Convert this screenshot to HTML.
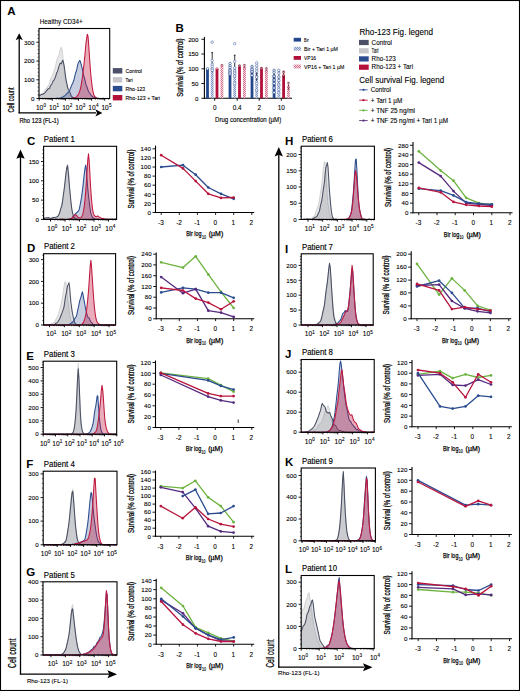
<!DOCTYPE html>
<html><head><meta charset="utf-8"><title>Figure</title>
<style>html,body{margin:0;padding:0;background:#fff;}body{width:520px;height:691px;overflow:hidden;font-family:"Liberation Sans",sans-serif;}svg{display:block;}</style>
</head><body>
<svg width="520" height="691" viewBox="0 0 520 691" font-family='"Liberation Sans", sans-serif'><text x="7.3" y="15.4" font-size="11.5" font-weight="bold">A</text>
<text x="39.8" y="24" font-size="7.2" stroke="#000" stroke-width="0.1" textLength="43" lengthAdjust="spacingAndGlyphs">Healthy CD34+</text>
<path d="M39,98.5 L39,94.6 L39.7,94.3 L40.4,94.4 L41.1,94.5 L41.8,94.1 L42.5,93.3 L43.2,93 L43.9,92.3 L44.6,90.9 L45.3,89.6 L46,88.8 L46.7,88.2 L47.4,87 L48.1,86 L48.8,85 L49.5,83 L50.2,80.4 L50.9,78.3 L51.6,77.5 L52.3,76.3 L53,73.8 L53.7,71.7 L54.4,69.9 L55.1,68.1 L55.8,65.3 L56.5,61.9 L57.2,59.5 L57.9,58.3 L58.6,56.6 L59.3,53.5 L60,50.6 L60.7,48.6 L61.4,47.3 L62.1,50.2 L62.8,56.4 L63.5,62.7 L64.2,69.2 L64.9,75.9 L65.6,81 L66.3,84.2 L67,87 L67.7,90.1 L68.4,92.4 L69.1,94.1 L69.8,95.8 L70.5,96.8 L71.2,97.1 L71.9,97.5 L72.6,97.9 L73.3,98.2 L74,98.3 L74.7,98.1 L75.4,98.2 L76.1,98.5 L76.8,98.5 L77.5,98.5 L78.2,98.4 L78.9,98.4 L79.6,98.5 L80.3,98.5 L81,98.4 L81.7,98.4 L82.4,98.5 L83.1,98.5 L83.8,98.5 L84.5,98.5 L85.2,98.5 L85.9,98.5 L86.6,98.5 L87.3,98.5 L88,98.5 L88.7,98.5 L89.4,98.4 L90.1,98.4 L90.8,98.4 L91.5,98.5 L92.2,98.5 L92.9,98.5 L93.6,98.5 L94.3,98.5 L95,98.5 L95.7,98.5 L96.4,98.5 L97.1,98.5 L97.8,98.5 L98.5,98.5 L99.2,98.5 L99.9,98.5 L100.6,98.5 L101.3,98.4 L102,98.4 L102.7,98.5 L103.4,98.5 L104.1,98.5 L104.8,98.5 L105.5,98.5 L106.2,98.5 L106.9,98.5 L107.6,98.5 L108.3,98.5 L109,98.4 L109.7,98.4 L109.7,98.5 Z" fill="rgba(150,150,156,0.22)" stroke="none"/>
<path d="M39,94.6 L39.7,94.3 L40.4,94.4 L41.1,94.5 L41.8,94.1 L42.5,93.3 L43.2,93 L43.9,92.3 L44.6,90.9 L45.3,89.6 L46,88.8 L46.7,88.2 L47.4,87 L48.1,86 L48.8,85 L49.5,83 L50.2,80.4 L50.9,78.3 L51.6,77.5 L52.3,76.3 L53,73.8 L53.7,71.7 L54.4,69.9 L55.1,68.1 L55.8,65.3 L56.5,61.9 L57.2,59.5 L57.9,58.3 L58.6,56.6 L59.3,53.5 L60,50.6 L60.7,48.6 L61.4,47.3 L62.1,50.2 L62.8,56.4 L63.5,62.7 L64.2,69.2 L64.9,75.9 L65.6,81 L66.3,84.2 L67,87 L67.7,90.1 L68.4,92.4 L69.1,94.1 L69.8,95.8 L70.5,96.8 L71.2,97.1 L71.9,97.5 L72.6,97.9 L73.3,98.2 L74,98.3 L74.7,98.1 L75.4,98.2 L76.1,98.5 L76.8,98.5 L77.5,98.5 L78.2,98.4 L78.9,98.4 L79.6,98.5 L80.3,98.5 L81,98.4 L81.7,98.4 L82.4,98.5 L83.1,98.5 L83.8,98.5 L84.5,98.5 L85.2,98.5 L85.9,98.5 L86.6,98.5 L87.3,98.5 L88,98.5 L88.7,98.5 L89.4,98.4 L90.1,98.4 L90.8,98.4 L91.5,98.5 L92.2,98.5 L92.9,98.5 L93.6,98.5 L94.3,98.5 L95,98.5 L95.7,98.5 L96.4,98.5 L97.1,98.5 L97.8,98.5 L98.5,98.5 L99.2,98.5 L99.9,98.5 L100.6,98.5 L101.3,98.4 L102,98.4 L102.7,98.5 L103.4,98.5 L104.1,98.5 L104.8,98.5 L105.5,98.5 L106.2,98.5 L106.9,98.5 L107.6,98.5 L108.3,98.5 L109,98.4 L109.7,98.4" fill="none" stroke="#d2d2d5" stroke-width="1.05" stroke-linejoin="round"/>
<path d="M39,98.5 L39,95 L39.7,95.3 L40.4,95.2 L41.1,94.6 L41.8,94.3 L42.5,94.4 L43.2,94 L43.9,93.5 L44.6,93.1 L45.3,92.4 L46,91.5 L46.7,90.7 L47.4,89.9 L48.1,88.8 L48.8,88.8 L49.5,88.6 L50.2,86.5 L50.9,85.2 L51.6,84.6 L52.3,82.9 L53,81.3 L53.7,80.4 L54.4,79.2 L55.1,77.8 L55.8,75.8 L56.5,73.3 L57.2,72 L57.9,70.2 L58.6,67.4 L59.3,65.4 L60,63.4 L60.7,63.2 L61.4,63.8 L62.1,61.4 L62.8,60.2 L63.5,62.6 L64.2,66.1 L64.9,71.4 L65.6,76.8 L66.3,80.9 L67,84.2 L67.7,87.6 L68.4,89.5 L69.1,90.2 L69.8,92.1 L70.5,94.1 L71.2,95.5 L71.9,96.7 L72.6,97.2 L73.3,97.5 L74,98 L74.7,98.2 L75.4,98.3 L76.1,98.4 L76.8,98.3 L77.5,98.2 L78.2,98.3 L78.9,98.5 L79.6,98.5 L80.3,98.5 L81,98.5 L81.7,98.5 L82.4,98.5 L83.1,98.4 L83.8,98.5 L84.5,98.5 L85.2,98.5 L85.9,98.5 L86.6,98.5 L87.3,98.5 L88,98.4 L88.7,98.5 L89.4,98.5 L90.1,98.5 L90.8,98.5 L91.5,98.5 L92.2,98.5 L92.9,98.5 L93.6,98.5 L94.3,98.5 L95,98.5 L95.7,98.5 L96.4,98.5 L97.1,98.5 L97.8,98.5 L98.5,98.5 L99.2,98.5 L99.9,98.5 L100.6,98.5 L101.3,98.5 L102,98.4 L102.7,98.3 L103.4,98.3 L104.1,98.4 L104.8,98.5 L105.5,98.5 L106.2,98.4 L106.9,98.4 L107.6,98.5 L108.3,98.5 L109,98.4 L109.7,98.4 L109.7,98.5 Z" fill="rgba(110,113,124,0.23)" stroke="none"/>
<path d="M39,95 L39.7,95.3 L40.4,95.2 L41.1,94.6 L41.8,94.3 L42.5,94.4 L43.2,94 L43.9,93.5 L44.6,93.1 L45.3,92.4 L46,91.5 L46.7,90.7 L47.4,89.9 L48.1,88.8 L48.8,88.8 L49.5,88.6 L50.2,86.5 L50.9,85.2 L51.6,84.6 L52.3,82.9 L53,81.3 L53.7,80.4 L54.4,79.2 L55.1,77.8 L55.8,75.8 L56.5,73.3 L57.2,72 L57.9,70.2 L58.6,67.4 L59.3,65.4 L60,63.4 L60.7,63.2 L61.4,63.8 L62.1,61.4 L62.8,60.2 L63.5,62.6 L64.2,66.1 L64.9,71.4 L65.6,76.8 L66.3,80.9 L67,84.2 L67.7,87.6 L68.4,89.5 L69.1,90.2 L69.8,92.1 L70.5,94.1 L71.2,95.5 L71.9,96.7 L72.6,97.2 L73.3,97.5 L74,98 L74.7,98.2 L75.4,98.3 L76.1,98.4 L76.8,98.3 L77.5,98.2 L78.2,98.3 L78.9,98.5 L79.6,98.5 L80.3,98.5 L81,98.5 L81.7,98.5 L82.4,98.5 L83.1,98.4 L83.8,98.5 L84.5,98.5 L85.2,98.5 L85.9,98.5 L86.6,98.5 L87.3,98.5 L88,98.4 L88.7,98.5 L89.4,98.5 L90.1,98.5 L90.8,98.5 L91.5,98.5 L92.2,98.5 L92.9,98.5 L93.6,98.5 L94.3,98.5 L95,98.5 L95.7,98.5 L96.4,98.5 L97.1,98.5 L97.8,98.5 L98.5,98.5 L99.2,98.5 L99.9,98.5 L100.6,98.5 L101.3,98.5 L102,98.4 L102.7,98.3 L103.4,98.3 L104.1,98.4 L104.8,98.5 L105.5,98.5 L106.2,98.4 L106.9,98.4 L107.6,98.5 L108.3,98.5 L109,98.4 L109.7,98.4" fill="none" stroke="#4a4f62" stroke-width="1.05" stroke-linejoin="round"/>
<path d="M39,98.5 L39,98.5 L39.7,98.5 L40.4,98.5 L41.1,98.5 L41.8,98.5 L42.5,98.5 L43.2,98.4 L43.9,98.4 L44.6,98.5 L45.3,98.4 L46,98.4 L46.7,98.4 L47.4,98.5 L48.1,98.5 L48.8,98.5 L49.5,98.5 L50.2,98.5 L50.9,98.5 L51.6,98.5 L52.3,98.5 L53,98.5 L53.7,98.4 L54.4,98.4 L55.1,98.5 L55.8,98.4 L56.5,98.2 L57.2,98.2 L57.9,98.2 L58.6,98.2 L59.3,98.2 L60,98.1 L60.7,98.1 L61.4,97.7 L62.1,97.3 L62.8,97.1 L63.5,96.6 L64.2,96 L64.9,95.7 L65.6,95 L66.3,94.1 L67,93.4 L67.7,92.8 L68.4,92.2 L69.1,91.2 L69.8,89.9 L70.5,88.3 L71.2,86.4 L71.9,84.6 L72.6,83.5 L73.3,81.8 L74,79.6 L74.7,76.7 L75.4,73.5 L76.1,71.8 L76.8,69.4 L77.5,65.6 L78.2,63.2 L78.9,62 L79.6,60.5 L80.3,61.1 L81,63.8 L81.7,66.4 L82.4,69.4 L83.1,73 L83.8,75.9 L84.5,78 L85.2,81.1 L85.9,84.4 L86.6,86 L87.3,87.8 L88,90.1 L88.7,91.7 L89.4,92.8 L90.1,93.6 L90.8,94.7 L91.5,95.7 L92.2,96.3 L92.9,96.8 L93.6,97.2 L94.3,97.4 L95,97.6 L95.7,98.2 L96.4,98.5 L97.1,98.3 L97.8,98.2 L98.5,98.3 L99.2,98.4 L99.9,98.4 L100.6,98.4 L101.3,98.4 L102,98.5 L102.7,98.4 L103.4,98.4 L104.1,98.4 L104.8,98.5 L105.5,98.4 L106.2,98.4 L106.9,98.5 L107.6,98.5 L108.3,98.5 L109,98.5 L109.7,98.5 L109.7,98.5 Z" fill="rgba(44,75,142,0.27)" stroke="none"/>
<path d="M39,98.5 L39.7,98.5 L40.4,98.5 L41.1,98.5 L41.8,98.5 L42.5,98.5 L43.2,98.4 L43.9,98.4 L44.6,98.5 L45.3,98.4 L46,98.4 L46.7,98.4 L47.4,98.5 L48.1,98.5 L48.8,98.5 L49.5,98.5 L50.2,98.5 L50.9,98.5 L51.6,98.5 L52.3,98.5 L53,98.5 L53.7,98.4 L54.4,98.4 L55.1,98.5 L55.8,98.4 L56.5,98.2 L57.2,98.2 L57.9,98.2 L58.6,98.2 L59.3,98.2 L60,98.1 L60.7,98.1 L61.4,97.7 L62.1,97.3 L62.8,97.1 L63.5,96.6 L64.2,96 L64.9,95.7 L65.6,95 L66.3,94.1 L67,93.4 L67.7,92.8 L68.4,92.2 L69.1,91.2 L69.8,89.9 L70.5,88.3 L71.2,86.4 L71.9,84.6 L72.6,83.5 L73.3,81.8 L74,79.6 L74.7,76.7 L75.4,73.5 L76.1,71.8 L76.8,69.4 L77.5,65.6 L78.2,63.2 L78.9,62 L79.6,60.5 L80.3,61.1 L81,63.8 L81.7,66.4 L82.4,69.4 L83.1,73 L83.8,75.9 L84.5,78 L85.2,81.1 L85.9,84.4 L86.6,86 L87.3,87.8 L88,90.1 L88.7,91.7 L89.4,92.8 L90.1,93.6 L90.8,94.7 L91.5,95.7 L92.2,96.3 L92.9,96.8 L93.6,97.2 L94.3,97.4 L95,97.6 L95.7,98.2 L96.4,98.5 L97.1,98.3 L97.8,98.2 L98.5,98.3 L99.2,98.4 L99.9,98.4 L100.6,98.4 L101.3,98.4 L102,98.5 L102.7,98.4 L103.4,98.4 L104.1,98.4 L104.8,98.5 L105.5,98.4 L106.2,98.4 L106.9,98.5 L107.6,98.5 L108.3,98.5 L109,98.5 L109.7,98.5" fill="none" stroke="#2c4b8e" stroke-width="1.05" stroke-linejoin="round"/>
<path d="M39,98.5 L39,98.5 L39.7,98.5 L40.4,98.5 L41.1,98.5 L41.8,98.5 L42.5,98.4 L43.2,98.5 L43.9,98.5 L44.6,98.5 L45.3,98.5 L46,98.5 L46.7,98.5 L47.4,98.5 L48.1,98.5 L48.8,98.4 L49.5,98.4 L50.2,98.5 L50.9,98.5 L51.6,98.5 L52.3,98.5 L53,98.5 L53.7,98.5 L54.4,98.5 L55.1,98.5 L55.8,98.5 L56.5,98.5 L57.2,98.5 L57.9,98.5 L58.6,98.5 L59.3,98.5 L60,98.5 L60.7,98.5 L61.4,98.4 L62.1,98.5 L62.8,98.5 L63.5,98.5 L64.2,98.5 L64.9,98.5 L65.6,98.5 L66.3,98.5 L67,98.5 L67.7,98.5 L68.4,98.5 L69.1,98.5 L69.8,98.4 L70.5,98.4 L71.2,98.4 L71.9,98.3 L72.6,98.2 L73.3,98.1 L74,98 L74.7,97.7 L75.4,97.5 L76.1,97.1 L76.8,96.4 L77.5,95.6 L78.2,94.6 L78.9,93.2 L79.6,91.4 L80.3,89.2 L81,86.1 L81.7,81.9 L82.4,77.4 L83.1,71.8 L83.8,65.8 L84.5,59.3 L85.2,51.8 L85.9,44.4 L86.6,38.5 L87.3,34.2 L88,36.2 L88.7,44.8 L89.4,55.5 L90.1,65.5 L90.8,74.2 L91.5,81.3 L92.2,86.9 L92.9,91.2 L93.6,94.2 L94.3,95.9 L95,96.7 L95.7,97.3 L96.4,97.7 L97.1,98.2 L97.8,98.4 L98.5,98.4 L99.2,98.5 L99.9,98.5 L100.6,98.5 L101.3,98.5 L102,98.5 L102.7,98.5 L103.4,98.5 L104.1,98.5 L104.8,98.5 L105.5,98.5 L106.2,98.5 L106.9,98.5 L107.6,98.5 L108.3,98.5 L109,98.5 L109.7,98.5 L109.7,98.5 Z" fill="rgba(192,24,63,0.36)" stroke="none"/>
<path d="M39,98.5 L39.7,98.5 L40.4,98.5 L41.1,98.5 L41.8,98.5 L42.5,98.4 L43.2,98.5 L43.9,98.5 L44.6,98.5 L45.3,98.5 L46,98.5 L46.7,98.5 L47.4,98.5 L48.1,98.5 L48.8,98.4 L49.5,98.4 L50.2,98.5 L50.9,98.5 L51.6,98.5 L52.3,98.5 L53,98.5 L53.7,98.5 L54.4,98.5 L55.1,98.5 L55.8,98.5 L56.5,98.5 L57.2,98.5 L57.9,98.5 L58.6,98.5 L59.3,98.5 L60,98.5 L60.7,98.5 L61.4,98.4 L62.1,98.5 L62.8,98.5 L63.5,98.5 L64.2,98.5 L64.9,98.5 L65.6,98.5 L66.3,98.5 L67,98.5 L67.7,98.5 L68.4,98.5 L69.1,98.5 L69.8,98.4 L70.5,98.4 L71.2,98.4 L71.9,98.3 L72.6,98.2 L73.3,98.1 L74,98 L74.7,97.7 L75.4,97.5 L76.1,97.1 L76.8,96.4 L77.5,95.6 L78.2,94.6 L78.9,93.2 L79.6,91.4 L80.3,89.2 L81,86.1 L81.7,81.9 L82.4,77.4 L83.1,71.8 L83.8,65.8 L84.5,59.3 L85.2,51.8 L85.9,44.4 L86.6,38.5 L87.3,34.2 L88,36.2 L88.7,44.8 L89.4,55.5 L90.1,65.5 L90.8,74.2 L91.5,81.3 L92.2,86.9 L92.9,91.2 L93.6,94.2 L94.3,95.9 L95,96.7 L95.7,97.3 L96.4,97.7 L97.1,98.2 L97.8,98.4 L98.5,98.4 L99.2,98.5 L99.9,98.5 L100.6,98.5 L101.3,98.5 L102,98.5 L102.7,98.5 L103.4,98.5 L104.1,98.5 L104.8,98.5 L105.5,98.5 L106.2,98.5 L106.9,98.5 L107.6,98.5 L108.3,98.5 L109,98.5 L109.7,98.5" fill="none" stroke="#c0183f" stroke-width="1.05" stroke-linejoin="round"/>
<rect x="39" y="28.5" width="70.7" height="70" fill="none" stroke="#000" stroke-width="1.1"/>
<line x1="36.4" y1="98.5" x2="39" y2="98.5" stroke="#000" stroke-width="0.9"/>
<text x="34.4" y="100.7" font-size="6.2" stroke="#000" stroke-width="0.1" text-anchor="end">0</text>
<line x1="37.6" y1="94.8" x2="39" y2="94.8" stroke="#000" stroke-width="0.6"/>
<line x1="37.6" y1="91" x2="39" y2="91" stroke="#000" stroke-width="0.6"/>
<line x1="37.6" y1="87.2" x2="39" y2="87.2" stroke="#000" stroke-width="0.6"/>
<line x1="37.6" y1="83.5" x2="39" y2="83.5" stroke="#000" stroke-width="0.6"/>
<line x1="36.4" y1="79.8" x2="39" y2="79.8" stroke="#000" stroke-width="0.9"/>
<text x="34.4" y="82" font-size="6.2" stroke="#000" stroke-width="0.1" text-anchor="end">100</text>
<line x1="37.6" y1="76" x2="39" y2="76" stroke="#000" stroke-width="0.6"/>
<line x1="37.6" y1="72.2" x2="39" y2="72.2" stroke="#000" stroke-width="0.6"/>
<line x1="37.6" y1="68.5" x2="39" y2="68.5" stroke="#000" stroke-width="0.6"/>
<line x1="37.6" y1="64.8" x2="39" y2="64.8" stroke="#000" stroke-width="0.6"/>
<line x1="36.4" y1="61" x2="39" y2="61" stroke="#000" stroke-width="0.9"/>
<text x="34.4" y="63.2" font-size="6.2" stroke="#000" stroke-width="0.1" text-anchor="end">200</text>
<line x1="37.6" y1="57.2" x2="39" y2="57.2" stroke="#000" stroke-width="0.6"/>
<line x1="37.6" y1="53.5" x2="39" y2="53.5" stroke="#000" stroke-width="0.6"/>
<line x1="37.6" y1="49.8" x2="39" y2="49.8" stroke="#000" stroke-width="0.6"/>
<line x1="37.6" y1="46" x2="39" y2="46" stroke="#000" stroke-width="0.6"/>
<line x1="36.4" y1="42.2" x2="39" y2="42.2" stroke="#000" stroke-width="0.9"/>
<text x="34.4" y="44.5" font-size="6.2" stroke="#000" stroke-width="0.1" text-anchor="end">300</text>
<line x1="37.6" y1="38.5" x2="39" y2="38.5" stroke="#000" stroke-width="0.6"/>
<line x1="37.6" y1="34.8" x2="39" y2="34.8" stroke="#000" stroke-width="0.6"/>
<line x1="37.6" y1="31" x2="39" y2="31" stroke="#000" stroke-width="0.6"/>
<line x1="39.2" y1="98.5" x2="39.2" y2="100.7" stroke="#000" stroke-width="0.9"/>
<line x1="43.1" y1="98.5" x2="43.1" y2="99.7" stroke="#000" stroke-width="0.6"/>
<line x1="45.5" y1="98.5" x2="45.5" y2="99.7" stroke="#000" stroke-width="0.6"/>
<line x1="47.1" y1="98.5" x2="47.1" y2="99.7" stroke="#000" stroke-width="0.6"/>
<line x1="48.4" y1="98.5" x2="48.4" y2="99.7" stroke="#000" stroke-width="0.6"/>
<line x1="49.4" y1="98.5" x2="49.4" y2="99.7" stroke="#000" stroke-width="0.6"/>
<line x1="50.3" y1="98.5" x2="50.3" y2="99.7" stroke="#000" stroke-width="0.6"/>
<line x1="51" y1="98.5" x2="51" y2="99.7" stroke="#000" stroke-width="0.6"/>
<line x1="51.7" y1="98.5" x2="51.7" y2="99.7" stroke="#000" stroke-width="0.6"/>
<text x="39.6" y="109.8" font-size="6.6" stroke="#000" stroke-width="0.1" text-anchor="middle">10</text>
<text x="43.5" y="107.2" font-size="4.6" stroke="#000" stroke-width="0.1">0</text>
<line x1="52.3" y1="98.5" x2="52.3" y2="100.7" stroke="#000" stroke-width="0.9"/>
<line x1="56.2" y1="98.5" x2="56.2" y2="99.7" stroke="#000" stroke-width="0.6"/>
<line x1="58.6" y1="98.5" x2="58.6" y2="99.7" stroke="#000" stroke-width="0.6"/>
<line x1="60.2" y1="98.5" x2="60.2" y2="99.7" stroke="#000" stroke-width="0.6"/>
<line x1="61.5" y1="98.5" x2="61.5" y2="99.7" stroke="#000" stroke-width="0.6"/>
<line x1="62.5" y1="98.5" x2="62.5" y2="99.7" stroke="#000" stroke-width="0.6"/>
<line x1="63.4" y1="98.5" x2="63.4" y2="99.7" stroke="#000" stroke-width="0.6"/>
<line x1="64.1" y1="98.5" x2="64.1" y2="99.7" stroke="#000" stroke-width="0.6"/>
<line x1="64.8" y1="98.5" x2="64.8" y2="99.7" stroke="#000" stroke-width="0.6"/>
<text x="52.7" y="109.8" font-size="6.6" stroke="#000" stroke-width="0.1" text-anchor="middle">10</text>
<text x="56.6" y="107.2" font-size="4.6" stroke="#000" stroke-width="0.1">1</text>
<line x1="65.4" y1="98.5" x2="65.4" y2="100.7" stroke="#000" stroke-width="0.9"/>
<line x1="69.3" y1="98.5" x2="69.3" y2="99.7" stroke="#000" stroke-width="0.6"/>
<line x1="71.7" y1="98.5" x2="71.7" y2="99.7" stroke="#000" stroke-width="0.6"/>
<line x1="73.3" y1="98.5" x2="73.3" y2="99.7" stroke="#000" stroke-width="0.6"/>
<line x1="74.6" y1="98.5" x2="74.6" y2="99.7" stroke="#000" stroke-width="0.6"/>
<line x1="75.6" y1="98.5" x2="75.6" y2="99.7" stroke="#000" stroke-width="0.6"/>
<line x1="76.5" y1="98.5" x2="76.5" y2="99.7" stroke="#000" stroke-width="0.6"/>
<line x1="77.2" y1="98.5" x2="77.2" y2="99.7" stroke="#000" stroke-width="0.6"/>
<line x1="77.9" y1="98.5" x2="77.9" y2="99.7" stroke="#000" stroke-width="0.6"/>
<text x="65.8" y="109.8" font-size="6.6" stroke="#000" stroke-width="0.1" text-anchor="middle">10</text>
<text x="69.7" y="107.2" font-size="4.6" stroke="#000" stroke-width="0.1">2</text>
<line x1="78.5" y1="98.5" x2="78.5" y2="100.7" stroke="#000" stroke-width="0.9"/>
<line x1="82.4" y1="98.5" x2="82.4" y2="99.7" stroke="#000" stroke-width="0.6"/>
<line x1="84.8" y1="98.5" x2="84.8" y2="99.7" stroke="#000" stroke-width="0.6"/>
<line x1="86.4" y1="98.5" x2="86.4" y2="99.7" stroke="#000" stroke-width="0.6"/>
<line x1="87.7" y1="98.5" x2="87.7" y2="99.7" stroke="#000" stroke-width="0.6"/>
<line x1="88.7" y1="98.5" x2="88.7" y2="99.7" stroke="#000" stroke-width="0.6"/>
<line x1="89.6" y1="98.5" x2="89.6" y2="99.7" stroke="#000" stroke-width="0.6"/>
<line x1="90.3" y1="98.5" x2="90.3" y2="99.7" stroke="#000" stroke-width="0.6"/>
<line x1="91" y1="98.5" x2="91" y2="99.7" stroke="#000" stroke-width="0.6"/>
<text x="78.9" y="109.8" font-size="6.6" stroke="#000" stroke-width="0.1" text-anchor="middle">10</text>
<text x="82.8" y="107.2" font-size="4.6" stroke="#000" stroke-width="0.1">3</text>
<line x1="91.6" y1="98.5" x2="91.6" y2="100.7" stroke="#000" stroke-width="0.9"/>
<line x1="95.5" y1="98.5" x2="95.5" y2="99.7" stroke="#000" stroke-width="0.6"/>
<line x1="97.9" y1="98.5" x2="97.9" y2="99.7" stroke="#000" stroke-width="0.6"/>
<line x1="99.5" y1="98.5" x2="99.5" y2="99.7" stroke="#000" stroke-width="0.6"/>
<line x1="100.8" y1="98.5" x2="100.8" y2="99.7" stroke="#000" stroke-width="0.6"/>
<line x1="101.8" y1="98.5" x2="101.8" y2="99.7" stroke="#000" stroke-width="0.6"/>
<line x1="102.7" y1="98.5" x2="102.7" y2="99.7" stroke="#000" stroke-width="0.6"/>
<line x1="103.4" y1="98.5" x2="103.4" y2="99.7" stroke="#000" stroke-width="0.6"/>
<line x1="104.1" y1="98.5" x2="104.1" y2="99.7" stroke="#000" stroke-width="0.6"/>
<text x="92" y="109.8" font-size="6.6" stroke="#000" stroke-width="0.1" text-anchor="middle">10</text>
<text x="95.9" y="107.2" font-size="4.6" stroke="#000" stroke-width="0.1">4</text>
<line x1="104.7" y1="98.5" x2="104.7" y2="100.7" stroke="#000" stroke-width="0.9"/>
<line x1="108.6" y1="98.5" x2="108.6" y2="99.7" stroke="#000" stroke-width="0.6"/>
<text x="105.1" y="109.8" font-size="6.6" stroke="#000" stroke-width="0.1" text-anchor="middle">10</text>
<text x="109" y="107.2" font-size="4.6" stroke="#000" stroke-width="0.1">5</text>
<line x1="19.2" y1="38" x2="19.2" y2="113.2" stroke="#000" stroke-width="1.3"/>
<polygon points="19.2,33.2 15.6,40.2 19.2,38.6 22.8,40.2" fill="#000"/>
<line x1="18.6" y1="112.9" x2="96" y2="112.9" stroke="#000" stroke-width="1.3"/>
<polygon points="102.4,112.9 95.4,109.3 97,112.9 95.4,116.5" fill="#000"/>
<text transform="translate(14.4,100) rotate(-90)" x="0" y="0" font-size="9.4" text-anchor="middle" textLength="25" lengthAdjust="spacingAndGlyphs" stroke="#000" stroke-width="0.25">Cell count</text>
<text x="19.4" y="123.4" font-size="7.8" stroke="#000" stroke-width="0.2" textLength="39.4" lengthAdjust="spacingAndGlyphs">Rho 123 (FL-1)</text>
<rect x="112.8" y="68.1" width="9.5" height="5.4" fill="#4b5068"/>
<text x="125.6" y="72.7" font-size="5.4" stroke="#000" stroke-width="0.1" textLength="16.4" lengthAdjust="spacingAndGlyphs">Control</text>
<rect x="112.8" y="77.1" width="9.5" height="5.4" fill="#c6c6ca"/>
<text x="125.6" y="81.7" font-size="5.4" stroke="#000" stroke-width="0.1" textLength="7.1" lengthAdjust="spacingAndGlyphs">Tari</text>
<rect x="112.8" y="85.9" width="9.5" height="5.4" fill="#2b4b8f"/>
<text x="125.6" y="90.5" font-size="5.4" stroke="#000" stroke-width="0.1" textLength="19.6" lengthAdjust="spacingAndGlyphs">Rho-123</text>
<rect x="112.8" y="95" width="9.5" height="5.4" fill="#b3103a"/>
<text x="125.6" y="99.6" font-size="5.4" stroke="#000" stroke-width="0.1" textLength="34.4" lengthAdjust="spacingAndGlyphs">Rho-123 + Tari</text>
<text x="175.6" y="32.1" font-size="11.5" font-weight="bold">B</text>
<line x1="204.4" y1="37" x2="204.4" y2="98.8" stroke="#000" stroke-width="1.1"/>
<line x1="203.9" y1="98.3" x2="292" y2="98.3" stroke="#000" stroke-width="1.1"/>
<line x1="201.4" y1="98.3" x2="204.4" y2="98.3" stroke="#000" stroke-width="0.9"/>
<text x="198.5" y="100.5" font-size="6.2" stroke="#000" stroke-width="0.1" text-anchor="end">0</text>
<line x1="201.4" y1="83.5" x2="204.4" y2="83.5" stroke="#000" stroke-width="0.9"/>
<text x="198.5" y="85.8" font-size="6.2" stroke="#000" stroke-width="0.1" text-anchor="end">50</text>
<line x1="201.4" y1="68.8" x2="204.4" y2="68.8" stroke="#000" stroke-width="0.9"/>
<text x="198.5" y="71" font-size="6.2" stroke="#000" stroke-width="0.1" text-anchor="end">100</text>
<line x1="201.4" y1="54" x2="204.4" y2="54" stroke="#000" stroke-width="0.9"/>
<text x="198.5" y="56.2" font-size="6.2" stroke="#000" stroke-width="0.1" text-anchor="end">150</text>
<line x1="201.4" y1="39.3" x2="204.4" y2="39.3" stroke="#000" stroke-width="0.9"/>
<text x="198.5" y="41.5" font-size="6.2" stroke="#000" stroke-width="0.1" text-anchor="end">200</text>
<text transform="translate(182.6,67.6) rotate(-90)" x="0" y="0" font-size="8.2" text-anchor="middle" textLength="58.3" lengthAdjust="spacingAndGlyphs" stroke="#000" stroke-width="0.26">Survival (% of control)</text>
<line x1="214.7" y1="98.3" x2="214.7" y2="100.8" stroke="#000" stroke-width="0.9"/>
<text x="214.7" y="110.3" font-size="6.4" stroke="#000" stroke-width="0.1" text-anchor="middle">0</text>
<line x1="237.2" y1="98.3" x2="237.2" y2="100.8" stroke="#000" stroke-width="0.9"/>
<text x="237.2" y="110.3" font-size="6.4" stroke="#000" stroke-width="0.1" text-anchor="middle">0.4</text>
<line x1="259.2" y1="98.3" x2="259.2" y2="100.8" stroke="#000" stroke-width="0.9"/>
<text x="259.2" y="110.3" font-size="6.4" stroke="#000" stroke-width="0.1" text-anchor="middle">2</text>
<line x1="281.3" y1="98.3" x2="281.3" y2="100.8" stroke="#000" stroke-width="0.9"/>
<text x="281.3" y="110.3" font-size="6.4" stroke="#000" stroke-width="0.1" text-anchor="middle">10</text>
<text x="215" y="121.5" font-size="7.6" stroke="#000" stroke-width="0.15" textLength="66.2" lengthAdjust="spacingAndGlyphs">Drug concentration (µM)</text>
<defs>
<pattern id="pb" width="2" height="2" patternUnits="userSpaceOnUse"><rect width="2" height="2" fill="#d5dcec"/><rect width="1" height="1" fill="#7d93c3"/><rect x="1" y="1" width="1" height="1" fill="#7d93c3"/></pattern>
<pattern id="pr" width="2" height="2" patternUnits="userSpaceOnUse"><rect width="2" height="2" fill="#f3d3dc"/><rect width="1" height="1" fill="#d66f8c"/><rect x="1" y="1" width="1" height="1" fill="#d66f8c"/></pattern>
</defs>
<rect x="206.1" y="68.8" width="2.8" height="29.5" fill="#23478c"/>
<rect x="210.8" y="67.6" width="2.8" height="30.7" fill="url(#pb)"/>
<rect x="215.6" y="68.8" width="2.8" height="29.5" fill="#b0103a"/>
<rect x="220.5" y="65.3" width="2.8" height="33" fill="url(#pr)"/>
<line x1="212.2" y1="52.6" x2="212.2" y2="72.3" stroke="#000" stroke-width="0.8"/>
<line x1="211.3" y1="52.6" x2="213.1" y2="52.6" stroke="#000" stroke-width="0.8"/>
<line x1="221.9" y1="64.7" x2="221.9" y2="66.4" stroke="#000" stroke-width="0.8"/>
<line x1="221" y1="64.7" x2="222.8" y2="64.7" stroke="#000" stroke-width="0.8"/>
<circle cx="207.5" cy="68.8" r="1.25" fill="#fff" stroke="#2d4f93" stroke-width="0.65"/>
<circle cx="212.2" cy="42.2" r="1.25" fill="#fff" stroke="#5b76b0" stroke-width="0.65"/>
<circle cx="212.2" cy="60.5" r="1.25" fill="#fff" stroke="#5b76b0" stroke-width="0.65"/>
<circle cx="212.2" cy="64.4" r="1.25" fill="#fff" stroke="#5b76b0" stroke-width="0.65"/>
<circle cx="212.2" cy="66.4" r="1.25" fill="#fff" stroke="#5b76b0" stroke-width="0.65"/>
<circle cx="212.2" cy="68.8" r="1.25" fill="#fff" stroke="#5b76b0" stroke-width="0.65"/>
<circle cx="212.2" cy="70.3" r="1.25" fill="#fff" stroke="#5b76b0" stroke-width="0.65"/>
<circle cx="217" cy="68.8" r="1.1" fill="#fff" fill-opacity="0.5" stroke="#b0103a" stroke-width="0.6"/>
<circle cx="221.9" cy="65.3" r="1.1" fill="#fff" fill-opacity="0.5" stroke="#d0577a" stroke-width="0.6"/>
<rect x="228.6" y="68.8" width="2.8" height="29.5" fill="#23478c"/>
<rect x="233.3" y="69.4" width="2.8" height="28.9" fill="url(#pb)"/>
<rect x="238.1" y="66.4" width="2.8" height="31.9" fill="#b0103a"/>
<rect x="243" y="65.8" width="2.8" height="32.4" fill="url(#pr)"/>
<line x1="230" y1="64.4" x2="230" y2="74.7" stroke="#000" stroke-width="0.8"/>
<line x1="229.1" y1="64.4" x2="230.9" y2="64.4" stroke="#000" stroke-width="0.8"/>
<line x1="234.7" y1="55.2" x2="234.7" y2="76.2" stroke="#000" stroke-width="0.8"/>
<line x1="233.8" y1="55.2" x2="235.6" y2="55.2" stroke="#000" stroke-width="0.8"/>
<line x1="239.5" y1="65.3" x2="239.5" y2="67.6" stroke="#000" stroke-width="0.8"/>
<line x1="238.6" y1="65.3" x2="240.4" y2="65.3" stroke="#000" stroke-width="0.8"/>
<line x1="244.4" y1="64.7" x2="244.4" y2="67.6" stroke="#000" stroke-width="0.8"/>
<line x1="243.5" y1="64.7" x2="245.3" y2="64.7" stroke="#000" stroke-width="0.8"/>
<circle cx="230" cy="63.5" r="1.25" fill="#fff" stroke="#2d4f93" stroke-width="0.65"/>
<circle cx="230" cy="65.8" r="1.25" fill="#fff" stroke="#2d4f93" stroke-width="0.65"/>
<circle cx="230" cy="67.6" r="1.25" fill="#fff" stroke="#2d4f93" stroke-width="0.65"/>
<circle cx="230" cy="70.3" r="1.25" fill="#fff" stroke="#2d4f93" stroke-width="0.65"/>
<circle cx="230" cy="72.3" r="1.25" fill="#fff" stroke="#2d4f93" stroke-width="0.65"/>
<circle cx="230" cy="74.1" r="1.25" fill="#fff" stroke="#2d4f93" stroke-width="0.65"/>
<circle cx="234.7" cy="43.7" r="1.25" fill="#fff" stroke="#5b76b0" stroke-width="0.65"/>
<circle cx="234.7" cy="61.4" r="1.25" fill="#fff" stroke="#5b76b0" stroke-width="0.65"/>
<circle cx="234.7" cy="67.9" r="1.25" fill="#fff" stroke="#5b76b0" stroke-width="0.65"/>
<circle cx="234.7" cy="70.9" r="1.25" fill="#fff" stroke="#5b76b0" stroke-width="0.65"/>
<circle cx="234.7" cy="73.2" r="1.25" fill="#fff" stroke="#5b76b0" stroke-width="0.65"/>
<circle cx="234.7" cy="75.9" r="1.25" fill="#fff" stroke="#5b76b0" stroke-width="0.65"/>
<circle cx="234.7" cy="83.5" r="1.25" fill="#fff" stroke="#5b76b0" stroke-width="0.65"/>
<circle cx="239.5" cy="65.8" r="1.1" fill="#fff" fill-opacity="0.5" stroke="#b0103a" stroke-width="0.6"/>
<circle cx="244.4" cy="65.3" r="1.1" fill="#fff" fill-opacity="0.5" stroke="#d0577a" stroke-width="0.6"/>
<circle cx="244.4" cy="68.8" r="1.1" fill="#fff" fill-opacity="0.5" stroke="#d0577a" stroke-width="0.6"/>
<rect x="250.6" y="69.4" width="2.8" height="28.9" fill="#23478c"/>
<rect x="255.3" y="71.8" width="2.8" height="26.5" fill="url(#pb)"/>
<rect x="260.1" y="68.5" width="2.8" height="29.8" fill="#b0103a"/>
<rect x="265" y="69.7" width="2.8" height="28.6" fill="url(#pr)"/>
<line x1="252" y1="66.4" x2="252" y2="73.2" stroke="#000" stroke-width="0.8"/>
<line x1="251.1" y1="66.4" x2="252.9" y2="66.4" stroke="#000" stroke-width="0.8"/>
<line x1="256.7" y1="65.3" x2="256.7" y2="80.6" stroke="#000" stroke-width="0.8"/>
<line x1="255.8" y1="65.3" x2="257.6" y2="65.3" stroke="#000" stroke-width="0.8"/>
<line x1="261.5" y1="67.6" x2="261.5" y2="69.4" stroke="#000" stroke-width="0.8"/>
<line x1="260.6" y1="67.6" x2="262.4" y2="67.6" stroke="#000" stroke-width="0.8"/>
<line x1="266.4" y1="67.9" x2="266.4" y2="71.2" stroke="#000" stroke-width="0.8"/>
<line x1="265.5" y1="67.9" x2="267.3" y2="67.9" stroke="#000" stroke-width="0.8"/>
<circle cx="252" cy="66.4" r="1.25" fill="#fff" stroke="#2d4f93" stroke-width="0.65"/>
<circle cx="252" cy="68.2" r="1.25" fill="#fff" stroke="#2d4f93" stroke-width="0.65"/>
<circle cx="252" cy="69.7" r="1.25" fill="#fff" stroke="#2d4f93" stroke-width="0.65"/>
<circle cx="252" cy="71.8" r="1.25" fill="#fff" stroke="#2d4f93" stroke-width="0.65"/>
<circle cx="252" cy="75.3" r="1.25" fill="#fff" stroke="#2d4f93" stroke-width="0.65"/>
<circle cx="256.7" cy="62.9" r="1.25" fill="#fff" stroke="#5b76b0" stroke-width="0.65"/>
<circle cx="256.7" cy="65.8" r="1.25" fill="#fff" stroke="#5b76b0" stroke-width="0.65"/>
<circle cx="256.7" cy="68.8" r="1.25" fill="#fff" stroke="#5b76b0" stroke-width="0.65"/>
<circle cx="256.7" cy="71.2" r="1.25" fill="#fff" stroke="#5b76b0" stroke-width="0.65"/>
<circle cx="256.7" cy="77.1" r="1.25" fill="#fff" stroke="#5b76b0" stroke-width="0.65"/>
<circle cx="256.7" cy="83.5" r="1.25" fill="#fff" stroke="#5b76b0" stroke-width="0.65"/>
<circle cx="256.7" cy="90" r="1.25" fill="#fff" stroke="#5b76b0" stroke-width="0.65"/>
<circle cx="261.5" cy="68.5" r="1.1" fill="#fff" fill-opacity="0.5" stroke="#b0103a" stroke-width="0.6"/>
<circle cx="266.4" cy="68.8" r="1.1" fill="#fff" fill-opacity="0.5" stroke="#d0577a" stroke-width="0.6"/>
<circle cx="266.4" cy="71.5" r="1.1" fill="#fff" fill-opacity="0.5" stroke="#d0577a" stroke-width="0.6"/>
<rect x="272.7" y="74.7" width="2.8" height="23.6" fill="#23478c"/>
<rect x="277.4" y="76.2" width="2.8" height="22.1" fill="url(#pb)"/>
<rect x="282.2" y="75.3" width="2.8" height="23" fill="#b0103a"/>
<rect x="287.1" y="85.9" width="2.8" height="12.4" fill="url(#pr)"/>
<line x1="274.1" y1="71.2" x2="274.1" y2="79.1" stroke="#000" stroke-width="0.8"/>
<line x1="273.2" y1="71.2" x2="275" y2="71.2" stroke="#000" stroke-width="0.8"/>
<line x1="278.8" y1="71.2" x2="278.8" y2="82.1" stroke="#000" stroke-width="0.8"/>
<line x1="277.9" y1="71.2" x2="279.7" y2="71.2" stroke="#000" stroke-width="0.8"/>
<line x1="283.6" y1="71.2" x2="283.6" y2="77.7" stroke="#000" stroke-width="0.8"/>
<line x1="282.7" y1="71.2" x2="284.5" y2="71.2" stroke="#000" stroke-width="0.8"/>
<line x1="288.5" y1="82.4" x2="288.5" y2="89.5" stroke="#000" stroke-width="0.8"/>
<line x1="287.6" y1="82.4" x2="289.4" y2="82.4" stroke="#000" stroke-width="0.8"/>
<circle cx="274.1" cy="70.3" r="1.25" fill="#fff" stroke="#2d4f93" stroke-width="0.65"/>
<circle cx="274.1" cy="72.3" r="1.25" fill="#fff" stroke="#2d4f93" stroke-width="0.65"/>
<circle cx="274.1" cy="76.2" r="1.25" fill="#fff" stroke="#2d4f93" stroke-width="0.65"/>
<circle cx="274.1" cy="80" r="1.25" fill="#fff" stroke="#2d4f93" stroke-width="0.65"/>
<circle cx="274.1" cy="83.5" r="1.25" fill="#fff" stroke="#2d4f93" stroke-width="0.65"/>
<circle cx="274.1" cy="88" r="1.25" fill="#fff" stroke="#2d4f93" stroke-width="0.65"/>
<circle cx="274.1" cy="92.4" r="1.25" fill="#fff" stroke="#2d4f93" stroke-width="0.65"/>
<circle cx="278.8" cy="70.3" r="1.25" fill="#fff" stroke="#5b76b0" stroke-width="0.65"/>
<circle cx="278.8" cy="73.2" r="1.25" fill="#fff" stroke="#5b76b0" stroke-width="0.65"/>
<circle cx="278.8" cy="77.1" r="1.25" fill="#fff" stroke="#5b76b0" stroke-width="0.65"/>
<circle cx="278.8" cy="80.6" r="1.25" fill="#fff" stroke="#5b76b0" stroke-width="0.65"/>
<circle cx="278.8" cy="85" r="1.25" fill="#fff" stroke="#5b76b0" stroke-width="0.65"/>
<circle cx="278.8" cy="89.5" r="1.25" fill="#fff" stroke="#5b76b0" stroke-width="0.65"/>
<circle cx="278.8" cy="93" r="1.25" fill="#fff" stroke="#5b76b0" stroke-width="0.65"/>
<circle cx="283.6" cy="72.3" r="1.1" fill="#fff" fill-opacity="0.5" stroke="#b0103a" stroke-width="0.6"/>
<circle cx="283.6" cy="75.3" r="1.1" fill="#fff" fill-opacity="0.5" stroke="#b0103a" stroke-width="0.6"/>
<circle cx="288.5" cy="83.5" r="1.1" fill="#fff" fill-opacity="0.5" stroke="#d0577a" stroke-width="0.6"/>
<circle cx="288.5" cy="87.1" r="1.1" fill="#fff" fill-opacity="0.5" stroke="#d0577a" stroke-width="0.6"/>
<rect x="293.7" y="37.8" width="7.3" height="3.8" fill="#23478c"/>
<text x="304.1" y="41.9" font-size="6" stroke="#000" stroke-width="0.1" textLength="4.7" lengthAdjust="spacingAndGlyphs">Bir</text>
<rect x="293.7" y="46.8" width="7.3" height="3.8" fill="url(#pb)"/>
<text x="304.1" y="50.9" font-size="6" stroke="#000" stroke-width="0.1" textLength="33.8" lengthAdjust="spacingAndGlyphs">Bir + Tari 1 µM</text>
<rect x="293.7" y="56" width="7.3" height="3.8" fill="#b0103a"/>
<text x="304.1" y="60.1" font-size="6" stroke="#000" stroke-width="0.1" textLength="12" lengthAdjust="spacingAndGlyphs">VP16</text>
<rect x="293.7" y="64.6" width="7.3" height="3.8" fill="url(#pr)"/>
<text x="304.1" y="68.7" font-size="6" stroke="#000" stroke-width="0.1" textLength="40.2" lengthAdjust="spacingAndGlyphs">VP16 + Tari 1 µM</text>
<text x="359.5" y="34.7" font-size="8.6" stroke="#000" stroke-width="0.1" textLength="73.5" lengthAdjust="spacingAndGlyphs">Rho-123 Fig. legend</text>
<rect x="359" y="39.9" width="9.7" height="5.2" fill="#4b5068"/>
<text x="371.6" y="44.7" font-size="6.5" stroke="#000" stroke-width="0.1" textLength="20.4" lengthAdjust="spacingAndGlyphs">Control</text>
<rect x="359" y="48.2" width="9.7" height="5.2" fill="#c6c6ca"/>
<text x="371.6" y="53" font-size="6.5" stroke="#000" stroke-width="0.1" textLength="7" lengthAdjust="spacingAndGlyphs">Tari</text>
<rect x="359" y="56.3" width="9.7" height="5.2" fill="#2b4b8f"/>
<text x="371.6" y="61.1" font-size="6.5" stroke="#000" stroke-width="0.1" textLength="24.2" lengthAdjust="spacingAndGlyphs">Rho-123</text>
<rect x="359" y="64.6" width="9.7" height="5.2" fill="#b3103a"/>
<text x="371.6" y="69.4" font-size="6.5" stroke="#000" stroke-width="0.1" textLength="41.5" lengthAdjust="spacingAndGlyphs">Rho-123 + Tari</text>
<text x="359.2" y="82.5" font-size="8.6" stroke="#000" stroke-width="0.1" textLength="85" lengthAdjust="spacingAndGlyphs">Cell survival Fig. legend</text>
<line x1="359.2" y1="89.8" x2="367.7" y2="89.8" stroke="#2b4c90" stroke-width="0.9"/>
<circle cx="363.5" cy="89.8" r="1.1" fill="#2b4c90"/>
<text x="370.8" y="92.1" font-size="6.3" stroke="#000" stroke-width="0.1" textLength="20.2" lengthAdjust="spacingAndGlyphs">Control</text>
<line x1="359.2" y1="100.2" x2="367.7" y2="100.2" stroke="#b8143d" stroke-width="0.9"/>
<circle cx="363.5" cy="100.2" r="1.1" fill="#b8143d"/>
<text x="370.8" y="102.5" font-size="6.3" stroke="#000" stroke-width="0.1" textLength="31.5" lengthAdjust="spacingAndGlyphs">+ Tari 1 µM</text>
<line x1="359.2" y1="110.4" x2="367.7" y2="110.4" stroke="#6db33f" stroke-width="0.9"/>
<circle cx="363.5" cy="110.4" r="1.1" fill="#6db33f"/>
<text x="370.8" y="112.7" font-size="6.3" stroke="#000" stroke-width="0.1" textLength="44.2" lengthAdjust="spacingAndGlyphs">+ TNF 25 ng/ml</text>
<line x1="359.2" y1="120.6" x2="367.7" y2="120.6" stroke="#562a7e" stroke-width="0.9"/>
<circle cx="363.5" cy="120.6" r="1.1" fill="#562a7e"/>
<text x="370.8" y="122.9" font-size="6.3" stroke="#000" stroke-width="0.1" textLength="77.2" lengthAdjust="spacingAndGlyphs">+ TNF 25 ng/ml + Tari 1 µM</text>
<line x1="20.5" y1="157" x2="20.5" y2="674.5" stroke="#000" stroke-width="1.3"/>
<polygon points="20.5,149.4 16.3,158.8 20.5,157.2 24.7,158.8" fill="#000"/>
<line x1="19.9" y1="674.2" x2="109" y2="674.2" stroke="#000" stroke-width="1.3"/>
<polygon points="117,674.2 107.5,670.2 109.2,674.2 107.5,678.2" fill="#000"/>
<text transform="translate(15.6,653.2) rotate(-90)" x="0" y="0" font-size="10.2" text-anchor="middle" textLength="29.4" lengthAdjust="spacingAndGlyphs" stroke="#000" stroke-width="0.25">Cell count</text>
<text x="26.9" y="682.9" font-size="6.2" stroke="#000" stroke-width="0.1" textLength="41" lengthAdjust="spacingAndGlyphs">Rho-123 (FL-1)</text>
<line x1="278.8" y1="155" x2="278.8" y2="667.5" stroke="#000" stroke-width="1.3"/>
<polygon points="278.8,147 274.6,156.4 278.8,154.8 282.9,156.4" fill="#000"/>
<line x1="278.1" y1="667.2" x2="364" y2="667.2" stroke="#000" stroke-width="1.3"/>
<polygon points="372.5,667.2 363,663.2 364.7,667.2 363,671.2" fill="#000"/>
<text transform="translate(273.8,653.5) rotate(-90)" x="0" y="0" font-size="10.2" text-anchor="middle" textLength="28" lengthAdjust="spacingAndGlyphs" stroke="#000" stroke-width="0.25">Cell count</text>
<text x="278" y="675.3" font-size="6.2" stroke="#000" stroke-width="0.1" textLength="41.5" lengthAdjust="spacingAndGlyphs">Rho-123 (FL-1)</text>
<text x="26.9" y="144.8" font-size="11.5" font-weight="bold">C</text>
<text x="43.8" y="141.6" font-size="8.9" stroke="#000" stroke-width="0.15" textLength="31" lengthAdjust="spacingAndGlyphs">Patient 1</text>
<path d="M43.6,219.4 L43.6,218.5 L44.3,218.1 L45,217.8 L45.7,218.1 L46.4,218.3 L47.1,218 L47.8,217.6 L48.5,217.7 L49.2,218.2 L49.9,218.3 L50.6,218 L51.3,217.8 L52,217.7 L52.7,217.8 L53.4,218.1 L54.1,217.9 L54.8,217.5 L55.5,217.7 L56.2,217.9 L56.9,217.5 L57.6,216.6 L58.3,215.6 L59,214.5 L59.7,212.8 L60.4,210.5 L61.1,207.4 L61.9,203.9 L62.6,200.9 L63.3,197.1 L64,191.5 L64.7,185.8 L65.4,180 L66.1,173.8 L66.8,167.9 L67.5,164.1 L68.2,168 L68.9,176 L69.6,187.4 L70.3,197.6 L71,205.2 L71.7,209.9 L72.4,213 L73.1,215.5 L73.8,217 L74.5,218.1 L75.2,218.8 L75.9,219 L76.6,219.1 L77.3,219.1 L78,219.3 L78.7,219.3 L79.4,219.3 L80.1,219.3 L80.8,219.4 L81.5,219.3 L82.2,219.3 L82.9,219.3 L83.6,219.3 L84.3,219.4 L85,219.4 L85.7,219.3 L86.4,219.2 L87.1,219.2 L87.8,219.3 L88.5,219.3 L89.2,219.3 L89.9,219.3 L90.6,219.4 L91.3,219.4 L92,219.4 L92.7,219.4 L93.4,219.4 L94.1,219.3 L94.8,219.2 L95.5,219.2 L96.2,219.2 L96.9,219.2 L97.6,219.3 L98.3,219.3 L99.1,219.2 L99.8,219.2 L100.5,219.4 L101.2,219.4 L101.9,219.2 L102.6,219.2 L103.3,219.3 L104,219.3 L104.7,219.4 L105.4,219.1 L106.1,219.1 L106.8,219.3 L107.5,219.3 L108.2,219.4 L108.9,219.4 L109.6,219.4 L110.3,219.3 L111,219.2 L111.7,219.3 L112.4,219.3 L113.1,219.3 L113.8,219.4 L114.5,219.3 L115.2,219.3 L115.9,219.4 L116.6,219.4 L116.6,219.4 Z" fill="rgba(150,150,156,0.22)" stroke="none"/>
<path d="M43.6,218.5 L44.3,218.1 L45,217.8 L45.7,218.1 L46.4,218.3 L47.1,218 L47.8,217.6 L48.5,217.7 L49.2,218.2 L49.9,218.3 L50.6,218 L51.3,217.8 L52,217.7 L52.7,217.8 L53.4,218.1 L54.1,217.9 L54.8,217.5 L55.5,217.7 L56.2,217.9 L56.9,217.5 L57.6,216.6 L58.3,215.6 L59,214.5 L59.7,212.8 L60.4,210.5 L61.1,207.4 L61.9,203.9 L62.6,200.9 L63.3,197.1 L64,191.5 L64.7,185.8 L65.4,180 L66.1,173.8 L66.8,167.9 L67.5,164.1 L68.2,168 L68.9,176 L69.6,187.4 L70.3,197.6 L71,205.2 L71.7,209.9 L72.4,213 L73.1,215.5 L73.8,217 L74.5,218.1 L75.2,218.8 L75.9,219 L76.6,219.1 L77.3,219.1 L78,219.3 L78.7,219.3 L79.4,219.3 L80.1,219.3 L80.8,219.4 L81.5,219.3 L82.2,219.3 L82.9,219.3 L83.6,219.3 L84.3,219.4 L85,219.4 L85.7,219.3 L86.4,219.2 L87.1,219.2 L87.8,219.3 L88.5,219.3 L89.2,219.3 L89.9,219.3 L90.6,219.4 L91.3,219.4 L92,219.4 L92.7,219.4 L93.4,219.4 L94.1,219.3 L94.8,219.2 L95.5,219.2 L96.2,219.2 L96.9,219.2 L97.6,219.3 L98.3,219.3 L99.1,219.2 L99.8,219.2 L100.5,219.4 L101.2,219.4 L101.9,219.2 L102.6,219.2 L103.3,219.3 L104,219.3 L104.7,219.4 L105.4,219.1 L106.1,219.1 L106.8,219.3 L107.5,219.3 L108.2,219.4 L108.9,219.4 L109.6,219.4 L110.3,219.3 L111,219.2 L111.7,219.3 L112.4,219.3 L113.1,219.3 L113.8,219.4 L114.5,219.3 L115.2,219.3 L115.9,219.4 L116.6,219.4" fill="none" stroke="#d2d2d5" stroke-width="1.05" stroke-linejoin="round"/>
<path d="M43.6,219.4 L43.6,218.6 L44.3,218.2 L45,218.1 L45.7,218 L46.4,217.8 L47.1,217.8 L47.8,217.7 L48.5,217.6 L49.2,218 L49.9,218.4 L50.6,218.5 L51.3,218.3 L52,218 L52.7,217.8 L53.4,217.6 L54.1,217.4 L54.8,217.4 L55.5,217.3 L56.2,217.1 L56.9,216.9 L57.6,216.5 L58.3,215.5 L59,214.4 L59.7,212.6 L60.4,209.9 L61.1,207.6 L61.9,205.3 L62.6,200.8 L63.3,195.2 L64,190.5 L64.7,184.9 L65.4,178.4 L66.1,172.4 L66.8,167.6 L67.5,165.6 L68.2,171.5 L68.9,179.9 L69.6,188.3 L70.3,195.3 L71,202 L71.7,208.1 L72.4,212.1 L73.1,214.9 L73.8,216.7 L74.5,217.7 L75.2,218.3 L75.9,219 L76.6,219.3 L77.3,219.2 L78,219.3 L78.7,219.4 L79.4,219.3 L80.1,219.4 L80.8,219.4 L81.5,219.4 L82.2,219.4 L82.9,219.4 L83.6,219.3 L84.3,219.4 L85,219.4 L85.7,219.3 L86.4,219.3 L87.1,219.4 L87.8,219.4 L88.5,219.3 L89.2,219.4 L89.9,219.4 L90.6,219.3 L91.3,219.2 L92,219.2 L92.7,219.2 L93.4,219.2 L94.1,219.2 L94.8,219.4 L95.5,219.4 L96.2,219.3 L96.9,219.2 L97.6,219.3 L98.3,219.3 L99.1,219.4 L99.8,219.4 L100.5,219.4 L101.2,219.4 L101.9,219.4 L102.6,219.2 L103.3,219.2 L104,219.3 L104.7,219.4 L105.4,219.4 L106.1,219.4 L106.8,219.4 L107.5,219.4 L108.2,219.4 L108.9,219.4 L109.6,219.4 L110.3,219.3 L111,219.2 L111.7,219.1 L112.4,219.1 L113.1,219.3 L113.8,219.4 L114.5,219.4 L115.2,219.4 L115.9,219.3 L116.6,219.2 L116.6,219.4 Z" fill="rgba(110,113,124,0.23)" stroke="none"/>
<path d="M43.6,218.6 L44.3,218.2 L45,218.1 L45.7,218 L46.4,217.8 L47.1,217.8 L47.8,217.7 L48.5,217.6 L49.2,218 L49.9,218.4 L50.6,218.5 L51.3,218.3 L52,218 L52.7,217.8 L53.4,217.6 L54.1,217.4 L54.8,217.4 L55.5,217.3 L56.2,217.1 L56.9,216.9 L57.6,216.5 L58.3,215.5 L59,214.4 L59.7,212.6 L60.4,209.9 L61.1,207.6 L61.9,205.3 L62.6,200.8 L63.3,195.2 L64,190.5 L64.7,184.9 L65.4,178.4 L66.1,172.4 L66.8,167.6 L67.5,165.6 L68.2,171.5 L68.9,179.9 L69.6,188.3 L70.3,195.3 L71,202 L71.7,208.1 L72.4,212.1 L73.1,214.9 L73.8,216.7 L74.5,217.7 L75.2,218.3 L75.9,219 L76.6,219.3 L77.3,219.2 L78,219.3 L78.7,219.4 L79.4,219.3 L80.1,219.4 L80.8,219.4 L81.5,219.4 L82.2,219.4 L82.9,219.4 L83.6,219.3 L84.3,219.4 L85,219.4 L85.7,219.3 L86.4,219.3 L87.1,219.4 L87.8,219.4 L88.5,219.3 L89.2,219.4 L89.9,219.4 L90.6,219.3 L91.3,219.2 L92,219.2 L92.7,219.2 L93.4,219.2 L94.1,219.2 L94.8,219.4 L95.5,219.4 L96.2,219.3 L96.9,219.2 L97.6,219.3 L98.3,219.3 L99.1,219.4 L99.8,219.4 L100.5,219.4 L101.2,219.4 L101.9,219.4 L102.6,219.2 L103.3,219.2 L104,219.3 L104.7,219.4 L105.4,219.4 L106.1,219.4 L106.8,219.4 L107.5,219.4 L108.2,219.4 L108.9,219.4 L109.6,219.4 L110.3,219.3 L111,219.2 L111.7,219.1 L112.4,219.1 L113.1,219.3 L113.8,219.4 L114.5,219.4 L115.2,219.4 L115.9,219.3 L116.6,219.2" fill="none" stroke="#4a4f62" stroke-width="1.05" stroke-linejoin="round"/>
<path d="M43.6,219.4 L43.6,219.3 L44.3,219.3 L45,219.4 L45.7,219.4 L46.4,219.4 L47.1,219.3 L47.8,219.3 L48.5,219.3 L49.2,219.4 L49.9,219.4 L50.6,219.4 L51.3,219.4 L52,219.4 L52.7,219.3 L53.4,219.3 L54.1,219.4 L54.8,219.4 L55.5,219.3 L56.2,219.2 L56.9,219.2 L57.6,219.3 L58.3,219.4 L59,219.4 L59.7,219.4 L60.4,219.3 L61.1,219.4 L61.9,219.3 L62.6,219.3 L63.3,219.4 L64,219.4 L64.7,219.4 L65.4,219.4 L66.1,219.4 L66.8,219.3 L67.5,219.3 L68.2,219.2 L68.9,219.1 L69.6,219.1 L70.3,218.7 L71,218.5 L71.7,218.4 L72.4,217.6 L73.1,216.3 L73.8,215.4 L74.5,214.9 L75.2,214 L75.9,213.3 L76.6,212.8 L77.3,212.3 L78,211.4 L78.7,210.6 L79.4,208.6 L80.1,205.1 L80.8,201.4 L81.5,197.4 L82.2,192.4 L82.9,186.6 L83.6,180.1 L84.3,173.6 L85,168.3 L85.7,165.1 L86.4,169.8 L87.1,179.7 L87.8,188.9 L88.5,195.5 L89.2,201.5 L89.9,207.4 L90.6,212.1 L91.3,214.7 L92,216.6 L92.7,217.7 L93.4,218 L94.1,218.5 L94.8,219 L95.5,219.1 L96.2,219.1 L96.9,219.3 L97.6,219.2 L98.3,219.1 L99.1,219.2 L99.8,219.4 L100.5,219.4 L101.2,219.3 L101.9,219.3 L102.6,219.4 L103.3,219.4 L104,219.4 L104.7,219.4 L105.4,219.3 L106.1,219.3 L106.8,219.2 L107.5,219.2 L108.2,219.3 L108.9,219.3 L109.6,219.2 L110.3,219.3 L111,219.4 L111.7,219.4 L112.4,219.3 L113.1,219.3 L113.8,219.4 L114.5,219.2 L115.2,219 L115.9,219.2 L116.6,219.3 L116.6,219.4 Z" fill="rgba(44,75,142,0.27)" stroke="none"/>
<path d="M43.6,219.3 L44.3,219.3 L45,219.4 L45.7,219.4 L46.4,219.4 L47.1,219.3 L47.8,219.3 L48.5,219.3 L49.2,219.4 L49.9,219.4 L50.6,219.4 L51.3,219.4 L52,219.4 L52.7,219.3 L53.4,219.3 L54.1,219.4 L54.8,219.4 L55.5,219.3 L56.2,219.2 L56.9,219.2 L57.6,219.3 L58.3,219.4 L59,219.4 L59.7,219.4 L60.4,219.3 L61.1,219.4 L61.9,219.3 L62.6,219.3 L63.3,219.4 L64,219.4 L64.7,219.4 L65.4,219.4 L66.1,219.4 L66.8,219.3 L67.5,219.3 L68.2,219.2 L68.9,219.1 L69.6,219.1 L70.3,218.7 L71,218.5 L71.7,218.4 L72.4,217.6 L73.1,216.3 L73.8,215.4 L74.5,214.9 L75.2,214 L75.9,213.3 L76.6,212.8 L77.3,212.3 L78,211.4 L78.7,210.6 L79.4,208.6 L80.1,205.1 L80.8,201.4 L81.5,197.4 L82.2,192.4 L82.9,186.6 L83.6,180.1 L84.3,173.6 L85,168.3 L85.7,165.1 L86.4,169.8 L87.1,179.7 L87.8,188.9 L88.5,195.5 L89.2,201.5 L89.9,207.4 L90.6,212.1 L91.3,214.7 L92,216.6 L92.7,217.7 L93.4,218 L94.1,218.5 L94.8,219 L95.5,219.1 L96.2,219.1 L96.9,219.3 L97.6,219.2 L98.3,219.1 L99.1,219.2 L99.8,219.4 L100.5,219.4 L101.2,219.3 L101.9,219.3 L102.6,219.4 L103.3,219.4 L104,219.4 L104.7,219.4 L105.4,219.3 L106.1,219.3 L106.8,219.2 L107.5,219.2 L108.2,219.3 L108.9,219.3 L109.6,219.2 L110.3,219.3 L111,219.4 L111.7,219.4 L112.4,219.3 L113.1,219.3 L113.8,219.4 L114.5,219.2 L115.2,219 L115.9,219.2 L116.6,219.3" fill="none" stroke="#2c4b8e" stroke-width="1.05" stroke-linejoin="round"/>
<path d="M43.6,219.4 L43.6,219.3 L44.3,219.3 L45,219.4 L45.7,219.4 L46.4,219.4 L47.1,219.4 L47.8,219.4 L48.5,219.4 L49.2,219.4 L49.9,219.4 L50.6,219.4 L51.3,219.4 L52,219.3 L52.7,219.3 L53.4,219.4 L54.1,219.4 L54.8,219.4 L55.5,219.3 L56.2,219.4 L56.9,219.4 L57.6,219.4 L58.3,219.4 L59,219.3 L59.7,219.3 L60.4,219.3 L61.1,219.3 L61.9,219.3 L62.6,219.3 L63.3,219.3 L64,219.3 L64.7,219.3 L65.4,219.4 L66.1,219.4 L66.8,219.4 L67.5,219.4 L68.2,219.3 L68.9,219.3 L69.6,219.2 L70.3,218.9 L71,218.5 L71.7,218.1 L72.4,217.7 L73.1,216.9 L73.8,216 L74.5,215.2 L75.2,214.5 L75.9,214.9 L76.6,215.7 L77.3,216.4 L78,217.1 L78.7,217.6 L79.4,217.8 L80.1,217.9 L80.8,217.7 L81.5,216.9 L82.2,215.7 L82.9,213.7 L83.6,210.4 L84.3,205.8 L85,199.6 L85.7,191.4 L86.4,181.2 L87.1,170.2 L87.8,159.9 L88.5,153.7 L89.2,161.4 L89.9,173.9 L90.6,187 L91.3,196.9 L92,204.3 L92.7,210.1 L93.4,213.4 L94.1,215.1 L94.8,216 L95.5,216.5 L96.2,216.6 L96.9,216.4 L97.6,216 L98.3,216.3 L99.1,216.9 L99.8,217.3 L100.5,217.6 L101.2,218.1 L101.9,218.4 L102.6,218.6 L103.3,218.6 L104,218.8 L104.7,219 L105.4,219.1 L106.1,219.2 L106.8,219.2 L107.5,219.2 L108.2,219.3 L108.9,219.3 L109.6,219.3 L110.3,219.4 L111,219.4 L111.7,219.3 L112.4,219.4 L113.1,219.4 L113.8,219.4 L114.5,219.3 L115.2,219.3 L115.9,219.4 L116.6,219.4 L116.6,219.4 Z" fill="rgba(192,24,63,0.36)" stroke="none"/>
<path d="M43.6,219.3 L44.3,219.3 L45,219.4 L45.7,219.4 L46.4,219.4 L47.1,219.4 L47.8,219.4 L48.5,219.4 L49.2,219.4 L49.9,219.4 L50.6,219.4 L51.3,219.4 L52,219.3 L52.7,219.3 L53.4,219.4 L54.1,219.4 L54.8,219.4 L55.5,219.3 L56.2,219.4 L56.9,219.4 L57.6,219.4 L58.3,219.4 L59,219.3 L59.7,219.3 L60.4,219.3 L61.1,219.3 L61.9,219.3 L62.6,219.3 L63.3,219.3 L64,219.3 L64.7,219.3 L65.4,219.4 L66.1,219.4 L66.8,219.4 L67.5,219.4 L68.2,219.3 L68.9,219.3 L69.6,219.2 L70.3,218.9 L71,218.5 L71.7,218.1 L72.4,217.7 L73.1,216.9 L73.8,216 L74.5,215.2 L75.2,214.5 L75.9,214.9 L76.6,215.7 L77.3,216.4 L78,217.1 L78.7,217.6 L79.4,217.8 L80.1,217.9 L80.8,217.7 L81.5,216.9 L82.2,215.7 L82.9,213.7 L83.6,210.4 L84.3,205.8 L85,199.6 L85.7,191.4 L86.4,181.2 L87.1,170.2 L87.8,159.9 L88.5,153.7 L89.2,161.4 L89.9,173.9 L90.6,187 L91.3,196.9 L92,204.3 L92.7,210.1 L93.4,213.4 L94.1,215.1 L94.8,216 L95.5,216.5 L96.2,216.6 L96.9,216.4 L97.6,216 L98.3,216.3 L99.1,216.9 L99.8,217.3 L100.5,217.6 L101.2,218.1 L101.9,218.4 L102.6,218.6 L103.3,218.6 L104,218.8 L104.7,219 L105.4,219.1 L106.1,219.2 L106.8,219.2 L107.5,219.2 L108.2,219.3 L108.9,219.3 L109.6,219.3 L110.3,219.4 L111,219.4 L111.7,219.3 L112.4,219.4 L113.1,219.4 L113.8,219.4 L114.5,219.3 L115.2,219.3 L115.9,219.4 L116.6,219.4" fill="none" stroke="#c0183f" stroke-width="1.05" stroke-linejoin="round"/>
<rect x="43.6" y="146.3" width="73" height="73.1" fill="none" stroke="#000" stroke-width="1.1"/>
<line x1="41" y1="219.4" x2="43.6" y2="219.4" stroke="#000" stroke-width="0.9"/>
<text x="39" y="221.6" font-size="6.2" stroke="#000" stroke-width="0.1" text-anchor="end">0</text>
<line x1="42.2" y1="215.5" x2="43.6" y2="215.5" stroke="#000" stroke-width="0.6"/>
<line x1="42.2" y1="211.7" x2="43.6" y2="211.7" stroke="#000" stroke-width="0.6"/>
<line x1="42.2" y1="207.8" x2="43.6" y2="207.8" stroke="#000" stroke-width="0.6"/>
<line x1="42.2" y1="204" x2="43.6" y2="204" stroke="#000" stroke-width="0.6"/>
<line x1="41" y1="200.1" x2="43.6" y2="200.1" stroke="#000" stroke-width="0.9"/>
<text x="39" y="202.3" font-size="6.2" stroke="#000" stroke-width="0.1" text-anchor="end">50</text>
<line x1="42.2" y1="196.2" x2="43.6" y2="196.2" stroke="#000" stroke-width="0.6"/>
<line x1="42.2" y1="192.4" x2="43.6" y2="192.4" stroke="#000" stroke-width="0.6"/>
<line x1="42.2" y1="188.5" x2="43.6" y2="188.5" stroke="#000" stroke-width="0.6"/>
<line x1="42.2" y1="184.7" x2="43.6" y2="184.7" stroke="#000" stroke-width="0.6"/>
<line x1="41" y1="180.8" x2="43.6" y2="180.8" stroke="#000" stroke-width="0.9"/>
<text x="39" y="183" font-size="6.2" stroke="#000" stroke-width="0.1" text-anchor="end">100</text>
<line x1="42.2" y1="176.9" x2="43.6" y2="176.9" stroke="#000" stroke-width="0.6"/>
<line x1="42.2" y1="173.1" x2="43.6" y2="173.1" stroke="#000" stroke-width="0.6"/>
<line x1="42.2" y1="169.2" x2="43.6" y2="169.2" stroke="#000" stroke-width="0.6"/>
<line x1="42.2" y1="165.4" x2="43.6" y2="165.4" stroke="#000" stroke-width="0.6"/>
<line x1="41" y1="161.5" x2="43.6" y2="161.5" stroke="#000" stroke-width="0.9"/>
<text x="39" y="163.7" font-size="6.2" stroke="#000" stroke-width="0.1" text-anchor="end">150</text>
<line x1="42.2" y1="157.6" x2="43.6" y2="157.6" stroke="#000" stroke-width="0.6"/>
<line x1="42.2" y1="153.8" x2="43.6" y2="153.8" stroke="#000" stroke-width="0.6"/>
<line x1="42.2" y1="149.9" x2="43.6" y2="149.9" stroke="#000" stroke-width="0.6"/>
<line x1="50.5" y1="219.4" x2="50.5" y2="221.6" stroke="#000" stroke-width="0.9"/>
<line x1="54.9" y1="219.4" x2="54.9" y2="220.6" stroke="#000" stroke-width="0.6"/>
<line x1="57.4" y1="219.4" x2="57.4" y2="220.6" stroke="#000" stroke-width="0.6"/>
<line x1="59.2" y1="219.4" x2="59.2" y2="220.6" stroke="#000" stroke-width="0.6"/>
<line x1="60.6" y1="219.4" x2="60.6" y2="220.6" stroke="#000" stroke-width="0.6"/>
<line x1="61.8" y1="219.4" x2="61.8" y2="220.6" stroke="#000" stroke-width="0.6"/>
<line x1="62.8" y1="219.4" x2="62.8" y2="220.6" stroke="#000" stroke-width="0.6"/>
<line x1="63.6" y1="219.4" x2="63.6" y2="220.6" stroke="#000" stroke-width="0.6"/>
<line x1="64.3" y1="219.4" x2="64.3" y2="220.6" stroke="#000" stroke-width="0.6"/>
<text x="50.9" y="230.7" font-size="6.6" stroke="#000" stroke-width="0.1" text-anchor="middle">10</text>
<text x="54.8" y="228.1" font-size="4.6" stroke="#000" stroke-width="0.1">0</text>
<line x1="65" y1="219.4" x2="65" y2="221.6" stroke="#000" stroke-width="0.9"/>
<line x1="69.4" y1="219.4" x2="69.4" y2="220.6" stroke="#000" stroke-width="0.6"/>
<line x1="71.9" y1="219.4" x2="71.9" y2="220.6" stroke="#000" stroke-width="0.6"/>
<line x1="73.7" y1="219.4" x2="73.7" y2="220.6" stroke="#000" stroke-width="0.6"/>
<line x1="75.1" y1="219.4" x2="75.1" y2="220.6" stroke="#000" stroke-width="0.6"/>
<line x1="76.3" y1="219.4" x2="76.3" y2="220.6" stroke="#000" stroke-width="0.6"/>
<line x1="77.3" y1="219.4" x2="77.3" y2="220.6" stroke="#000" stroke-width="0.6"/>
<line x1="78.1" y1="219.4" x2="78.1" y2="220.6" stroke="#000" stroke-width="0.6"/>
<line x1="78.8" y1="219.4" x2="78.8" y2="220.6" stroke="#000" stroke-width="0.6"/>
<text x="65.4" y="230.7" font-size="6.6" stroke="#000" stroke-width="0.1" text-anchor="middle">10</text>
<text x="69.3" y="228.1" font-size="4.6" stroke="#000" stroke-width="0.1">1</text>
<line x1="79.5" y1="219.4" x2="79.5" y2="221.6" stroke="#000" stroke-width="0.9"/>
<line x1="83.9" y1="219.4" x2="83.9" y2="220.6" stroke="#000" stroke-width="0.6"/>
<line x1="86.4" y1="219.4" x2="86.4" y2="220.6" stroke="#000" stroke-width="0.6"/>
<line x1="88.2" y1="219.4" x2="88.2" y2="220.6" stroke="#000" stroke-width="0.6"/>
<line x1="89.6" y1="219.4" x2="89.6" y2="220.6" stroke="#000" stroke-width="0.6"/>
<line x1="90.8" y1="219.4" x2="90.8" y2="220.6" stroke="#000" stroke-width="0.6"/>
<line x1="91.8" y1="219.4" x2="91.8" y2="220.6" stroke="#000" stroke-width="0.6"/>
<line x1="92.6" y1="219.4" x2="92.6" y2="220.6" stroke="#000" stroke-width="0.6"/>
<line x1="93.3" y1="219.4" x2="93.3" y2="220.6" stroke="#000" stroke-width="0.6"/>
<text x="79.9" y="230.7" font-size="6.6" stroke="#000" stroke-width="0.1" text-anchor="middle">10</text>
<text x="83.8" y="228.1" font-size="4.6" stroke="#000" stroke-width="0.1">2</text>
<line x1="94" y1="219.4" x2="94" y2="221.6" stroke="#000" stroke-width="0.9"/>
<line x1="98.4" y1="219.4" x2="98.4" y2="220.6" stroke="#000" stroke-width="0.6"/>
<line x1="100.9" y1="219.4" x2="100.9" y2="220.6" stroke="#000" stroke-width="0.6"/>
<line x1="102.7" y1="219.4" x2="102.7" y2="220.6" stroke="#000" stroke-width="0.6"/>
<line x1="104.1" y1="219.4" x2="104.1" y2="220.6" stroke="#000" stroke-width="0.6"/>
<line x1="105.3" y1="219.4" x2="105.3" y2="220.6" stroke="#000" stroke-width="0.6"/>
<line x1="106.3" y1="219.4" x2="106.3" y2="220.6" stroke="#000" stroke-width="0.6"/>
<line x1="107.1" y1="219.4" x2="107.1" y2="220.6" stroke="#000" stroke-width="0.6"/>
<line x1="107.8" y1="219.4" x2="107.8" y2="220.6" stroke="#000" stroke-width="0.6"/>
<text x="94.4" y="230.7" font-size="6.6" stroke="#000" stroke-width="0.1" text-anchor="middle">10</text>
<text x="98.3" y="228.1" font-size="4.6" stroke="#000" stroke-width="0.1">3</text>
<line x1="108.5" y1="219.4" x2="108.5" y2="221.6" stroke="#000" stroke-width="0.9"/>
<line x1="112.9" y1="219.4" x2="112.9" y2="220.6" stroke="#000" stroke-width="0.6"/>
<line x1="115.4" y1="219.4" x2="115.4" y2="220.6" stroke="#000" stroke-width="0.6"/>
<text x="108.9" y="230.7" font-size="6.6" stroke="#000" stroke-width="0.1" text-anchor="middle">10</text>
<text x="112.8" y="228.1" font-size="4.6" stroke="#000" stroke-width="0.1">4</text>
<line x1="155.5" y1="145.6" x2="155.5" y2="213" stroke="#000" stroke-width="1.1"/>
<line x1="155" y1="212.5" x2="254.2" y2="212.5" stroke="#000" stroke-width="1.1"/>
<line x1="152.5" y1="212.5" x2="155.5" y2="212.5" stroke="#000" stroke-width="0.9"/>
<text x="150.9" y="214.7" font-size="6.2" stroke="#000" stroke-width="0.1" text-anchor="end">0</text>
<line x1="152.5" y1="203.4" x2="155.5" y2="203.4" stroke="#000" stroke-width="0.9"/>
<text x="150.9" y="205.6" font-size="6.2" stroke="#000" stroke-width="0.1" text-anchor="end">20</text>
<line x1="152.5" y1="194.3" x2="155.5" y2="194.3" stroke="#000" stroke-width="0.9"/>
<text x="150.9" y="196.5" font-size="6.2" stroke="#000" stroke-width="0.1" text-anchor="end">40</text>
<line x1="152.5" y1="185.2" x2="155.5" y2="185.2" stroke="#000" stroke-width="0.9"/>
<text x="150.9" y="187.4" font-size="6.2" stroke="#000" stroke-width="0.1" text-anchor="end">60</text>
<line x1="152.5" y1="176.1" x2="155.5" y2="176.1" stroke="#000" stroke-width="0.9"/>
<text x="150.9" y="178.3" font-size="6.2" stroke="#000" stroke-width="0.1" text-anchor="end">80</text>
<line x1="152.5" y1="167" x2="155.5" y2="167" stroke="#000" stroke-width="0.9"/>
<text x="150.9" y="169.2" font-size="6.2" stroke="#000" stroke-width="0.1" text-anchor="end">100</text>
<line x1="152.5" y1="157.9" x2="155.5" y2="157.9" stroke="#000" stroke-width="0.9"/>
<text x="150.9" y="160.1" font-size="6.2" stroke="#000" stroke-width="0.1" text-anchor="end">120</text>
<line x1="152.5" y1="148.8" x2="155.5" y2="148.8" stroke="#000" stroke-width="0.9"/>
<text x="150.9" y="151" font-size="6.2" stroke="#000" stroke-width="0.1" text-anchor="end">140</text>
<line x1="161.2" y1="212.5" x2="161.2" y2="214.9" stroke="#000" stroke-width="0.9"/>
<text x="160.9" y="224.8" font-size="6.4" stroke="#000" stroke-width="0.1" text-anchor="middle">-3</text>
<line x1="179.3" y1="212.5" x2="179.3" y2="214.9" stroke="#000" stroke-width="0.9"/>
<text x="179" y="224.8" font-size="6.4" stroke="#000" stroke-width="0.1" text-anchor="middle">-2</text>
<line x1="197.4" y1="212.5" x2="197.4" y2="214.9" stroke="#000" stroke-width="0.9"/>
<text x="197.1" y="224.8" font-size="6.4" stroke="#000" stroke-width="0.1" text-anchor="middle">-1</text>
<line x1="215.6" y1="212.5" x2="215.6" y2="214.9" stroke="#000" stroke-width="0.9"/>
<text x="215.2" y="224.8" font-size="6.4" stroke="#000" stroke-width="0.1" text-anchor="middle">0</text>
<line x1="233.7" y1="212.5" x2="233.7" y2="214.9" stroke="#000" stroke-width="0.9"/>
<text x="233.3" y="224.8" font-size="6.4" stroke="#000" stroke-width="0.1" text-anchor="middle">1</text>
<line x1="251.8" y1="212.5" x2="251.8" y2="214.9" stroke="#000" stroke-width="0.9"/>
<text x="251.4" y="224.8" font-size="6.4" stroke="#000" stroke-width="0.1" text-anchor="middle">2</text>
<text x="186.2" y="236.3" font-size="7.2" stroke="#000" stroke-width="0.25" textLength="15.4" lengthAdjust="spacingAndGlyphs">Bir log</text>
<text x="202.1" y="239.1" font-size="4.6" stroke="#000" stroke-width="0.15" textLength="3.9" lengthAdjust="spacingAndGlyphs">10</text>
<text x="208.8" y="236.3" font-size="7.2" stroke="#000" stroke-width="0.25" textLength="14.4" lengthAdjust="spacingAndGlyphs">(µM)</text>
<text transform="translate(133.5,179.1) rotate(-90)" x="0" y="0" font-size="8.2" text-anchor="middle" textLength="59" lengthAdjust="spacingAndGlyphs" stroke="#000" stroke-width="0.26">Survival (% of control)</text>
<polyline points="161.2,167 183,165.2 195.7,174.7 208.3,187.5 221,193.8 233.7,198.8" fill="none" stroke="#2b4c90" stroke-width="1.3" stroke-linejoin="round"/>
<circle cx="161.2" cy="167" r="1.35" fill="#2b4c90"/>
<circle cx="183" cy="165.2" r="1.35" fill="#2b4c90"/>
<circle cx="195.7" cy="174.7" r="1.35" fill="#2b4c90"/>
<circle cx="208.3" cy="187.5" r="1.35" fill="#2b4c90"/>
<circle cx="221" cy="193.8" r="1.35" fill="#2b4c90"/>
<circle cx="233.7" cy="198.8" r="1.35" fill="#2b4c90"/>
<polyline points="161.2,155.2 183,168.4 195.7,181.1 208.3,193.8 221,197.9 233.7,197.5" fill="none" stroke="#b8143d" stroke-width="1.3" stroke-linejoin="round"/>
<circle cx="161.2" cy="155.2" r="1.35" fill="#b8143d"/>
<circle cx="183" cy="168.4" r="1.35" fill="#b8143d"/>
<circle cx="195.7" cy="181.1" r="1.35" fill="#b8143d"/>
<circle cx="208.3" cy="193.8" r="1.35" fill="#b8143d"/>
<circle cx="221" cy="197.9" r="1.35" fill="#b8143d"/>
<circle cx="233.7" cy="197.5" r="1.35" fill="#b8143d"/>
<text x="26.9" y="251.5" font-size="11.5" font-weight="bold">D</text>
<text x="44" y="248.8" font-size="8.9" stroke="#000" stroke-width="0.15" textLength="31" lengthAdjust="spacingAndGlyphs">Patient 2</text>
<path d="M43.6,325 L43.6,324.8 L44.3,324.8 L45,325 L45.7,325 L46.4,324.8 L47.1,324.6 L47.8,324.7 L48.5,324.9 L49.2,324.8 L50,324.5 L50.7,324.1 L51.4,324 L52.1,323.9 L52.8,323.5 L53.5,323 L54.2,322.5 L54.9,321.6 L55.6,320.2 L56.3,318.8 L57,317.6 L57.7,316.3 L58.4,314.7 L59.1,312.1 L59.8,309.6 L60.5,307.3 L61.2,303.7 L62,299.7 L62.7,296.1 L63.4,291.4 L64.1,286.5 L64.8,282.7 L65.5,281.6 L66.2,284.5 L66.9,291 L67.6,297.7 L68.3,304.2 L69,310.1 L69.7,314.9 L70.4,318.4 L71.1,321 L71.8,322.6 L72.5,323.4 L73.2,323.8 L74,324.4 L74.7,324.9 L75.4,325 L76.1,325 L76.8,325 L77.5,324.9 L78.2,324.9 L78.9,325 L79.6,325 L80.3,324.9 L81,325 L81.7,325 L82.4,325 L83.1,325 L83.8,325 L84.5,324.9 L85.2,324.9 L86,325 L86.7,325 L87.4,325 L88.1,325 L88.8,325 L89.5,325 L90.2,325 L90.9,325 L91.6,324.9 L92.3,324.9 L93,325 L93.7,325 L94.4,325 L95.1,325 L95.8,325 L96.5,324.9 L97.2,324.9 L98,324.9 L98.7,325 L99.4,324.9 L100.1,324.8 L100.8,324.9 L101.5,325 L102.2,325 L102.9,325 L103.6,325 L104.3,325 L105,325 L105.7,325 L106.4,324.9 L107.1,324.8 L107.8,324.9 L108.5,325 L109.2,325 L110,325 L110.7,325 L111.4,325 L112.1,324.9 L112.8,324.9 L113.5,324.9 L114.2,325 L114.9,325 L115.6,325 L115.6,325 Z" fill="rgba(150,150,156,0.22)" stroke="none"/>
<path d="M43.6,324.8 L44.3,324.8 L45,325 L45.7,325 L46.4,324.8 L47.1,324.6 L47.8,324.7 L48.5,324.9 L49.2,324.8 L50,324.5 L50.7,324.1 L51.4,324 L52.1,323.9 L52.8,323.5 L53.5,323 L54.2,322.5 L54.9,321.6 L55.6,320.2 L56.3,318.8 L57,317.6 L57.7,316.3 L58.4,314.7 L59.1,312.1 L59.8,309.6 L60.5,307.3 L61.2,303.7 L62,299.7 L62.7,296.1 L63.4,291.4 L64.1,286.5 L64.8,282.7 L65.5,281.6 L66.2,284.5 L66.9,291 L67.6,297.7 L68.3,304.2 L69,310.1 L69.7,314.9 L70.4,318.4 L71.1,321 L71.8,322.6 L72.5,323.4 L73.2,323.8 L74,324.4 L74.7,324.9 L75.4,325 L76.1,325 L76.8,325 L77.5,324.9 L78.2,324.9 L78.9,325 L79.6,325 L80.3,324.9 L81,325 L81.7,325 L82.4,325 L83.1,325 L83.8,325 L84.5,324.9 L85.2,324.9 L86,325 L86.7,325 L87.4,325 L88.1,325 L88.8,325 L89.5,325 L90.2,325 L90.9,325 L91.6,324.9 L92.3,324.9 L93,325 L93.7,325 L94.4,325 L95.1,325 L95.8,325 L96.5,324.9 L97.2,324.9 L98,324.9 L98.7,325 L99.4,324.9 L100.1,324.8 L100.8,324.9 L101.5,325 L102.2,325 L102.9,325 L103.6,325 L104.3,325 L105,325 L105.7,325 L106.4,324.9 L107.1,324.8 L107.8,324.9 L108.5,325 L109.2,325 L110,325 L110.7,325 L111.4,325 L112.1,324.9 L112.8,324.9 L113.5,324.9 L114.2,325 L114.9,325 L115.6,325" fill="none" stroke="#d2d2d5" stroke-width="1.05" stroke-linejoin="round"/>
<path d="M43.6,325 L43.6,324.9 L44.3,324.8 L45,324.7 L45.7,324.8 L46.4,324.9 L47.1,324.9 L47.8,325 L48.5,325 L49.2,324.9 L50,324.8 L50.7,324.7 L51.4,324.8 L52.1,325 L52.8,324.9 L53.5,324.8 L54.2,324.6 L54.9,324.1 L55.6,323.5 L56.3,323 L57,322.7 L57.7,322 L58.4,320.7 L59.1,319.7 L59.8,318.6 L60.5,316.8 L61.2,315 L62,312.9 L62.7,310.9 L63.4,309.1 L64.1,306.5 L64.8,301.5 L65.5,296.5 L66.2,293.5 L66.9,289.3 L67.6,285.9 L68.3,284.4 L69,282.8 L69.7,288 L70.4,296.9 L71.1,304 L71.8,309.1 L72.5,313.4 L73.2,316.9 L74,320.2 L74.7,322.6 L75.4,323.7 L76.1,324.2 L76.8,324.4 L77.5,324.6 L78.2,324.9 L78.9,325 L79.6,324.9 L80.3,324.9 L81,324.9 L81.7,325 L82.4,325 L83.1,325 L83.8,325 L84.5,324.7 L85.2,324.8 L86,324.9 L86.7,325 L87.4,325 L88.1,324.9 L88.8,324.9 L89.5,325 L90.2,325 L90.9,325 L91.6,325 L92.3,325 L93,325 L93.7,325 L94.4,325 L95.1,324.9 L95.8,324.9 L96.5,325 L97.2,325 L98,325 L98.7,325 L99.4,325 L100.1,325 L100.8,325 L101.5,325 L102.2,324.9 L102.9,324.9 L103.6,325 L104.3,325 L105,325 L105.7,325 L106.4,325 L107.1,324.9 L107.8,325 L108.5,325 L109.2,325 L110,325 L110.7,325 L111.4,325 L112.1,325 L112.8,325 L113.5,325 L114.2,325 L114.9,325 L115.6,325 L115.6,325 Z" fill="rgba(110,113,124,0.23)" stroke="none"/>
<path d="M43.6,324.9 L44.3,324.8 L45,324.7 L45.7,324.8 L46.4,324.9 L47.1,324.9 L47.8,325 L48.5,325 L49.2,324.9 L50,324.8 L50.7,324.7 L51.4,324.8 L52.1,325 L52.8,324.9 L53.5,324.8 L54.2,324.6 L54.9,324.1 L55.6,323.5 L56.3,323 L57,322.7 L57.7,322 L58.4,320.7 L59.1,319.7 L59.8,318.6 L60.5,316.8 L61.2,315 L62,312.9 L62.7,310.9 L63.4,309.1 L64.1,306.5 L64.8,301.5 L65.5,296.5 L66.2,293.5 L66.9,289.3 L67.6,285.9 L68.3,284.4 L69,282.8 L69.7,288 L70.4,296.9 L71.1,304 L71.8,309.1 L72.5,313.4 L73.2,316.9 L74,320.2 L74.7,322.6 L75.4,323.7 L76.1,324.2 L76.8,324.4 L77.5,324.6 L78.2,324.9 L78.9,325 L79.6,324.9 L80.3,324.9 L81,324.9 L81.7,325 L82.4,325 L83.1,325 L83.8,325 L84.5,324.7 L85.2,324.8 L86,324.9 L86.7,325 L87.4,325 L88.1,324.9 L88.8,324.9 L89.5,325 L90.2,325 L90.9,325 L91.6,325 L92.3,325 L93,325 L93.7,325 L94.4,325 L95.1,324.9 L95.8,324.9 L96.5,325 L97.2,325 L98,325 L98.7,325 L99.4,325 L100.1,325 L100.8,325 L101.5,325 L102.2,324.9 L102.9,324.9 L103.6,325 L104.3,325 L105,325 L105.7,325 L106.4,325 L107.1,324.9 L107.8,325 L108.5,325 L109.2,325 L110,325 L110.7,325 L111.4,325 L112.1,325 L112.8,325 L113.5,325 L114.2,325 L114.9,325 L115.6,325" fill="none" stroke="#4a4f62" stroke-width="1.05" stroke-linejoin="round"/>
<path d="M43.6,325 L43.6,324.8 L44.3,325 L45,325 L45.7,325 L46.4,325 L47.1,325 L47.8,325 L48.5,325 L49.2,324.9 L50,324.9 L50.7,324.9 L51.4,324.9 L52.1,324.9 L52.8,325 L53.5,325 L54.2,325 L54.9,325 L55.6,325 L56.3,325 L57,325 L57.7,325 L58.4,325 L59.1,325 L59.8,325 L60.5,325 L61.2,325 L62,325 L62.7,325 L63.4,325 L64.1,325 L64.8,324.9 L65.5,324.9 L66.2,325 L66.9,324.9 L67.6,324.8 L68.3,324.7 L69,324.5 L69.7,324.2 L70.4,323.7 L71.1,323.2 L71.8,322.8 L72.5,322.3 L73.2,321.4 L74,320 L74.7,318.7 L75.4,317.7 L76.1,316.8 L76.8,314.7 L77.5,311.4 L78.2,308 L78.9,304.8 L79.6,301.4 L80.3,298.9 L81,297 L81.7,293.8 L82.4,291.8 L83.1,294.9 L83.8,299.1 L84.5,302.3 L85.2,306.5 L86,310.7 L86.7,313.5 L87.4,316.2 L88.1,317.6 L88.8,317.8 L89.5,318.8 L90.2,320.6 L90.9,321.8 L91.6,322.5 L92.3,323.4 L93,324.4 L93.7,324.7 L94.4,324.7 L95.1,325 L95.8,325 L96.5,325 L97.2,325 L98,325 L98.7,324.9 L99.4,324.9 L100.1,325 L100.8,325 L101.5,325 L102.2,324.9 L102.9,324.8 L103.6,325 L104.3,325 L105,325 L105.7,325 L106.4,325 L107.1,325 L107.8,325 L108.5,325 L109.2,324.9 L110,324.9 L110.7,325 L111.4,325 L112.1,324.9 L112.8,324.9 L113.5,325 L114.2,325 L114.9,325 L115.6,325 L115.6,325 Z" fill="rgba(44,75,142,0.27)" stroke="none"/>
<path d="M43.6,324.8 L44.3,325 L45,325 L45.7,325 L46.4,325 L47.1,325 L47.8,325 L48.5,325 L49.2,324.9 L50,324.9 L50.7,324.9 L51.4,324.9 L52.1,324.9 L52.8,325 L53.5,325 L54.2,325 L54.9,325 L55.6,325 L56.3,325 L57,325 L57.7,325 L58.4,325 L59.1,325 L59.8,325 L60.5,325 L61.2,325 L62,325 L62.7,325 L63.4,325 L64.1,325 L64.8,324.9 L65.5,324.9 L66.2,325 L66.9,324.9 L67.6,324.8 L68.3,324.7 L69,324.5 L69.7,324.2 L70.4,323.7 L71.1,323.2 L71.8,322.8 L72.5,322.3 L73.2,321.4 L74,320 L74.7,318.7 L75.4,317.7 L76.1,316.8 L76.8,314.7 L77.5,311.4 L78.2,308 L78.9,304.8 L79.6,301.4 L80.3,298.9 L81,297 L81.7,293.8 L82.4,291.8 L83.1,294.9 L83.8,299.1 L84.5,302.3 L85.2,306.5 L86,310.7 L86.7,313.5 L87.4,316.2 L88.1,317.6 L88.8,317.8 L89.5,318.8 L90.2,320.6 L90.9,321.8 L91.6,322.5 L92.3,323.4 L93,324.4 L93.7,324.7 L94.4,324.7 L95.1,325 L95.8,325 L96.5,325 L97.2,325 L98,325 L98.7,324.9 L99.4,324.9 L100.1,325 L100.8,325 L101.5,325 L102.2,324.9 L102.9,324.8 L103.6,325 L104.3,325 L105,325 L105.7,325 L106.4,325 L107.1,325 L107.8,325 L108.5,325 L109.2,324.9 L110,324.9 L110.7,325 L111.4,325 L112.1,324.9 L112.8,324.9 L113.5,325 L114.2,325 L114.9,325 L115.6,325" fill="none" stroke="#2c4b8e" stroke-width="1.05" stroke-linejoin="round"/>
<path d="M43.6,325 L43.6,325 L44.3,325 L45,324.9 L45.7,324.8 L46.4,324.9 L47.1,324.9 L47.8,324.9 L48.5,324.9 L49.2,324.9 L50,324.9 L50.7,325 L51.4,325 L52.1,325 L52.8,325 L53.5,325 L54.2,325 L54.9,325 L55.6,325 L56.3,325 L57,325 L57.7,325 L58.4,324.9 L59.1,324.9 L59.8,324.9 L60.5,325 L61.2,325 L62,325 L62.7,325 L63.4,325 L64.1,325 L64.8,325 L65.5,325 L66.2,325 L66.9,324.9 L67.6,324.9 L68.3,325 L69,325 L69.7,325 L70.4,325 L71.1,325 L71.8,325 L72.5,325 L73.2,325 L74,325 L74.7,325 L75.4,324.9 L76.1,325 L76.8,325 L77.5,325 L78.2,325 L78.9,324.9 L79.6,324.9 L80.3,325 L81,324.7 L81.7,324.3 L82.4,323.9 L83.1,322.9 L83.8,321.5 L84.5,319.7 L85.2,317.2 L86,314 L86.7,309.4 L87.4,303 L88.1,295.8 L88.8,287 L89.5,276.2 L90.2,266.1 L90.9,260.2 L91.6,267.5 L92.3,278.3 L93,289 L93.7,299.1 L94.4,307 L95.1,313 L95.8,317.4 L96.5,320.3 L97.2,322.3 L98,323.1 L98.7,323.6 L99.4,324.3 L100.1,324.8 L100.8,325 L101.5,325 L102.2,325 L102.9,325 L103.6,325 L104.3,325 L105,325 L105.7,325 L106.4,324.9 L107.1,324.9 L107.8,325 L108.5,325 L109.2,325 L110,325 L110.7,325 L111.4,325 L112.1,325 L112.8,325 L113.5,325 L114.2,325 L114.9,325 L115.6,325 L115.6,325 Z" fill="rgba(192,24,63,0.36)" stroke="none"/>
<path d="M43.6,325 L44.3,325 L45,324.9 L45.7,324.8 L46.4,324.9 L47.1,324.9 L47.8,324.9 L48.5,324.9 L49.2,324.9 L50,324.9 L50.7,325 L51.4,325 L52.1,325 L52.8,325 L53.5,325 L54.2,325 L54.9,325 L55.6,325 L56.3,325 L57,325 L57.7,325 L58.4,324.9 L59.1,324.9 L59.8,324.9 L60.5,325 L61.2,325 L62,325 L62.7,325 L63.4,325 L64.1,325 L64.8,325 L65.5,325 L66.2,325 L66.9,324.9 L67.6,324.9 L68.3,325 L69,325 L69.7,325 L70.4,325 L71.1,325 L71.8,325 L72.5,325 L73.2,325 L74,325 L74.7,325 L75.4,324.9 L76.1,325 L76.8,325 L77.5,325 L78.2,325 L78.9,324.9 L79.6,324.9 L80.3,325 L81,324.7 L81.7,324.3 L82.4,323.9 L83.1,322.9 L83.8,321.5 L84.5,319.7 L85.2,317.2 L86,314 L86.7,309.4 L87.4,303 L88.1,295.8 L88.8,287 L89.5,276.2 L90.2,266.1 L90.9,260.2 L91.6,267.5 L92.3,278.3 L93,289 L93.7,299.1 L94.4,307 L95.1,313 L95.8,317.4 L96.5,320.3 L97.2,322.3 L98,323.1 L98.7,323.6 L99.4,324.3 L100.1,324.8 L100.8,325 L101.5,325 L102.2,325 L102.9,325 L103.6,325 L104.3,325 L105,325 L105.7,325 L106.4,324.9 L107.1,324.9 L107.8,325 L108.5,325 L109.2,325 L110,325 L110.7,325 L111.4,325 L112.1,325 L112.8,325 L113.5,325 L114.2,325 L114.9,325 L115.6,325" fill="none" stroke="#c0183f" stroke-width="1.05" stroke-linejoin="round"/>
<rect x="43.6" y="253.7" width="72" height="71.3" fill="none" stroke="#000" stroke-width="1.1"/>
<line x1="41" y1="325" x2="43.6" y2="325" stroke="#000" stroke-width="0.9"/>
<text x="39" y="327.2" font-size="6.2" stroke="#000" stroke-width="0.1" text-anchor="end">0</text>
<line x1="42.2" y1="320.6" x2="43.6" y2="320.6" stroke="#000" stroke-width="0.6"/>
<line x1="42.2" y1="316.3" x2="43.6" y2="316.3" stroke="#000" stroke-width="0.6"/>
<line x1="42.2" y1="311.9" x2="43.6" y2="311.9" stroke="#000" stroke-width="0.6"/>
<line x1="42.2" y1="307.6" x2="43.6" y2="307.6" stroke="#000" stroke-width="0.6"/>
<line x1="41" y1="303.2" x2="43.6" y2="303.2" stroke="#000" stroke-width="0.9"/>
<text x="39" y="305.4" font-size="6.2" stroke="#000" stroke-width="0.1" text-anchor="end">100</text>
<line x1="42.2" y1="298.8" x2="43.6" y2="298.8" stroke="#000" stroke-width="0.6"/>
<line x1="42.2" y1="294.5" x2="43.6" y2="294.5" stroke="#000" stroke-width="0.6"/>
<line x1="42.2" y1="290.1" x2="43.6" y2="290.1" stroke="#000" stroke-width="0.6"/>
<line x1="42.2" y1="285.8" x2="43.6" y2="285.8" stroke="#000" stroke-width="0.6"/>
<line x1="41" y1="281.4" x2="43.6" y2="281.4" stroke="#000" stroke-width="0.9"/>
<text x="39" y="283.6" font-size="6.2" stroke="#000" stroke-width="0.1" text-anchor="end">200</text>
<line x1="42.2" y1="277" x2="43.6" y2="277" stroke="#000" stroke-width="0.6"/>
<line x1="42.2" y1="272.7" x2="43.6" y2="272.7" stroke="#000" stroke-width="0.6"/>
<line x1="42.2" y1="268.3" x2="43.6" y2="268.3" stroke="#000" stroke-width="0.6"/>
<line x1="42.2" y1="264" x2="43.6" y2="264" stroke="#000" stroke-width="0.6"/>
<line x1="41" y1="259.6" x2="43.6" y2="259.6" stroke="#000" stroke-width="0.9"/>
<text x="39" y="261.8" font-size="6.2" stroke="#000" stroke-width="0.1" text-anchor="end">300</text>
<line x1="42.2" y1="255.2" x2="43.6" y2="255.2" stroke="#000" stroke-width="0.6"/>
<line x1="49.5" y1="325" x2="49.5" y2="327.2" stroke="#000" stroke-width="0.9"/>
<line x1="54" y1="325" x2="54" y2="326.2" stroke="#000" stroke-width="0.6"/>
<line x1="56.6" y1="325" x2="56.6" y2="326.2" stroke="#000" stroke-width="0.6"/>
<line x1="58.5" y1="325" x2="58.5" y2="326.2" stroke="#000" stroke-width="0.6"/>
<line x1="59.9" y1="325" x2="59.9" y2="326.2" stroke="#000" stroke-width="0.6"/>
<line x1="61.1" y1="325" x2="61.1" y2="326.2" stroke="#000" stroke-width="0.6"/>
<line x1="62.1" y1="325" x2="62.1" y2="326.2" stroke="#000" stroke-width="0.6"/>
<line x1="63" y1="325" x2="63" y2="326.2" stroke="#000" stroke-width="0.6"/>
<line x1="63.7" y1="325" x2="63.7" y2="326.2" stroke="#000" stroke-width="0.6"/>
<text x="49.9" y="336.3" font-size="6.6" stroke="#000" stroke-width="0.1" text-anchor="middle">10</text>
<text x="53.8" y="333.7" font-size="4.6" stroke="#000" stroke-width="0.1">1</text>
<line x1="64.4" y1="325" x2="64.4" y2="327.2" stroke="#000" stroke-width="0.9"/>
<line x1="68.9" y1="325" x2="68.9" y2="326.2" stroke="#000" stroke-width="0.6"/>
<line x1="71.5" y1="325" x2="71.5" y2="326.2" stroke="#000" stroke-width="0.6"/>
<line x1="73.4" y1="325" x2="73.4" y2="326.2" stroke="#000" stroke-width="0.6"/>
<line x1="74.8" y1="325" x2="74.8" y2="326.2" stroke="#000" stroke-width="0.6"/>
<line x1="76" y1="325" x2="76" y2="326.2" stroke="#000" stroke-width="0.6"/>
<line x1="77" y1="325" x2="77" y2="326.2" stroke="#000" stroke-width="0.6"/>
<line x1="77.9" y1="325" x2="77.9" y2="326.2" stroke="#000" stroke-width="0.6"/>
<line x1="78.6" y1="325" x2="78.6" y2="326.2" stroke="#000" stroke-width="0.6"/>
<text x="64.8" y="336.3" font-size="6.6" stroke="#000" stroke-width="0.1" text-anchor="middle">10</text>
<text x="68.7" y="333.7" font-size="4.6" stroke="#000" stroke-width="0.1">2</text>
<line x1="79.3" y1="325" x2="79.3" y2="327.2" stroke="#000" stroke-width="0.9"/>
<line x1="83.8" y1="325" x2="83.8" y2="326.2" stroke="#000" stroke-width="0.6"/>
<line x1="86.4" y1="325" x2="86.4" y2="326.2" stroke="#000" stroke-width="0.6"/>
<line x1="88.3" y1="325" x2="88.3" y2="326.2" stroke="#000" stroke-width="0.6"/>
<line x1="89.7" y1="325" x2="89.7" y2="326.2" stroke="#000" stroke-width="0.6"/>
<line x1="90.9" y1="325" x2="90.9" y2="326.2" stroke="#000" stroke-width="0.6"/>
<line x1="91.9" y1="325" x2="91.9" y2="326.2" stroke="#000" stroke-width="0.6"/>
<line x1="92.8" y1="325" x2="92.8" y2="326.2" stroke="#000" stroke-width="0.6"/>
<line x1="93.5" y1="325" x2="93.5" y2="326.2" stroke="#000" stroke-width="0.6"/>
<text x="79.7" y="336.3" font-size="6.6" stroke="#000" stroke-width="0.1" text-anchor="middle">10</text>
<text x="83.6" y="333.7" font-size="4.6" stroke="#000" stroke-width="0.1">3</text>
<line x1="94.2" y1="325" x2="94.2" y2="327.2" stroke="#000" stroke-width="0.9"/>
<line x1="98.7" y1="325" x2="98.7" y2="326.2" stroke="#000" stroke-width="0.6"/>
<line x1="101.3" y1="325" x2="101.3" y2="326.2" stroke="#000" stroke-width="0.6"/>
<line x1="103.2" y1="325" x2="103.2" y2="326.2" stroke="#000" stroke-width="0.6"/>
<line x1="104.6" y1="325" x2="104.6" y2="326.2" stroke="#000" stroke-width="0.6"/>
<line x1="105.8" y1="325" x2="105.8" y2="326.2" stroke="#000" stroke-width="0.6"/>
<line x1="106.8" y1="325" x2="106.8" y2="326.2" stroke="#000" stroke-width="0.6"/>
<line x1="107.7" y1="325" x2="107.7" y2="326.2" stroke="#000" stroke-width="0.6"/>
<line x1="108.4" y1="325" x2="108.4" y2="326.2" stroke="#000" stroke-width="0.6"/>
<text x="94.6" y="336.3" font-size="6.6" stroke="#000" stroke-width="0.1" text-anchor="middle">10</text>
<text x="98.5" y="333.7" font-size="4.6" stroke="#000" stroke-width="0.1">4</text>
<line x1="109.1" y1="325" x2="109.1" y2="327.2" stroke="#000" stroke-width="0.9"/>
<line x1="113.6" y1="325" x2="113.6" y2="326.2" stroke="#000" stroke-width="0.6"/>
<text x="109.5" y="336.3" font-size="6.6" stroke="#000" stroke-width="0.1" text-anchor="middle">10</text>
<text x="113.4" y="333.7" font-size="4.6" stroke="#000" stroke-width="0.1">5</text>
<line x1="156.2" y1="252.5" x2="156.2" y2="319.2" stroke="#000" stroke-width="1.1"/>
<line x1="155.8" y1="318.8" x2="254.2" y2="318.8" stroke="#000" stroke-width="1.1"/>
<line x1="153.2" y1="318.8" x2="156.2" y2="318.8" stroke="#000" stroke-width="0.9"/>
<text x="151.7" y="320.9" font-size="6.2" stroke="#000" stroke-width="0.1" text-anchor="end">0</text>
<line x1="153.2" y1="308" x2="156.2" y2="308" stroke="#000" stroke-width="0.9"/>
<text x="151.7" y="310.2" font-size="6.2" stroke="#000" stroke-width="0.1" text-anchor="end">40</text>
<line x1="153.2" y1="297.2" x2="156.2" y2="297.2" stroke="#000" stroke-width="0.9"/>
<text x="151.7" y="299.4" font-size="6.2" stroke="#000" stroke-width="0.1" text-anchor="end">80</text>
<line x1="153.2" y1="286.5" x2="156.2" y2="286.5" stroke="#000" stroke-width="0.9"/>
<text x="151.7" y="288.7" font-size="6.2" stroke="#000" stroke-width="0.1" text-anchor="end">120</text>
<line x1="153.2" y1="275.7" x2="156.2" y2="275.7" stroke="#000" stroke-width="0.9"/>
<text x="151.7" y="277.9" font-size="6.2" stroke="#000" stroke-width="0.1" text-anchor="end">160</text>
<line x1="153.2" y1="264.9" x2="156.2" y2="264.9" stroke="#000" stroke-width="0.9"/>
<text x="151.7" y="267.1" font-size="6.2" stroke="#000" stroke-width="0.1" text-anchor="end">200</text>
<line x1="153.2" y1="254.2" x2="156.2" y2="254.2" stroke="#000" stroke-width="0.9"/>
<text x="151.7" y="256.4" font-size="6.2" stroke="#000" stroke-width="0.1" text-anchor="end">240</text>
<line x1="161.2" y1="318.8" x2="161.2" y2="321.1" stroke="#000" stroke-width="0.9"/>
<text x="160.9" y="331.1" font-size="6.4" stroke="#000" stroke-width="0.1" text-anchor="middle">-3</text>
<line x1="179.3" y1="318.8" x2="179.3" y2="321.1" stroke="#000" stroke-width="0.9"/>
<text x="179" y="331.1" font-size="6.4" stroke="#000" stroke-width="0.1" text-anchor="middle">-2</text>
<line x1="197.4" y1="318.8" x2="197.4" y2="321.1" stroke="#000" stroke-width="0.9"/>
<text x="197.1" y="331.1" font-size="6.4" stroke="#000" stroke-width="0.1" text-anchor="middle">-1</text>
<line x1="215.6" y1="318.8" x2="215.6" y2="321.1" stroke="#000" stroke-width="0.9"/>
<text x="215.2" y="331.1" font-size="6.4" stroke="#000" stroke-width="0.1" text-anchor="middle">0</text>
<line x1="233.7" y1="318.8" x2="233.7" y2="321.1" stroke="#000" stroke-width="0.9"/>
<text x="233.3" y="331.1" font-size="6.4" stroke="#000" stroke-width="0.1" text-anchor="middle">1</text>
<line x1="251.8" y1="318.8" x2="251.8" y2="321.1" stroke="#000" stroke-width="0.9"/>
<text x="251.4" y="331.1" font-size="6.4" stroke="#000" stroke-width="0.1" text-anchor="middle">2</text>
<text x="186.2" y="342.6" font-size="7.2" stroke="#000" stroke-width="0.25" textLength="15.4" lengthAdjust="spacingAndGlyphs">Bir log</text>
<text x="202.1" y="345.4" font-size="4.6" stroke="#000" stroke-width="0.15" textLength="3.9" lengthAdjust="spacingAndGlyphs">10</text>
<text x="208.8" y="342.6" font-size="7.2" stroke="#000" stroke-width="0.25" textLength="14.4" lengthAdjust="spacingAndGlyphs">(µM)</text>
<text transform="translate(134.2,285.6) rotate(-90)" x="0" y="0" font-size="8.2" text-anchor="middle" textLength="59" lengthAdjust="spacingAndGlyphs" stroke="#000" stroke-width="0.26">Survival (% of control)</text>
<polyline points="161.2,262.3 183,267.6 195.7,256.3 208.3,274.4 221,291.9 233.7,308" fill="none" stroke="#6db33f" stroke-width="1.3" stroke-linejoin="round"/>
<circle cx="161.2" cy="262.3" r="1.35" fill="#6db33f"/>
<circle cx="183" cy="267.6" r="1.35" fill="#6db33f"/>
<circle cx="195.7" cy="256.3" r="1.35" fill="#6db33f"/>
<circle cx="208.3" cy="274.4" r="1.35" fill="#6db33f"/>
<circle cx="221" cy="291.9" r="1.35" fill="#6db33f"/>
<circle cx="233.7" cy="308" r="1.35" fill="#6db33f"/>
<polyline points="161.2,292.4 183,287.8 195.7,289.2 208.3,292.7 221,292.7 233.7,297.8" fill="none" stroke="#2b4c90" stroke-width="1.3" stroke-linejoin="round"/>
<circle cx="161.2" cy="292.4" r="1.35" fill="#2b4c90"/>
<circle cx="183" cy="287.8" r="1.35" fill="#2b4c90"/>
<circle cx="195.7" cy="289.2" r="1.35" fill="#2b4c90"/>
<circle cx="208.3" cy="292.7" r="1.35" fill="#2b4c90"/>
<circle cx="221" cy="292.7" r="1.35" fill="#2b4c90"/>
<circle cx="233.7" cy="297.8" r="1.35" fill="#2b4c90"/>
<polyline points="161.2,277.1 183,293.2 195.7,289.2 208.3,310.7 221,312.6 233.7,316.9" fill="none" stroke="#562a7e" stroke-width="1.3" stroke-linejoin="round"/>
<circle cx="161.2" cy="277.1" r="1.35" fill="#562a7e"/>
<circle cx="183" cy="293.2" r="1.35" fill="#562a7e"/>
<circle cx="195.7" cy="289.2" r="1.35" fill="#562a7e"/>
<circle cx="208.3" cy="310.7" r="1.35" fill="#562a7e"/>
<circle cx="221" cy="312.6" r="1.35" fill="#562a7e"/>
<circle cx="233.7" cy="316.9" r="1.35" fill="#562a7e"/>
<polyline points="161.2,287.8 183,290.5 195.7,298.6 208.3,302.6 221,309.3 233.7,301.3" fill="none" stroke="#b8143d" stroke-width="1.3" stroke-linejoin="round"/>
<circle cx="161.2" cy="287.8" r="1.35" fill="#b8143d"/>
<circle cx="183" cy="290.5" r="1.35" fill="#b8143d"/>
<circle cx="195.7" cy="298.6" r="1.35" fill="#b8143d"/>
<circle cx="208.3" cy="302.6" r="1.35" fill="#b8143d"/>
<circle cx="221" cy="309.3" r="1.35" fill="#b8143d"/>
<circle cx="233.7" cy="301.3" r="1.35" fill="#b8143d"/>
<text x="26.2" y="359.5" font-size="11.5" font-weight="bold">E</text>
<text x="43.8" y="357" font-size="8.9" stroke="#000" stroke-width="0.15" textLength="31" lengthAdjust="spacingAndGlyphs">Patient 3</text>
<path d="M43.2,434.2 L43.2,434.2 L44,434.2 L44.6,434.2 L45.4,434.2 L46,434.2 L46.8,434.2 L47.5,434.2 L48.1,434.1 L48.9,434.1 L49.5,434.2 L50.2,434.2 L51,434.2 L51.6,434.2 L52.4,434.2 L53,434.2 L53.8,434.2 L54.5,434.2 L55.1,434.2 L55.9,434.2 L56.5,434.2 L57.2,434.2 L58,434.2 L58.6,434.2 L59.4,434.2 L60,434.2 L60.8,434.2 L61.5,434.2 L62.1,434.2 L62.9,434.2 L63.5,434.2 L64.2,434.2 L65,434.2 L65.7,434.2 L66.3,434.2 L67,434.2 L67.8,434.2 L68.5,434.2 L69.2,434.2 L69.8,434.2 L70.5,434.1 L71.2,434.1 L72,434 L72.7,433.5 L73.3,432.4 L74,430.1 L74.8,426.3 L75.5,419.8 L76.2,409.3 L76.8,396.1 L77.5,378.6 L78.2,363.2 L79,377.7 L79.7,398.3 L80.3,414.6 L81,424.7 L81.8,430 L82.5,432.7 L83.2,433.8 L83.8,434.1 L84.5,434.2 L85.2,434.1 L86,434.1 L86.7,434.2 L87.3,434.2 L88,434.2 L88.8,434.2 L89.5,434.2 L90.2,434.2 L90.8,434.2 L91.5,434.2 L92.2,434.2 L93,434.2 L93.7,434.2 L94.3,434.2 L95,434.2 L95.8,434.2 L96.5,434.1 L97.2,434.1 L97.8,434.2 L98.5,434.2 L99.2,434.2 L100,434.2 L100.7,434.2 L101.3,434.2 L102,434.2 L102.8,434.2 L103.5,434.2 L104.2,434.2 L104.8,434.2 L105.5,434.2 L106.2,434.2 L107,434.2 L107.7,434.2 L108.3,434.2 L109,434.2 L109.8,434.2 L110.5,434.2 L111.2,434.2 L111.8,434.2 L112.5,434.2 L113.2,434.2 L114,434.2 L114.7,434.2 L115.3,434.2 L116,434.2 L116.8,434.2 L116.8,434.2 Z" fill="rgba(150,150,156,0.22)" stroke="none"/>
<path d="M43.2,434.2 L44,434.2 L44.6,434.2 L45.4,434.2 L46,434.2 L46.8,434.2 L47.5,434.2 L48.1,434.1 L48.9,434.1 L49.5,434.2 L50.2,434.2 L51,434.2 L51.6,434.2 L52.4,434.2 L53,434.2 L53.8,434.2 L54.5,434.2 L55.1,434.2 L55.9,434.2 L56.5,434.2 L57.2,434.2 L58,434.2 L58.6,434.2 L59.4,434.2 L60,434.2 L60.8,434.2 L61.5,434.2 L62.1,434.2 L62.9,434.2 L63.5,434.2 L64.2,434.2 L65,434.2 L65.7,434.2 L66.3,434.2 L67,434.2 L67.8,434.2 L68.5,434.2 L69.2,434.2 L69.8,434.2 L70.5,434.1 L71.2,434.1 L72,434 L72.7,433.5 L73.3,432.4 L74,430.1 L74.8,426.3 L75.5,419.8 L76.2,409.3 L76.8,396.1 L77.5,378.6 L78.2,363.2 L79,377.7 L79.7,398.3 L80.3,414.6 L81,424.7 L81.8,430 L82.5,432.7 L83.2,433.8 L83.8,434.1 L84.5,434.2 L85.2,434.1 L86,434.1 L86.7,434.2 L87.3,434.2 L88,434.2 L88.8,434.2 L89.5,434.2 L90.2,434.2 L90.8,434.2 L91.5,434.2 L92.2,434.2 L93,434.2 L93.7,434.2 L94.3,434.2 L95,434.2 L95.8,434.2 L96.5,434.1 L97.2,434.1 L97.8,434.2 L98.5,434.2 L99.2,434.2 L100,434.2 L100.7,434.2 L101.3,434.2 L102,434.2 L102.8,434.2 L103.5,434.2 L104.2,434.2 L104.8,434.2 L105.5,434.2 L106.2,434.2 L107,434.2 L107.7,434.2 L108.3,434.2 L109,434.2 L109.8,434.2 L110.5,434.2 L111.2,434.2 L111.8,434.2 L112.5,434.2 L113.2,434.2 L114,434.2 L114.7,434.2 L115.3,434.2 L116,434.2 L116.8,434.2" fill="none" stroke="#d2d2d5" stroke-width="1.05" stroke-linejoin="round"/>
<path d="M43.2,434.2 L43.2,434.2 L44,434.2 L44.6,434.2 L45.4,434.2 L46,434.2 L46.8,434.2 L47.5,434.2 L48.1,434.2 L48.9,434.2 L49.5,434.2 L50.2,434.2 L51,434.2 L51.6,434.2 L52.4,434.2 L53,434.2 L53.8,434.2 L54.5,434.2 L55.1,434.2 L55.9,434.2 L56.5,434.2 L57.2,434.2 L58,434.2 L58.6,434.2 L59.4,434.2 L60,434.2 L60.8,434.2 L61.5,434.2 L62.1,434.2 L62.9,434.2 L63.5,434.2 L64.2,434.2 L65,434.2 L65.7,434.2 L66.3,434.1 L67,434.1 L67.8,434.1 L68.5,434.2 L69.2,434.2 L69.8,434.2 L70.5,434.2 L71.2,434.1 L72,433.7 L72.7,432.9 L73.3,431.7 L74,429.4 L74.8,424.5 L75.5,417.3 L76.2,408 L76.8,395.2 L77.5,380.1 L78.2,368.8 L79,379.8 L79.7,397 L80.3,412.1 L81,422.4 L81.8,428.5 L82.5,431.5 L83.2,432.9 L83.8,433.7 L84.5,433.9 L85.2,434 L86,434.2 L86.7,434.2 L87.3,434.2 L88,434.2 L88.8,434.2 L89.5,434.2 L90.2,434.2 L90.8,434.2 L91.5,434.2 L92.2,434.2 L93,434.2 L93.7,434.2 L94.3,434.2 L95,434.2 L95.8,434.2 L96.5,434.2 L97.2,434.2 L97.8,434.2 L98.5,434.2 L99.2,434.2 L100,434.2 L100.7,434.1 L101.3,434.2 L102,434.2 L102.8,434.2 L103.5,434.2 L104.2,434.2 L104.8,434.2 L105.5,434.2 L106.2,434.2 L107,434.2 L107.7,434.2 L108.3,434.2 L109,434.2 L109.8,434.2 L110.5,434.2 L111.2,434.2 L111.8,434.2 L112.5,434.2 L113.2,434.2 L114,434.2 L114.7,434.2 L115.3,434.2 L116,434.2 L116.8,434.2 L116.8,434.2 Z" fill="rgba(110,113,124,0.23)" stroke="none"/>
<path d="M43.2,434.2 L44,434.2 L44.6,434.2 L45.4,434.2 L46,434.2 L46.8,434.2 L47.5,434.2 L48.1,434.2 L48.9,434.2 L49.5,434.2 L50.2,434.2 L51,434.2 L51.6,434.2 L52.4,434.2 L53,434.2 L53.8,434.2 L54.5,434.2 L55.1,434.2 L55.9,434.2 L56.5,434.2 L57.2,434.2 L58,434.2 L58.6,434.2 L59.4,434.2 L60,434.2 L60.8,434.2 L61.5,434.2 L62.1,434.2 L62.9,434.2 L63.5,434.2 L64.2,434.2 L65,434.2 L65.7,434.2 L66.3,434.1 L67,434.1 L67.8,434.1 L68.5,434.2 L69.2,434.2 L69.8,434.2 L70.5,434.2 L71.2,434.1 L72,433.7 L72.7,432.9 L73.3,431.7 L74,429.4 L74.8,424.5 L75.5,417.3 L76.2,408 L76.8,395.2 L77.5,380.1 L78.2,368.8 L79,379.8 L79.7,397 L80.3,412.1 L81,422.4 L81.8,428.5 L82.5,431.5 L83.2,432.9 L83.8,433.7 L84.5,433.9 L85.2,434 L86,434.2 L86.7,434.2 L87.3,434.2 L88,434.2 L88.8,434.2 L89.5,434.2 L90.2,434.2 L90.8,434.2 L91.5,434.2 L92.2,434.2 L93,434.2 L93.7,434.2 L94.3,434.2 L95,434.2 L95.8,434.2 L96.5,434.2 L97.2,434.2 L97.8,434.2 L98.5,434.2 L99.2,434.2 L100,434.2 L100.7,434.1 L101.3,434.2 L102,434.2 L102.8,434.2 L103.5,434.2 L104.2,434.2 L104.8,434.2 L105.5,434.2 L106.2,434.2 L107,434.2 L107.7,434.2 L108.3,434.2 L109,434.2 L109.8,434.2 L110.5,434.2 L111.2,434.2 L111.8,434.2 L112.5,434.2 L113.2,434.2 L114,434.2 L114.7,434.2 L115.3,434.2 L116,434.2 L116.8,434.2" fill="none" stroke="#4a4f62" stroke-width="1.05" stroke-linejoin="round"/>
<path d="M43.2,434.2 L43.2,434.2 L44,434.2 L44.6,434.2 L45.4,434.2 L46,434.2 L46.8,434.2 L47.5,434.2 L48.1,434.2 L48.9,434.2 L49.5,434.2 L50.2,434.2 L51,434.2 L51.6,434.2 L52.4,434.2 L53,434.2 L53.8,434.2 L54.5,434.2 L55.1,434.2 L55.9,434.2 L56.5,434.2 L57.2,434.2 L58,434.2 L58.6,434.2 L59.4,434.2 L60,434.2 L60.8,434.2 L61.5,434.2 L62.1,434.2 L62.9,434.1 L63.5,434.1 L64.2,434.2 L65,434.2 L65.7,434.2 L66.3,434.2 L67,434.2 L67.8,434.2 L68.5,434.2 L69.2,434.2 L69.8,434.2 L70.5,434.2 L71.2,434.2 L72,434.2 L72.7,434.2 L73.3,434.2 L74,434.1 L74.8,434.2 L75.5,434.2 L76.2,434.2 L76.8,434.2 L77.5,434.2 L78.2,434.2 L79,434.2 L79.7,434.2 L80.3,434.2 L81,434.2 L81.8,434.2 L82.5,434.2 L83.2,434.2 L83.8,434.2 L84.5,434.2 L85.2,434.2 L86,434.1 L86.7,433.9 L87.3,433.7 L88,433.5 L88.8,433 L89.5,432.3 L90.2,431.5 L90.8,430.2 L91.5,428.6 L92.2,426.7 L93,423.8 L93.7,419.6 L94.3,414.4 L95,409.9 L95.8,405.9 L96.5,401 L97.2,395.7 L97.8,396.2 L98.5,406.1 L99.2,416.4 L100,423.7 L100.7,428.3 L101.3,431 L102,432.7 L102.8,433.4 L103.5,433.8 L104.2,434.2 L104.8,434.2 L105.5,434.2 L106.2,434.2 L107,434.2 L107.7,434.2 L108.3,434.2 L109,434.2 L109.8,434.2 L110.5,434.2 L111.2,434.2 L111.8,434.2 L112.5,434.2 L113.2,434.2 L114,434.2 L114.7,434.2 L115.3,434.2 L116,434.2 L116.8,434.2 L116.8,434.2 Z" fill="rgba(44,75,142,0.27)" stroke="none"/>
<path d="M43.2,434.2 L44,434.2 L44.6,434.2 L45.4,434.2 L46,434.2 L46.8,434.2 L47.5,434.2 L48.1,434.2 L48.9,434.2 L49.5,434.2 L50.2,434.2 L51,434.2 L51.6,434.2 L52.4,434.2 L53,434.2 L53.8,434.2 L54.5,434.2 L55.1,434.2 L55.9,434.2 L56.5,434.2 L57.2,434.2 L58,434.2 L58.6,434.2 L59.4,434.2 L60,434.2 L60.8,434.2 L61.5,434.2 L62.1,434.2 L62.9,434.1 L63.5,434.1 L64.2,434.2 L65,434.2 L65.7,434.2 L66.3,434.2 L67,434.2 L67.8,434.2 L68.5,434.2 L69.2,434.2 L69.8,434.2 L70.5,434.2 L71.2,434.2 L72,434.2 L72.7,434.2 L73.3,434.2 L74,434.1 L74.8,434.2 L75.5,434.2 L76.2,434.2 L76.8,434.2 L77.5,434.2 L78.2,434.2 L79,434.2 L79.7,434.2 L80.3,434.2 L81,434.2 L81.8,434.2 L82.5,434.2 L83.2,434.2 L83.8,434.2 L84.5,434.2 L85.2,434.2 L86,434.1 L86.7,433.9 L87.3,433.7 L88,433.5 L88.8,433 L89.5,432.3 L90.2,431.5 L90.8,430.2 L91.5,428.6 L92.2,426.7 L93,423.8 L93.7,419.6 L94.3,414.4 L95,409.9 L95.8,405.9 L96.5,401 L97.2,395.7 L97.8,396.2 L98.5,406.1 L99.2,416.4 L100,423.7 L100.7,428.3 L101.3,431 L102,432.7 L102.8,433.4 L103.5,433.8 L104.2,434.2 L104.8,434.2 L105.5,434.2 L106.2,434.2 L107,434.2 L107.7,434.2 L108.3,434.2 L109,434.2 L109.8,434.2 L110.5,434.2 L111.2,434.2 L111.8,434.2 L112.5,434.2 L113.2,434.2 L114,434.2 L114.7,434.2 L115.3,434.2 L116,434.2 L116.8,434.2" fill="none" stroke="#2c4b8e" stroke-width="1.05" stroke-linejoin="round"/>
<path d="M43.2,434.2 L43.2,434.2 L44,434.2 L44.6,434.2 L45.4,434.2 L46,434.2 L46.8,434.2 L47.5,434.2 L48.1,434.2 L48.9,434.2 L49.5,434.2 L50.2,434.2 L51,434.2 L51.6,434.2 L52.4,434.2 L53,434.2 L53.8,434.2 L54.5,434.2 L55.1,434.2 L55.9,434.2 L56.5,434.2 L57.2,434.2 L58,434.2 L58.6,434.2 L59.4,434.2 L60,434.2 L60.8,434.2 L61.5,434.2 L62.1,434.2 L62.9,434.2 L63.5,434.2 L64.2,434.2 L65,434.2 L65.7,434.2 L66.3,434.2 L67,434.2 L67.8,434.2 L68.5,434.2 L69.2,434.2 L69.8,434.2 L70.5,434.2 L71.2,434.2 L72,434.2 L72.7,434.2 L73.3,434.2 L74,434.2 L74.8,434.2 L75.5,434.2 L76.2,434.2 L76.8,434.2 L77.5,434.2 L78.2,434.2 L79,434.2 L79.7,434.2 L80.3,434.2 L81,434.2 L81.8,434.2 L82.5,434.2 L83.2,434.2 L83.8,434.2 L84.5,434.2 L85.2,434.2 L86,434.2 L86.7,434.2 L87.3,434.2 L88,434.2 L88.8,434.2 L89.5,434.2 L90.2,434.2 L90.8,434.2 L91.5,434.2 L92.2,434 L93,433.8 L93.7,433.6 L94.3,433.1 L95,432.5 L95.8,431.7 L96.5,429.9 L97.2,427.2 L97.8,423.5 L98.5,418.5 L99.2,413 L100,406.4 L100.7,398.4 L101.3,390.6 L102,385.3 L102.8,390.6 L103.5,400 L104.2,410.5 L104.8,418.8 L105.5,424.2 L106.2,427.7 L107,430.1 L107.7,431.9 L108.3,432.9 L109,433.5 L109.8,434 L110.5,434.1 L111.2,434.1 L111.8,434.2 L112.5,434.2 L113.2,434.2 L114,434.2 L114.7,434.2 L115.3,434.2 L116,434.2 L116.8,434.2 L116.8,434.2 Z" fill="rgba(192,24,63,0.36)" stroke="none"/>
<path d="M43.2,434.2 L44,434.2 L44.6,434.2 L45.4,434.2 L46,434.2 L46.8,434.2 L47.5,434.2 L48.1,434.2 L48.9,434.2 L49.5,434.2 L50.2,434.2 L51,434.2 L51.6,434.2 L52.4,434.2 L53,434.2 L53.8,434.2 L54.5,434.2 L55.1,434.2 L55.9,434.2 L56.5,434.2 L57.2,434.2 L58,434.2 L58.6,434.2 L59.4,434.2 L60,434.2 L60.8,434.2 L61.5,434.2 L62.1,434.2 L62.9,434.2 L63.5,434.2 L64.2,434.2 L65,434.2 L65.7,434.2 L66.3,434.2 L67,434.2 L67.8,434.2 L68.5,434.2 L69.2,434.2 L69.8,434.2 L70.5,434.2 L71.2,434.2 L72,434.2 L72.7,434.2 L73.3,434.2 L74,434.2 L74.8,434.2 L75.5,434.2 L76.2,434.2 L76.8,434.2 L77.5,434.2 L78.2,434.2 L79,434.2 L79.7,434.2 L80.3,434.2 L81,434.2 L81.8,434.2 L82.5,434.2 L83.2,434.2 L83.8,434.2 L84.5,434.2 L85.2,434.2 L86,434.2 L86.7,434.2 L87.3,434.2 L88,434.2 L88.8,434.2 L89.5,434.2 L90.2,434.2 L90.8,434.2 L91.5,434.2 L92.2,434 L93,433.8 L93.7,433.6 L94.3,433.1 L95,432.5 L95.8,431.7 L96.5,429.9 L97.2,427.2 L97.8,423.5 L98.5,418.5 L99.2,413 L100,406.4 L100.7,398.4 L101.3,390.6 L102,385.3 L102.8,390.6 L103.5,400 L104.2,410.5 L104.8,418.8 L105.5,424.2 L106.2,427.7 L107,430.1 L107.7,431.9 L108.3,432.9 L109,433.5 L109.8,434 L110.5,434.1 L111.2,434.1 L111.8,434.2 L112.5,434.2 L113.2,434.2 L114,434.2 L114.7,434.2 L115.3,434.2 L116,434.2 L116.8,434.2" fill="none" stroke="#c0183f" stroke-width="1.05" stroke-linejoin="round"/>
<rect x="43.2" y="361.2" width="73.5" height="73" fill="none" stroke="#000" stroke-width="1.1"/>
<line x1="40.6" y1="434.2" x2="43.2" y2="434.2" stroke="#000" stroke-width="0.9"/>
<text x="38.6" y="436.4" font-size="6.2" stroke="#000" stroke-width="0.1" text-anchor="end">0</text>
<line x1="41.9" y1="431.6" x2="43.2" y2="431.6" stroke="#000" stroke-width="0.6"/>
<line x1="41.9" y1="428.9" x2="43.2" y2="428.9" stroke="#000" stroke-width="0.6"/>
<line x1="41.9" y1="426.2" x2="43.2" y2="426.2" stroke="#000" stroke-width="0.6"/>
<line x1="41.9" y1="423.6" x2="43.2" y2="423.6" stroke="#000" stroke-width="0.6"/>
<line x1="40.6" y1="420.9" x2="43.2" y2="420.9" stroke="#000" stroke-width="0.9"/>
<text x="38.6" y="423.1" font-size="6.2" stroke="#000" stroke-width="0.1" text-anchor="end">100</text>
<line x1="41.9" y1="418.2" x2="43.2" y2="418.2" stroke="#000" stroke-width="0.6"/>
<line x1="41.9" y1="415.6" x2="43.2" y2="415.6" stroke="#000" stroke-width="0.6"/>
<line x1="41.9" y1="412.9" x2="43.2" y2="412.9" stroke="#000" stroke-width="0.6"/>
<line x1="41.9" y1="410.2" x2="43.2" y2="410.2" stroke="#000" stroke-width="0.6"/>
<line x1="40.6" y1="407.6" x2="43.2" y2="407.6" stroke="#000" stroke-width="0.9"/>
<text x="38.6" y="409.8" font-size="6.2" stroke="#000" stroke-width="0.1" text-anchor="end">200</text>
<line x1="41.9" y1="404.9" x2="43.2" y2="404.9" stroke="#000" stroke-width="0.6"/>
<line x1="41.9" y1="402.2" x2="43.2" y2="402.2" stroke="#000" stroke-width="0.6"/>
<line x1="41.9" y1="399.5" x2="43.2" y2="399.5" stroke="#000" stroke-width="0.6"/>
<line x1="41.9" y1="396.9" x2="43.2" y2="396.9" stroke="#000" stroke-width="0.6"/>
<line x1="40.6" y1="394.2" x2="43.2" y2="394.2" stroke="#000" stroke-width="0.9"/>
<text x="38.6" y="396.4" font-size="6.2" stroke="#000" stroke-width="0.1" text-anchor="end">300</text>
<line x1="41.9" y1="391.5" x2="43.2" y2="391.5" stroke="#000" stroke-width="0.6"/>
<line x1="41.9" y1="388.9" x2="43.2" y2="388.9" stroke="#000" stroke-width="0.6"/>
<line x1="41.9" y1="386.2" x2="43.2" y2="386.2" stroke="#000" stroke-width="0.6"/>
<line x1="41.9" y1="383.5" x2="43.2" y2="383.5" stroke="#000" stroke-width="0.6"/>
<line x1="40.6" y1="380.9" x2="43.2" y2="380.9" stroke="#000" stroke-width="0.9"/>
<text x="38.6" y="383.1" font-size="6.2" stroke="#000" stroke-width="0.1" text-anchor="end">400</text>
<line x1="41.9" y1="378.2" x2="43.2" y2="378.2" stroke="#000" stroke-width="0.6"/>
<line x1="41.9" y1="375.5" x2="43.2" y2="375.5" stroke="#000" stroke-width="0.6"/>
<line x1="41.9" y1="372.8" x2="43.2" y2="372.8" stroke="#000" stroke-width="0.6"/>
<line x1="41.9" y1="370.2" x2="43.2" y2="370.2" stroke="#000" stroke-width="0.6"/>
<line x1="40.6" y1="367.5" x2="43.2" y2="367.5" stroke="#000" stroke-width="0.9"/>
<text x="38.6" y="369.7" font-size="6.2" stroke="#000" stroke-width="0.1" text-anchor="end">500</text>
<line x1="41.9" y1="364.8" x2="43.2" y2="364.8" stroke="#000" stroke-width="0.6"/>
<line x1="41.9" y1="362.2" x2="43.2" y2="362.2" stroke="#000" stroke-width="0.6"/>
<line x1="43.2" y1="434.2" x2="43.2" y2="436.4" stroke="#000" stroke-width="0.9"/>
<line x1="46.9" y1="434.2" x2="46.9" y2="435.4" stroke="#000" stroke-width="0.6"/>
<line x1="49.1" y1="434.2" x2="49.1" y2="435.4" stroke="#000" stroke-width="0.6"/>
<line x1="50.6" y1="434.2" x2="50.6" y2="435.4" stroke="#000" stroke-width="0.6"/>
<line x1="51.8" y1="434.2" x2="51.8" y2="435.4" stroke="#000" stroke-width="0.6"/>
<line x1="52.8" y1="434.2" x2="52.8" y2="435.4" stroke="#000" stroke-width="0.6"/>
<line x1="53.6" y1="434.2" x2="53.6" y2="435.4" stroke="#000" stroke-width="0.6"/>
<line x1="54.3" y1="434.2" x2="54.3" y2="435.4" stroke="#000" stroke-width="0.6"/>
<line x1="54.9" y1="434.2" x2="54.9" y2="435.4" stroke="#000" stroke-width="0.6"/>
<text x="43.6" y="445.6" font-size="6.6" stroke="#000" stroke-width="0.1" text-anchor="middle">10</text>
<text x="47.5" y="442.9" font-size="4.6" stroke="#000" stroke-width="0.1">0</text>
<line x1="55.5" y1="434.2" x2="55.5" y2="436.4" stroke="#000" stroke-width="0.9"/>
<line x1="59.2" y1="434.2" x2="59.2" y2="435.4" stroke="#000" stroke-width="0.6"/>
<line x1="61.3" y1="434.2" x2="61.3" y2="435.4" stroke="#000" stroke-width="0.6"/>
<line x1="62.9" y1="434.2" x2="62.9" y2="435.4" stroke="#000" stroke-width="0.6"/>
<line x1="64.1" y1="434.2" x2="64.1" y2="435.4" stroke="#000" stroke-width="0.6"/>
<line x1="65" y1="434.2" x2="65" y2="435.4" stroke="#000" stroke-width="0.6"/>
<line x1="65.9" y1="434.2" x2="65.9" y2="435.4" stroke="#000" stroke-width="0.6"/>
<line x1="66.6" y1="434.2" x2="66.6" y2="435.4" stroke="#000" stroke-width="0.6"/>
<line x1="67.2" y1="434.2" x2="67.2" y2="435.4" stroke="#000" stroke-width="0.6"/>
<text x="55.9" y="445.6" font-size="6.6" stroke="#000" stroke-width="0.1" text-anchor="middle">10</text>
<text x="59.8" y="442.9" font-size="4.6" stroke="#000" stroke-width="0.1">1</text>
<line x1="67.8" y1="434.2" x2="67.8" y2="436.4" stroke="#000" stroke-width="0.9"/>
<line x1="71.4" y1="434.2" x2="71.4" y2="435.4" stroke="#000" stroke-width="0.6"/>
<line x1="73.6" y1="434.2" x2="73.6" y2="435.4" stroke="#000" stroke-width="0.6"/>
<line x1="75.1" y1="434.2" x2="75.1" y2="435.4" stroke="#000" stroke-width="0.6"/>
<line x1="76.3" y1="434.2" x2="76.3" y2="435.4" stroke="#000" stroke-width="0.6"/>
<line x1="77.3" y1="434.2" x2="77.3" y2="435.4" stroke="#000" stroke-width="0.6"/>
<line x1="78.1" y1="434.2" x2="78.1" y2="435.4" stroke="#000" stroke-width="0.6"/>
<line x1="78.8" y1="434.2" x2="78.8" y2="435.4" stroke="#000" stroke-width="0.6"/>
<line x1="79.4" y1="434.2" x2="79.4" y2="435.4" stroke="#000" stroke-width="0.6"/>
<text x="68.2" y="445.6" font-size="6.6" stroke="#000" stroke-width="0.1" text-anchor="middle">10</text>
<text x="72" y="442.9" font-size="4.6" stroke="#000" stroke-width="0.1">2</text>
<line x1="80" y1="434.2" x2="80" y2="436.4" stroke="#000" stroke-width="0.9"/>
<line x1="83.7" y1="434.2" x2="83.7" y2="435.4" stroke="#000" stroke-width="0.6"/>
<line x1="85.8" y1="434.2" x2="85.8" y2="435.4" stroke="#000" stroke-width="0.6"/>
<line x1="87.4" y1="434.2" x2="87.4" y2="435.4" stroke="#000" stroke-width="0.6"/>
<line x1="88.6" y1="434.2" x2="88.6" y2="435.4" stroke="#000" stroke-width="0.6"/>
<line x1="89.5" y1="434.2" x2="89.5" y2="435.4" stroke="#000" stroke-width="0.6"/>
<line x1="90.4" y1="434.2" x2="90.4" y2="435.4" stroke="#000" stroke-width="0.6"/>
<line x1="91.1" y1="434.2" x2="91.1" y2="435.4" stroke="#000" stroke-width="0.6"/>
<line x1="91.7" y1="434.2" x2="91.7" y2="435.4" stroke="#000" stroke-width="0.6"/>
<text x="80.4" y="445.6" font-size="6.6" stroke="#000" stroke-width="0.1" text-anchor="middle">10</text>
<text x="84.3" y="442.9" font-size="4.6" stroke="#000" stroke-width="0.1">3</text>
<line x1="92.2" y1="434.2" x2="92.2" y2="436.4" stroke="#000" stroke-width="0.9"/>
<line x1="95.9" y1="434.2" x2="95.9" y2="435.4" stroke="#000" stroke-width="0.6"/>
<line x1="98.1" y1="434.2" x2="98.1" y2="435.4" stroke="#000" stroke-width="0.6"/>
<line x1="99.6" y1="434.2" x2="99.6" y2="435.4" stroke="#000" stroke-width="0.6"/>
<line x1="100.8" y1="434.2" x2="100.8" y2="435.4" stroke="#000" stroke-width="0.6"/>
<line x1="101.8" y1="434.2" x2="101.8" y2="435.4" stroke="#000" stroke-width="0.6"/>
<line x1="102.6" y1="434.2" x2="102.6" y2="435.4" stroke="#000" stroke-width="0.6"/>
<line x1="103.3" y1="434.2" x2="103.3" y2="435.4" stroke="#000" stroke-width="0.6"/>
<line x1="103.9" y1="434.2" x2="103.9" y2="435.4" stroke="#000" stroke-width="0.6"/>
<text x="92.7" y="445.6" font-size="6.6" stroke="#000" stroke-width="0.1" text-anchor="middle">10</text>
<text x="96.5" y="442.9" font-size="4.6" stroke="#000" stroke-width="0.1">4</text>
<line x1="104.5" y1="434.2" x2="104.5" y2="436.4" stroke="#000" stroke-width="0.9"/>
<line x1="108.2" y1="434.2" x2="108.2" y2="435.4" stroke="#000" stroke-width="0.6"/>
<line x1="110.3" y1="434.2" x2="110.3" y2="435.4" stroke="#000" stroke-width="0.6"/>
<line x1="111.9" y1="434.2" x2="111.9" y2="435.4" stroke="#000" stroke-width="0.6"/>
<line x1="113.1" y1="434.2" x2="113.1" y2="435.4" stroke="#000" stroke-width="0.6"/>
<line x1="114" y1="434.2" x2="114" y2="435.4" stroke="#000" stroke-width="0.6"/>
<line x1="114.9" y1="434.2" x2="114.9" y2="435.4" stroke="#000" stroke-width="0.6"/>
<line x1="115.6" y1="434.2" x2="115.6" y2="435.4" stroke="#000" stroke-width="0.6"/>
<line x1="116.2" y1="434.2" x2="116.2" y2="435.4" stroke="#000" stroke-width="0.6"/>
<text x="104.9" y="445.6" font-size="6.6" stroke="#000" stroke-width="0.1" text-anchor="middle">10</text>
<text x="108.8" y="442.9" font-size="4.6" stroke="#000" stroke-width="0.1">5</text>
<line x1="116.8" y1="434.2" x2="116.8" y2="436.4" stroke="#000" stroke-width="0.9"/>
<text x="117.2" y="445.6" font-size="6.6" stroke="#000" stroke-width="0.1" text-anchor="middle">10</text>
<text x="121" y="442.9" font-size="4.6" stroke="#000" stroke-width="0.1">6</text>
<line x1="155.5" y1="360.5" x2="155.5" y2="428" stroke="#000" stroke-width="1.1"/>
<line x1="155" y1="427.5" x2="254.2" y2="427.5" stroke="#000" stroke-width="1.1"/>
<line x1="152.5" y1="427.5" x2="155.5" y2="427.5" stroke="#000" stroke-width="0.9"/>
<text x="150.9" y="429.7" font-size="6.2" stroke="#000" stroke-width="0.1" text-anchor="end">0</text>
<line x1="152.5" y1="416.7" x2="155.5" y2="416.7" stroke="#000" stroke-width="0.9"/>
<text x="150.9" y="418.9" font-size="6.2" stroke="#000" stroke-width="0.1" text-anchor="end">20</text>
<line x1="152.5" y1="405.8" x2="155.5" y2="405.8" stroke="#000" stroke-width="0.9"/>
<text x="150.9" y="408" font-size="6.2" stroke="#000" stroke-width="0.1" text-anchor="end">40</text>
<line x1="152.5" y1="395" x2="155.5" y2="395" stroke="#000" stroke-width="0.9"/>
<text x="150.9" y="397.2" font-size="6.2" stroke="#000" stroke-width="0.1" text-anchor="end">60</text>
<line x1="152.5" y1="384.2" x2="155.5" y2="384.2" stroke="#000" stroke-width="0.9"/>
<text x="150.9" y="386.4" font-size="6.2" stroke="#000" stroke-width="0.1" text-anchor="end">80</text>
<line x1="152.5" y1="373.3" x2="155.5" y2="373.3" stroke="#000" stroke-width="0.9"/>
<text x="150.9" y="375.5" font-size="6.2" stroke="#000" stroke-width="0.1" text-anchor="end">100</text>
<line x1="152.5" y1="362.5" x2="155.5" y2="362.5" stroke="#000" stroke-width="0.9"/>
<text x="150.9" y="364.7" font-size="6.2" stroke="#000" stroke-width="0.1" text-anchor="end">120</text>
<line x1="160.8" y1="427.5" x2="160.8" y2="429.9" stroke="#000" stroke-width="0.9"/>
<text x="160.4" y="439.8" font-size="6.4" stroke="#000" stroke-width="0.1" text-anchor="middle">-3</text>
<line x1="178.9" y1="427.5" x2="178.9" y2="429.9" stroke="#000" stroke-width="0.9"/>
<text x="178.6" y="439.8" font-size="6.4" stroke="#000" stroke-width="0.1" text-anchor="middle">-2</text>
<line x1="197.2" y1="427.5" x2="197.2" y2="429.9" stroke="#000" stroke-width="0.9"/>
<text x="196.8" y="439.8" font-size="6.4" stroke="#000" stroke-width="0.1" text-anchor="middle">-1</text>
<line x1="215.3" y1="427.5" x2="215.3" y2="429.9" stroke="#000" stroke-width="0.9"/>
<text x="215" y="439.8" font-size="6.4" stroke="#000" stroke-width="0.1" text-anchor="middle">0</text>
<line x1="233.6" y1="427.5" x2="233.6" y2="429.9" stroke="#000" stroke-width="0.9"/>
<text x="233.2" y="439.8" font-size="6.4" stroke="#000" stroke-width="0.1" text-anchor="middle">1</text>
<line x1="251.8" y1="427.5" x2="251.8" y2="429.9" stroke="#000" stroke-width="0.9"/>
<text x="251.4" y="439.8" font-size="6.4" stroke="#000" stroke-width="0.1" text-anchor="middle">2</text>
<text x="185.8" y="451.3" font-size="7.2" stroke="#000" stroke-width="0.25" textLength="15.4" lengthAdjust="spacingAndGlyphs">Bir log</text>
<text x="201.6" y="454.1" font-size="4.6" stroke="#000" stroke-width="0.15" textLength="3.9" lengthAdjust="spacingAndGlyphs">10</text>
<text x="208.3" y="451.3" font-size="7.2" stroke="#000" stroke-width="0.25" textLength="14.4" lengthAdjust="spacingAndGlyphs">(µM)</text>
<text transform="translate(133.5,394) rotate(-90)" x="0" y="0" font-size="8.2" text-anchor="middle" textLength="59" lengthAdjust="spacingAndGlyphs" stroke="#000" stroke-width="0.26">Survival (% of control)</text>
<polyline points="160.8,372.8 208.1,378.7 220.8,385.2 233.6,391.7" fill="none" stroke="#6db33f" stroke-width="1.3" stroke-linejoin="round"/>
<circle cx="160.8" cy="372.8" r="1.35" fill="#6db33f"/>
<circle cx="208.1" cy="378.7" r="1.35" fill="#6db33f"/>
<circle cx="220.8" cy="385.2" r="1.35" fill="#6db33f"/>
<circle cx="233.6" cy="391.7" r="1.35" fill="#6db33f"/>
<polyline points="160.8,373.3 208.1,380.4 220.8,385.8 233.6,389.6" fill="none" stroke="#2b4c90" stroke-width="1.3" stroke-linejoin="round"/>
<circle cx="160.8" cy="373.3" r="1.35" fill="#2b4c90"/>
<circle cx="208.1" cy="380.4" r="1.35" fill="#2b4c90"/>
<circle cx="220.8" cy="385.8" r="1.35" fill="#2b4c90"/>
<circle cx="233.6" cy="389.6" r="1.35" fill="#2b4c90"/>
<polyline points="160.8,375 208.1,396.6 220.8,400.4 233.6,402.6" fill="none" stroke="#562a7e" stroke-width="1.3" stroke-linejoin="round"/>
<circle cx="160.8" cy="375" r="1.35" fill="#562a7e"/>
<circle cx="208.1" cy="396.6" r="1.35" fill="#562a7e"/>
<circle cx="220.8" cy="400.4" r="1.35" fill="#562a7e"/>
<circle cx="233.6" cy="402.6" r="1.35" fill="#562a7e"/>
<polyline points="160.8,372.8 208.1,393.4 220.8,396.1 233.6,396.1" fill="none" stroke="#b8143d" stroke-width="1.3" stroke-linejoin="round"/>
<circle cx="160.8" cy="372.8" r="1.35" fill="#b8143d"/>
<circle cx="208.1" cy="393.4" r="1.35" fill="#b8143d"/>
<circle cx="220.8" cy="396.1" r="1.35" fill="#b8143d"/>
<circle cx="233.6" cy="396.1" r="1.35" fill="#b8143d"/>
<line x1="238.2" y1="419.5" x2="238.2" y2="423" stroke="#000" stroke-width="0.8"/>
<text x="26.2" y="467.5" font-size="11.5" font-weight="bold">F</text>
<text x="43.8" y="467" font-size="8.9" stroke="#000" stroke-width="0.15" textLength="31" lengthAdjust="spacingAndGlyphs">Patient 4</text>
<path d="M43.2,544.8 L43.2,544.8 L44,544.7 L44.7,544.5 L45.4,544.6 L46.1,544.8 L46.8,544.8 L47.5,544.8 L48.2,544.8 L48.9,544.8 L49.6,544.8 L50.3,544.8 L51,544.8 L51.7,544.8 L52.4,544.8 L53.1,544.7 L53.8,544.7 L54.5,544.8 L55.2,544.8 L55.9,544.8 L56.6,544.8 L57.3,544.6 L58,544.5 L58.7,544.5 L59.4,544.5 L60.1,544.6 L60.8,544.6 L61.5,544.6 L62.2,544.3 L62.9,543.6 L63.6,542.7 L64.3,541.7 L65,540.7 L65.7,540.4 L66.4,538.9 L67.1,534.9 L67.8,530.7 L68.5,527 L69.2,521 L69.9,511.8 L70.6,502.7 L71.3,496.7 L72,491.6 L72.8,489.1 L73.5,497.7 L74.2,509.4 L74.9,519 L75.6,527.1 L76.3,532.8 L77,536.7 L77.7,540.2 L78.4,542.3 L79.1,543.4 L79.8,544 L80.5,544.4 L81.2,544.7 L81.9,544.8 L82.6,544.8 L83.3,544.8 L84,544.7 L84.7,544.6 L85.4,544.5 L86.1,544.6 L86.8,544.7 L87.5,544.8 L88.2,544.7 L88.9,544.6 L89.6,544.5 L90.3,544.6 L91,544.8 L91.7,544.8 L92.4,544.8 L93.1,544.8 L93.8,544.7 L94.5,544.8 L95.2,544.8 L95.9,544.7 L96.6,544.8 L97.3,544.8 L98,544.8 L98.7,544.7 L99.4,544.7 L100.1,544.7 L100.8,544.7 L101.5,544.6 L102.2,544.6 L103,544.6 L103.7,544.7 L104.4,544.7 L105.1,544.7 L105.8,544.7 L106.5,544.8 L107.2,544.8 L107.9,544.8 L108.6,544.7 L109.3,544.7 L110,544.7 L110.7,544.8 L111.4,544.8 L112.1,544.7 L112.8,544.6 L113.5,544.6 L114.2,544.7 L114.9,544.6 L115.6,544.5 L116.3,544.4 L117,544.3 L117,544.8 Z" fill="rgba(150,150,156,0.22)" stroke="none"/>
<path d="M43.2,544.8 L44,544.7 L44.7,544.5 L45.4,544.6 L46.1,544.8 L46.8,544.8 L47.5,544.8 L48.2,544.8 L48.9,544.8 L49.6,544.8 L50.3,544.8 L51,544.8 L51.7,544.8 L52.4,544.8 L53.1,544.7 L53.8,544.7 L54.5,544.8 L55.2,544.8 L55.9,544.8 L56.6,544.8 L57.3,544.6 L58,544.5 L58.7,544.5 L59.4,544.5 L60.1,544.6 L60.8,544.6 L61.5,544.6 L62.2,544.3 L62.9,543.6 L63.6,542.7 L64.3,541.7 L65,540.7 L65.7,540.4 L66.4,538.9 L67.1,534.9 L67.8,530.7 L68.5,527 L69.2,521 L69.9,511.8 L70.6,502.7 L71.3,496.7 L72,491.6 L72.8,489.1 L73.5,497.7 L74.2,509.4 L74.9,519 L75.6,527.1 L76.3,532.8 L77,536.7 L77.7,540.2 L78.4,542.3 L79.1,543.4 L79.8,544 L80.5,544.4 L81.2,544.7 L81.9,544.8 L82.6,544.8 L83.3,544.8 L84,544.7 L84.7,544.6 L85.4,544.5 L86.1,544.6 L86.8,544.7 L87.5,544.8 L88.2,544.7 L88.9,544.6 L89.6,544.5 L90.3,544.6 L91,544.8 L91.7,544.8 L92.4,544.8 L93.1,544.8 L93.8,544.7 L94.5,544.8 L95.2,544.8 L95.9,544.7 L96.6,544.8 L97.3,544.8 L98,544.8 L98.7,544.7 L99.4,544.7 L100.1,544.7 L100.8,544.7 L101.5,544.6 L102.2,544.6 L103,544.6 L103.7,544.7 L104.4,544.7 L105.1,544.7 L105.8,544.7 L106.5,544.8 L107.2,544.8 L107.9,544.8 L108.6,544.7 L109.3,544.7 L110,544.7 L110.7,544.8 L111.4,544.8 L112.1,544.7 L112.8,544.6 L113.5,544.6 L114.2,544.7 L114.9,544.6 L115.6,544.5 L116.3,544.4 L117,544.3" fill="none" stroke="#d2d2d5" stroke-width="1.05" stroke-linejoin="round"/>
<path d="M43.2,544.8 L43.2,544.8 L44,544.8 L44.7,544.7 L45.4,544.7 L46.1,544.8 L46.8,544.8 L47.5,544.8 L48.2,544.8 L48.9,544.8 L49.6,544.7 L50.3,544.7 L51,544.6 L51.7,544.6 L52.4,544.7 L53.1,544.8 L53.8,544.8 L54.5,544.7 L55.2,544.6 L55.9,544.7 L56.6,544.7 L57.3,544.8 L58,544.8 L58.7,544.8 L59.4,544.6 L60.1,544.5 L60.8,544.5 L61.5,544.3 L62.2,544 L62.9,543.7 L63.6,543.4 L64.3,542.8 L65,542.3 L65.7,541.4 L66.4,538.9 L67.1,535.3 L67.8,530.6 L68.5,526 L69.2,521 L69.9,514.1 L70.6,507.2 L71.3,500 L72,493.1 L72.8,491.3 L73.5,498.5 L74.2,508.6 L74.9,518.3 L75.6,526.2 L76.3,532.6 L77,537.6 L77.7,540.6 L78.4,542.2 L79.1,543.1 L79.8,543.6 L80.5,544 L81.2,544.5 L81.9,544.7 L82.6,544.6 L83.3,544.5 L84,544.6 L84.7,544.6 L85.4,544.6 L86.1,544.8 L86.8,544.8 L87.5,544.8 L88.2,544.8 L88.9,544.8 L89.6,544.8 L90.3,544.7 L91,544.7 L91.7,544.7 L92.4,544.6 L93.1,544.5 L93.8,544.6 L94.5,544.8 L95.2,544.8 L95.9,544.8 L96.6,544.7 L97.3,544.8 L98,544.7 L98.7,544.7 L99.4,544.8 L100.1,544.8 L100.8,544.8 L101.5,544.8 L102.2,544.8 L103,544.7 L103.7,544.6 L104.4,544.7 L105.1,544.7 L105.8,544.7 L106.5,544.6 L107.2,544.6 L107.9,544.7 L108.6,544.8 L109.3,544.7 L110,544.6 L110.7,544.6 L111.4,544.6 L112.1,544.6 L112.8,544.6 L113.5,544.6 L114.2,544.7 L114.9,544.8 L115.6,544.8 L116.3,544.8 L117,544.6 L117,544.8 Z" fill="rgba(110,113,124,0.23)" stroke="none"/>
<path d="M43.2,544.8 L44,544.8 L44.7,544.7 L45.4,544.7 L46.1,544.8 L46.8,544.8 L47.5,544.8 L48.2,544.8 L48.9,544.8 L49.6,544.7 L50.3,544.7 L51,544.6 L51.7,544.6 L52.4,544.7 L53.1,544.8 L53.8,544.8 L54.5,544.7 L55.2,544.6 L55.9,544.7 L56.6,544.7 L57.3,544.8 L58,544.8 L58.7,544.8 L59.4,544.6 L60.1,544.5 L60.8,544.5 L61.5,544.3 L62.2,544 L62.9,543.7 L63.6,543.4 L64.3,542.8 L65,542.3 L65.7,541.4 L66.4,538.9 L67.1,535.3 L67.8,530.6 L68.5,526 L69.2,521 L69.9,514.1 L70.6,507.2 L71.3,500 L72,493.1 L72.8,491.3 L73.5,498.5 L74.2,508.6 L74.9,518.3 L75.6,526.2 L76.3,532.6 L77,537.6 L77.7,540.6 L78.4,542.2 L79.1,543.1 L79.8,543.6 L80.5,544 L81.2,544.5 L81.9,544.7 L82.6,544.6 L83.3,544.5 L84,544.6 L84.7,544.6 L85.4,544.6 L86.1,544.8 L86.8,544.8 L87.5,544.8 L88.2,544.8 L88.9,544.8 L89.6,544.8 L90.3,544.7 L91,544.7 L91.7,544.7 L92.4,544.6 L93.1,544.5 L93.8,544.6 L94.5,544.8 L95.2,544.8 L95.9,544.8 L96.6,544.7 L97.3,544.8 L98,544.7 L98.7,544.7 L99.4,544.8 L100.1,544.8 L100.8,544.8 L101.5,544.8 L102.2,544.8 L103,544.7 L103.7,544.6 L104.4,544.7 L105.1,544.7 L105.8,544.7 L106.5,544.6 L107.2,544.6 L107.9,544.7 L108.6,544.8 L109.3,544.7 L110,544.6 L110.7,544.6 L111.4,544.6 L112.1,544.6 L112.8,544.6 L113.5,544.6 L114.2,544.7 L114.9,544.8 L115.6,544.8 L116.3,544.8 L117,544.6" fill="none" stroke="#4a4f62" stroke-width="1.05" stroke-linejoin="round"/>
<path d="M43.2,544.8 L43.2,544.6 L44,544.6 L44.7,544.7 L45.4,544.7 L46.1,544.8 L46.8,544.8 L47.5,544.8 L48.2,544.7 L48.9,544.7 L49.6,544.8 L50.3,544.8 L51,544.8 L51.7,544.8 L52.4,544.8 L53.1,544.8 L53.8,544.7 L54.5,544.7 L55.2,544.8 L55.9,544.8 L56.6,544.8 L57.3,544.8 L58,544.8 L58.7,544.8 L59.4,544.8 L60.1,544.8 L60.8,544.8 L61.5,544.8 L62.2,544.7 L62.9,544.5 L63.6,544.6 L64.3,544.7 L65,544.7 L65.7,544.7 L66.4,544.7 L67.1,544.5 L67.8,544.6 L68.5,544.8 L69.2,544.8 L69.9,544.6 L70.6,544.6 L71.3,544.7 L72,544.5 L72.8,544.3 L73.5,544.3 L74.2,544.3 L74.9,544 L75.6,543.4 L76.3,543.2 L77,543.2 L77.7,543.3 L78.4,543.2 L79.1,542.9 L79.8,542.4 L80.5,542.1 L81.2,542.1 L81.9,542.1 L82.6,541.6 L83.3,540.9 L84,540.4 L84.7,539.6 L85.4,537.4 L86.1,533.8 L86.8,529.7 L87.5,525.2 L88.2,519.6 L88.9,512.6 L89.6,505 L90.3,498 L91,492.5 L91.7,493.5 L92.4,499.9 L93.1,507.9 L93.8,515.6 L94.5,521.3 L95.2,526.1 L95.9,531.2 L96.6,535.3 L97.3,538.2 L98,540.8 L98.7,542.3 L99.4,542.8 L100.1,543.5 L100.8,544 L101.5,544.2 L102.2,544.6 L103,544.7 L103.7,544.7 L104.4,544.8 L105.1,544.8 L105.8,544.8 L106.5,544.8 L107.2,544.8 L107.9,544.6 L108.6,544.6 L109.3,544.7 L110,544.8 L110.7,544.8 L111.4,544.8 L112.1,544.8 L112.8,544.8 L113.5,544.8 L114.2,544.7 L114.9,544.7 L115.6,544.7 L116.3,544.7 L117,544.8 L117,544.8 Z" fill="rgba(44,75,142,0.27)" stroke="none"/>
<path d="M43.2,544.6 L44,544.6 L44.7,544.7 L45.4,544.7 L46.1,544.8 L46.8,544.8 L47.5,544.8 L48.2,544.7 L48.9,544.7 L49.6,544.8 L50.3,544.8 L51,544.8 L51.7,544.8 L52.4,544.8 L53.1,544.8 L53.8,544.7 L54.5,544.7 L55.2,544.8 L55.9,544.8 L56.6,544.8 L57.3,544.8 L58,544.8 L58.7,544.8 L59.4,544.8 L60.1,544.8 L60.8,544.8 L61.5,544.8 L62.2,544.7 L62.9,544.5 L63.6,544.6 L64.3,544.7 L65,544.7 L65.7,544.7 L66.4,544.7 L67.1,544.5 L67.8,544.6 L68.5,544.8 L69.2,544.8 L69.9,544.6 L70.6,544.6 L71.3,544.7 L72,544.5 L72.8,544.3 L73.5,544.3 L74.2,544.3 L74.9,544 L75.6,543.4 L76.3,543.2 L77,543.2 L77.7,543.3 L78.4,543.2 L79.1,542.9 L79.8,542.4 L80.5,542.1 L81.2,542.1 L81.9,542.1 L82.6,541.6 L83.3,540.9 L84,540.4 L84.7,539.6 L85.4,537.4 L86.1,533.8 L86.8,529.7 L87.5,525.2 L88.2,519.6 L88.9,512.6 L89.6,505 L90.3,498 L91,492.5 L91.7,493.5 L92.4,499.9 L93.1,507.9 L93.8,515.6 L94.5,521.3 L95.2,526.1 L95.9,531.2 L96.6,535.3 L97.3,538.2 L98,540.8 L98.7,542.3 L99.4,542.8 L100.1,543.5 L100.8,544 L101.5,544.2 L102.2,544.6 L103,544.7 L103.7,544.7 L104.4,544.8 L105.1,544.8 L105.8,544.8 L106.5,544.8 L107.2,544.8 L107.9,544.6 L108.6,544.6 L109.3,544.7 L110,544.8 L110.7,544.8 L111.4,544.8 L112.1,544.8 L112.8,544.8 L113.5,544.8 L114.2,544.7 L114.9,544.7 L115.6,544.7 L116.3,544.7 L117,544.8" fill="none" stroke="#2c4b8e" stroke-width="1.05" stroke-linejoin="round"/>
<path d="M43.2,544.8 L43.2,544.8 L44,544.7 L44.7,544.7 L45.4,544.8 L46.1,544.8 L46.8,544.7 L47.5,544.7 L48.2,544.7 L48.9,544.7 L49.6,544.6 L50.3,544.6 L51,544.7 L51.7,544.8 L52.4,544.7 L53.1,544.8 L53.8,544.8 L54.5,544.6 L55.2,544.7 L55.9,544.8 L56.6,544.8 L57.3,544.7 L58,544.7 L58.7,544.7 L59.4,544.8 L60.1,544.8 L60.8,544.8 L61.5,544.7 L62.2,544.8 L62.9,544.8 L63.6,544.8 L64.3,544.7 L65,544.6 L65.7,544.7 L66.4,544.7 L67.1,544.8 L67.8,544.8 L68.5,544.7 L69.2,544.6 L69.9,544.6 L70.6,544.7 L71.3,544.6 L72,544.4 L72.8,544.3 L73.5,544.4 L74.2,544.3 L74.9,544.1 L75.6,543.8 L76.3,543.5 L77,543.5 L77.7,543.6 L78.4,543.3 L79.1,542.8 L79.8,542.6 L80.5,542.5 L81.2,542.1 L81.9,541.6 L82.6,541.3 L83.3,541.3 L84,541.4 L84.7,541.1 L85.4,540.6 L86.1,540.4 L86.8,540.1 L87.5,539.5 L88.2,538.4 L88.9,536.2 L89.6,533.6 L90.3,530 L91,524.5 L91.7,517.4 L92.4,509.1 L93.1,499.1 L93.8,487.8 L94.5,478.1 L95.2,478.7 L95.9,491.7 L96.6,504.3 L97.3,515.3 L98,525.2 L98.7,532.6 L99.4,537.2 L100.1,540.1 L100.8,542.3 L101.5,543.5 L102.2,544.1 L103,544.5 L103.7,544.6 L104.4,544.5 L105.1,544.6 L105.8,544.8 L106.5,544.8 L107.2,544.8 L107.9,544.8 L108.6,544.8 L109.3,544.8 L110,544.8 L110.7,544.7 L111.4,544.8 L112.1,544.8 L112.8,544.8 L113.5,544.7 L114.2,544.7 L114.9,544.7 L115.6,544.7 L116.3,544.7 L117,544.7 L117,544.8 Z" fill="rgba(192,24,63,0.36)" stroke="none"/>
<path d="M43.2,544.8 L44,544.7 L44.7,544.7 L45.4,544.8 L46.1,544.8 L46.8,544.7 L47.5,544.7 L48.2,544.7 L48.9,544.7 L49.6,544.6 L50.3,544.6 L51,544.7 L51.7,544.8 L52.4,544.7 L53.1,544.8 L53.8,544.8 L54.5,544.6 L55.2,544.7 L55.9,544.8 L56.6,544.8 L57.3,544.7 L58,544.7 L58.7,544.7 L59.4,544.8 L60.1,544.8 L60.8,544.8 L61.5,544.7 L62.2,544.8 L62.9,544.8 L63.6,544.8 L64.3,544.7 L65,544.6 L65.7,544.7 L66.4,544.7 L67.1,544.8 L67.8,544.8 L68.5,544.7 L69.2,544.6 L69.9,544.6 L70.6,544.7 L71.3,544.6 L72,544.4 L72.8,544.3 L73.5,544.4 L74.2,544.3 L74.9,544.1 L75.6,543.8 L76.3,543.5 L77,543.5 L77.7,543.6 L78.4,543.3 L79.1,542.8 L79.8,542.6 L80.5,542.5 L81.2,542.1 L81.9,541.6 L82.6,541.3 L83.3,541.3 L84,541.4 L84.7,541.1 L85.4,540.6 L86.1,540.4 L86.8,540.1 L87.5,539.5 L88.2,538.4 L88.9,536.2 L89.6,533.6 L90.3,530 L91,524.5 L91.7,517.4 L92.4,509.1 L93.1,499.1 L93.8,487.8 L94.5,478.1 L95.2,478.7 L95.9,491.7 L96.6,504.3 L97.3,515.3 L98,525.2 L98.7,532.6 L99.4,537.2 L100.1,540.1 L100.8,542.3 L101.5,543.5 L102.2,544.1 L103,544.5 L103.7,544.6 L104.4,544.5 L105.1,544.6 L105.8,544.8 L106.5,544.8 L107.2,544.8 L107.9,544.8 L108.6,544.8 L109.3,544.8 L110,544.8 L110.7,544.7 L111.4,544.8 L112.1,544.8 L112.8,544.8 L113.5,544.7 L114.2,544.7 L114.9,544.7 L115.6,544.7 L116.3,544.7 L117,544.7" fill="none" stroke="#c0183f" stroke-width="1.05" stroke-linejoin="round"/>
<rect x="43.2" y="471.2" width="73.8" height="73.5" fill="none" stroke="#000" stroke-width="1.1"/>
<line x1="40.6" y1="544.8" x2="43.2" y2="544.8" stroke="#000" stroke-width="0.9"/>
<text x="38.6" y="547" font-size="6.2" stroke="#000" stroke-width="0.1" text-anchor="end">0</text>
<line x1="41.9" y1="540" x2="43.2" y2="540" stroke="#000" stroke-width="0.6"/>
<line x1="41.9" y1="535.3" x2="43.2" y2="535.3" stroke="#000" stroke-width="0.6"/>
<line x1="41.9" y1="530.6" x2="43.2" y2="530.6" stroke="#000" stroke-width="0.6"/>
<line x1="41.9" y1="525.9" x2="43.2" y2="525.9" stroke="#000" stroke-width="0.6"/>
<line x1="40.6" y1="521.1" x2="43.2" y2="521.1" stroke="#000" stroke-width="0.9"/>
<text x="38.6" y="523.4" font-size="6.2" stroke="#000" stroke-width="0.1" text-anchor="end">100</text>
<line x1="41.9" y1="516.4" x2="43.2" y2="516.4" stroke="#000" stroke-width="0.6"/>
<line x1="41.9" y1="511.7" x2="43.2" y2="511.7" stroke="#000" stroke-width="0.6"/>
<line x1="41.9" y1="507" x2="43.2" y2="507" stroke="#000" stroke-width="0.6"/>
<line x1="41.9" y1="502.3" x2="43.2" y2="502.3" stroke="#000" stroke-width="0.6"/>
<line x1="40.6" y1="497.6" x2="43.2" y2="497.6" stroke="#000" stroke-width="0.9"/>
<text x="38.6" y="499.8" font-size="6.2" stroke="#000" stroke-width="0.1" text-anchor="end">200</text>
<line x1="41.9" y1="492.8" x2="43.2" y2="492.8" stroke="#000" stroke-width="0.6"/>
<line x1="41.9" y1="488.1" x2="43.2" y2="488.1" stroke="#000" stroke-width="0.6"/>
<line x1="41.9" y1="483.4" x2="43.2" y2="483.4" stroke="#000" stroke-width="0.6"/>
<line x1="41.9" y1="478.7" x2="43.2" y2="478.7" stroke="#000" stroke-width="0.6"/>
<line x1="40.6" y1="473.9" x2="43.2" y2="473.9" stroke="#000" stroke-width="0.9"/>
<text x="38.6" y="476.1" font-size="6.2" stroke="#000" stroke-width="0.1" text-anchor="end">300</text>
<line x1="44" y1="544.8" x2="44" y2="547" stroke="#000" stroke-width="0.9"/>
<line x1="48" y1="544.8" x2="48" y2="546" stroke="#000" stroke-width="0.6"/>
<line x1="50.3" y1="544.8" x2="50.3" y2="546" stroke="#000" stroke-width="0.6"/>
<line x1="51.9" y1="544.8" x2="51.9" y2="546" stroke="#000" stroke-width="0.6"/>
<line x1="53.2" y1="544.8" x2="53.2" y2="546" stroke="#000" stroke-width="0.6"/>
<line x1="54.3" y1="544.8" x2="54.3" y2="546" stroke="#000" stroke-width="0.6"/>
<line x1="55.2" y1="544.8" x2="55.2" y2="546" stroke="#000" stroke-width="0.6"/>
<line x1="55.9" y1="544.8" x2="55.9" y2="546" stroke="#000" stroke-width="0.6"/>
<line x1="56.6" y1="544.8" x2="56.6" y2="546" stroke="#000" stroke-width="0.6"/>
<text x="44.4" y="556" font-size="6.6" stroke="#000" stroke-width="0.1" text-anchor="middle">10</text>
<text x="48.3" y="553.5" font-size="4.6" stroke="#000" stroke-width="0.1">0</text>
<line x1="57.2" y1="544.8" x2="57.2" y2="547" stroke="#000" stroke-width="0.9"/>
<line x1="61.2" y1="544.8" x2="61.2" y2="546" stroke="#000" stroke-width="0.6"/>
<line x1="63.5" y1="544.8" x2="63.5" y2="546" stroke="#000" stroke-width="0.6"/>
<line x1="65.1" y1="544.8" x2="65.1" y2="546" stroke="#000" stroke-width="0.6"/>
<line x1="66.4" y1="544.8" x2="66.4" y2="546" stroke="#000" stroke-width="0.6"/>
<line x1="67.5" y1="544.8" x2="67.5" y2="546" stroke="#000" stroke-width="0.6"/>
<line x1="68.4" y1="544.8" x2="68.4" y2="546" stroke="#000" stroke-width="0.6"/>
<line x1="69.1" y1="544.8" x2="69.1" y2="546" stroke="#000" stroke-width="0.6"/>
<line x1="69.8" y1="544.8" x2="69.8" y2="546" stroke="#000" stroke-width="0.6"/>
<text x="57.6" y="556" font-size="6.6" stroke="#000" stroke-width="0.1" text-anchor="middle">10</text>
<text x="61.5" y="553.5" font-size="4.6" stroke="#000" stroke-width="0.1">1</text>
<line x1="70.4" y1="544.8" x2="70.4" y2="547" stroke="#000" stroke-width="0.9"/>
<line x1="74.4" y1="544.8" x2="74.4" y2="546" stroke="#000" stroke-width="0.6"/>
<line x1="76.7" y1="544.8" x2="76.7" y2="546" stroke="#000" stroke-width="0.6"/>
<line x1="78.3" y1="544.8" x2="78.3" y2="546" stroke="#000" stroke-width="0.6"/>
<line x1="79.6" y1="544.8" x2="79.6" y2="546" stroke="#000" stroke-width="0.6"/>
<line x1="80.7" y1="544.8" x2="80.7" y2="546" stroke="#000" stroke-width="0.6"/>
<line x1="81.6" y1="544.8" x2="81.6" y2="546" stroke="#000" stroke-width="0.6"/>
<line x1="82.3" y1="544.8" x2="82.3" y2="546" stroke="#000" stroke-width="0.6"/>
<line x1="83" y1="544.8" x2="83" y2="546" stroke="#000" stroke-width="0.6"/>
<text x="70.8" y="556" font-size="6.6" stroke="#000" stroke-width="0.1" text-anchor="middle">10</text>
<text x="74.7" y="553.5" font-size="4.6" stroke="#000" stroke-width="0.1">2</text>
<line x1="83.6" y1="544.8" x2="83.6" y2="547" stroke="#000" stroke-width="0.9"/>
<line x1="87.6" y1="544.8" x2="87.6" y2="546" stroke="#000" stroke-width="0.6"/>
<line x1="89.9" y1="544.8" x2="89.9" y2="546" stroke="#000" stroke-width="0.6"/>
<line x1="91.5" y1="544.8" x2="91.5" y2="546" stroke="#000" stroke-width="0.6"/>
<line x1="92.8" y1="544.8" x2="92.8" y2="546" stroke="#000" stroke-width="0.6"/>
<line x1="93.9" y1="544.8" x2="93.9" y2="546" stroke="#000" stroke-width="0.6"/>
<line x1="94.8" y1="544.8" x2="94.8" y2="546" stroke="#000" stroke-width="0.6"/>
<line x1="95.5" y1="544.8" x2="95.5" y2="546" stroke="#000" stroke-width="0.6"/>
<line x1="96.2" y1="544.8" x2="96.2" y2="546" stroke="#000" stroke-width="0.6"/>
<text x="84" y="556" font-size="6.6" stroke="#000" stroke-width="0.1" text-anchor="middle">10</text>
<text x="87.9" y="553.5" font-size="4.6" stroke="#000" stroke-width="0.1">3</text>
<line x1="96.8" y1="544.8" x2="96.8" y2="547" stroke="#000" stroke-width="0.9"/>
<line x1="100.8" y1="544.8" x2="100.8" y2="546" stroke="#000" stroke-width="0.6"/>
<line x1="103.1" y1="544.8" x2="103.1" y2="546" stroke="#000" stroke-width="0.6"/>
<line x1="104.7" y1="544.8" x2="104.7" y2="546" stroke="#000" stroke-width="0.6"/>
<line x1="106" y1="544.8" x2="106" y2="546" stroke="#000" stroke-width="0.6"/>
<line x1="107.1" y1="544.8" x2="107.1" y2="546" stroke="#000" stroke-width="0.6"/>
<line x1="108" y1="544.8" x2="108" y2="546" stroke="#000" stroke-width="0.6"/>
<line x1="108.7" y1="544.8" x2="108.7" y2="546" stroke="#000" stroke-width="0.6"/>
<line x1="109.4" y1="544.8" x2="109.4" y2="546" stroke="#000" stroke-width="0.6"/>
<text x="97.2" y="556" font-size="6.6" stroke="#000" stroke-width="0.1" text-anchor="middle">10</text>
<text x="101.1" y="553.5" font-size="4.6" stroke="#000" stroke-width="0.1">4</text>
<line x1="110" y1="544.8" x2="110" y2="547" stroke="#000" stroke-width="0.9"/>
<line x1="114" y1="544.8" x2="114" y2="546" stroke="#000" stroke-width="0.6"/>
<line x1="116.3" y1="544.8" x2="116.3" y2="546" stroke="#000" stroke-width="0.6"/>
<text x="110.4" y="556" font-size="6.6" stroke="#000" stroke-width="0.1" text-anchor="middle">10</text>
<text x="114.3" y="553.5" font-size="4.6" stroke="#000" stroke-width="0.1">5</text>
<line x1="155.5" y1="470.5" x2="155.5" y2="536.8" stroke="#000" stroke-width="1.1"/>
<line x1="155" y1="536.2" x2="254.2" y2="536.2" stroke="#000" stroke-width="1.1"/>
<line x1="152.5" y1="536.2" x2="155.5" y2="536.2" stroke="#000" stroke-width="0.9"/>
<text x="150.9" y="538.5" font-size="6.2" stroke="#000" stroke-width="0.1" text-anchor="end">0</text>
<line x1="152.5" y1="528.2" x2="155.5" y2="528.2" stroke="#000" stroke-width="0.9"/>
<text x="150.9" y="530.4" font-size="6.2" stroke="#000" stroke-width="0.1" text-anchor="end">20</text>
<line x1="152.5" y1="520.2" x2="155.5" y2="520.2" stroke="#000" stroke-width="0.9"/>
<text x="150.9" y="522.4" font-size="6.2" stroke="#000" stroke-width="0.1" text-anchor="end">40</text>
<line x1="152.5" y1="512.2" x2="155.5" y2="512.2" stroke="#000" stroke-width="0.9"/>
<text x="150.9" y="514.4" font-size="6.2" stroke="#000" stroke-width="0.1" text-anchor="end">60</text>
<line x1="152.5" y1="504.1" x2="155.5" y2="504.1" stroke="#000" stroke-width="0.9"/>
<text x="150.9" y="506.3" font-size="6.2" stroke="#000" stroke-width="0.1" text-anchor="end">80</text>
<line x1="152.5" y1="496.1" x2="155.5" y2="496.1" stroke="#000" stroke-width="0.9"/>
<text x="150.9" y="498.3" font-size="6.2" stroke="#000" stroke-width="0.1" text-anchor="end">100</text>
<line x1="152.5" y1="488.1" x2="155.5" y2="488.1" stroke="#000" stroke-width="0.9"/>
<text x="150.9" y="490.3" font-size="6.2" stroke="#000" stroke-width="0.1" text-anchor="end">120</text>
<line x1="152.5" y1="480" x2="155.5" y2="480" stroke="#000" stroke-width="0.9"/>
<text x="150.9" y="482.2" font-size="6.2" stroke="#000" stroke-width="0.1" text-anchor="end">140</text>
<line x1="152.5" y1="472" x2="155.5" y2="472" stroke="#000" stroke-width="0.9"/>
<text x="150.9" y="474.2" font-size="6.2" stroke="#000" stroke-width="0.1" text-anchor="end">160</text>
<line x1="160.8" y1="536.2" x2="160.8" y2="538.6" stroke="#000" stroke-width="0.9"/>
<text x="160.4" y="548.5" font-size="6.4" stroke="#000" stroke-width="0.1" text-anchor="middle">-3</text>
<line x1="178.9" y1="536.2" x2="178.9" y2="538.6" stroke="#000" stroke-width="0.9"/>
<text x="178.6" y="548.5" font-size="6.4" stroke="#000" stroke-width="0.1" text-anchor="middle">-2</text>
<line x1="197.2" y1="536.2" x2="197.2" y2="538.6" stroke="#000" stroke-width="0.9"/>
<text x="196.8" y="548.5" font-size="6.4" stroke="#000" stroke-width="0.1" text-anchor="middle">-1</text>
<line x1="215.3" y1="536.2" x2="215.3" y2="538.6" stroke="#000" stroke-width="0.9"/>
<text x="215" y="548.5" font-size="6.4" stroke="#000" stroke-width="0.1" text-anchor="middle">0</text>
<line x1="233.6" y1="536.2" x2="233.6" y2="538.6" stroke="#000" stroke-width="0.9"/>
<text x="233.2" y="548.5" font-size="6.4" stroke="#000" stroke-width="0.1" text-anchor="middle">1</text>
<line x1="251.8" y1="536.2" x2="251.8" y2="538.6" stroke="#000" stroke-width="0.9"/>
<text x="251.4" y="548.5" font-size="6.4" stroke="#000" stroke-width="0.1" text-anchor="middle">2</text>
<text x="185.8" y="560" font-size="7.2" stroke="#000" stroke-width="0.25" textLength="15.4" lengthAdjust="spacingAndGlyphs">Bir log</text>
<text x="201.6" y="562.8" font-size="4.6" stroke="#000" stroke-width="0.15" textLength="3.9" lengthAdjust="spacingAndGlyphs">10</text>
<text x="208.3" y="560" font-size="7.2" stroke="#000" stroke-width="0.25" textLength="14.4" lengthAdjust="spacingAndGlyphs">(µM)</text>
<text transform="translate(133.5,503.4) rotate(-90)" x="0" y="0" font-size="8.2" text-anchor="middle" textLength="59" lengthAdjust="spacingAndGlyphs" stroke="#000" stroke-width="0.26">Survival (% of control)</text>
<polyline points="160.8,486.1 182.7,488.1 195.4,480.8 208.1,497.3 220.8,506.1 233.6,522.2" fill="none" stroke="#6db33f" stroke-width="1.3" stroke-linejoin="round"/>
<circle cx="160.8" cy="486.1" r="1.35" fill="#6db33f"/>
<circle cx="182.7" cy="488.1" r="1.35" fill="#6db33f"/>
<circle cx="195.4" cy="480.8" r="1.35" fill="#6db33f"/>
<circle cx="208.1" cy="497.3" r="1.35" fill="#6db33f"/>
<circle cx="220.8" cy="506.1" r="1.35" fill="#6db33f"/>
<circle cx="233.6" cy="522.2" r="1.35" fill="#6db33f"/>
<polyline points="160.8,487.3 182.7,492.1 195.4,508.1 208.1,526.2 220.8,531.4 233.6,532.6" fill="none" stroke="#562a7e" stroke-width="1.3" stroke-linejoin="round"/>
<circle cx="160.8" cy="487.3" r="1.35" fill="#562a7e"/>
<circle cx="182.7" cy="492.1" r="1.35" fill="#562a7e"/>
<circle cx="195.4" cy="508.1" r="1.35" fill="#562a7e"/>
<circle cx="208.1" cy="526.2" r="1.35" fill="#562a7e"/>
<circle cx="220.8" cy="531.4" r="1.35" fill="#562a7e"/>
<circle cx="233.6" cy="532.6" r="1.35" fill="#562a7e"/>
<polyline points="182.7,496.1 195.4,489.7 208.1,513.8 220.8,513 233.6,506.1" fill="none" stroke="#2b4c90" stroke-width="1.3" stroke-linejoin="round"/>
<circle cx="182.7" cy="496.1" r="1.35" fill="#2b4c90"/>
<circle cx="195.4" cy="489.7" r="1.35" fill="#2b4c90"/>
<circle cx="208.1" cy="513.8" r="1.35" fill="#2b4c90"/>
<circle cx="220.8" cy="513" r="1.35" fill="#2b4c90"/>
<circle cx="233.6" cy="506.1" r="1.35" fill="#2b4c90"/>
<polyline points="160.8,506.1 182.7,518.2 195.4,507.3 208.1,519 220.8,524.2 233.6,526.6" fill="none" stroke="#b8143d" stroke-width="1.3" stroke-linejoin="round"/>
<circle cx="160.8" cy="506.1" r="1.35" fill="#b8143d"/>
<circle cx="182.7" cy="518.2" r="1.35" fill="#b8143d"/>
<circle cx="195.4" cy="507.3" r="1.35" fill="#b8143d"/>
<circle cx="208.1" cy="519" r="1.35" fill="#b8143d"/>
<circle cx="220.8" cy="524.2" r="1.35" fill="#b8143d"/>
<circle cx="233.6" cy="526.6" r="1.35" fill="#b8143d"/>
<text x="26.2" y="576.2" font-size="11.5" font-weight="bold">G</text>
<text x="43.8" y="577.5" font-size="8.9" stroke="#000" stroke-width="0.15" textLength="31" lengthAdjust="spacingAndGlyphs">Patient 5</text>
<path d="M43,655 L43,655 L43.7,654.9 L44.4,654.8 L45.1,654.9 L45.8,654.9 L46.5,654.9 L47.2,654.9 L47.9,654.9 L48.6,654.9 L49.3,655 L50,655 L50.8,655 L51.5,655 L52.2,655 L52.9,654.9 L53.6,654.9 L54.3,654.9 L55,654.9 L55.7,654.9 L56.4,655 L57.1,655 L57.8,655 L58.5,654.8 L59.2,654.8 L59.9,654.7 L60.6,654.4 L61.3,654.2 L62,654.1 L62.7,653.5 L63.4,652.8 L64.1,652.4 L64.8,651.4 L65.6,650 L66.3,647.1 L67,643.4 L67.7,640.2 L68.4,636.7 L69.1,632.7 L69.8,627.1 L70.5,619.6 L71.2,612.4 L71.9,606.9 L72.6,604.8 L73.3,611.3 L74,619.6 L74.7,626.8 L75.4,633.5 L76.1,639.4 L76.8,644 L77.5,647.7 L78.2,650 L78.9,651.7 L79.6,653 L80.4,653.8 L81.1,654.4 L81.8,654.6 L82.5,654.6 L83.2,654.8 L83.9,655 L84.6,655 L85.3,655 L86,655 L86.7,655 L87.4,655 L88.1,655 L88.8,655 L89.5,655 L90.2,655 L90.9,655 L91.6,654.9 L92.3,654.9 L93,655 L93.7,655 L94.4,655 L95.2,655 L95.9,655 L96.6,655 L97.3,655 L98,654.9 L98.7,654.8 L99.4,654.8 L100.1,655 L100.8,655 L101.5,655 L102.2,654.9 L102.9,654.9 L103.6,655 L104.3,655 L105,655 L105.7,655 L106.4,655 L107.1,655 L107.8,655 L108.5,655 L109.2,655 L110,655 L110.7,654.9 L111.4,655 L112.1,655 L112.8,655 L113.5,655 L114.2,655 L114.9,655 L115.6,655 L116.3,655 L117,655 L117,655 Z" fill="rgba(150,150,156,0.22)" stroke="none"/>
<path d="M43,655 L43.7,654.9 L44.4,654.8 L45.1,654.9 L45.8,654.9 L46.5,654.9 L47.2,654.9 L47.9,654.9 L48.6,654.9 L49.3,655 L50,655 L50.8,655 L51.5,655 L52.2,655 L52.9,654.9 L53.6,654.9 L54.3,654.9 L55,654.9 L55.7,654.9 L56.4,655 L57.1,655 L57.8,655 L58.5,654.8 L59.2,654.8 L59.9,654.7 L60.6,654.4 L61.3,654.2 L62,654.1 L62.7,653.5 L63.4,652.8 L64.1,652.4 L64.8,651.4 L65.6,650 L66.3,647.1 L67,643.4 L67.7,640.2 L68.4,636.7 L69.1,632.7 L69.8,627.1 L70.5,619.6 L71.2,612.4 L71.9,606.9 L72.6,604.8 L73.3,611.3 L74,619.6 L74.7,626.8 L75.4,633.5 L76.1,639.4 L76.8,644 L77.5,647.7 L78.2,650 L78.9,651.7 L79.6,653 L80.4,653.8 L81.1,654.4 L81.8,654.6 L82.5,654.6 L83.2,654.8 L83.9,655 L84.6,655 L85.3,655 L86,655 L86.7,655 L87.4,655 L88.1,655 L88.8,655 L89.5,655 L90.2,655 L90.9,655 L91.6,654.9 L92.3,654.9 L93,655 L93.7,655 L94.4,655 L95.2,655 L95.9,655 L96.6,655 L97.3,655 L98,654.9 L98.7,654.8 L99.4,654.8 L100.1,655 L100.8,655 L101.5,655 L102.2,654.9 L102.9,654.9 L103.6,655 L104.3,655 L105,655 L105.7,655 L106.4,655 L107.1,655 L107.8,655 L108.5,655 L109.2,655 L110,655 L110.7,654.9 L111.4,655 L112.1,655 L112.8,655 L113.5,655 L114.2,655 L114.9,655 L115.6,655 L116.3,655 L117,655" fill="none" stroke="#d2d2d5" stroke-width="1.05" stroke-linejoin="round"/>
<path d="M43,655 L43,655 L43.7,655 L44.4,655 L45.1,655 L45.8,655 L46.5,655 L47.2,655 L47.9,655 L48.6,654.9 L49.3,655 L50,654.9 L50.8,654.9 L51.5,655 L52.2,655 L52.9,655 L53.6,655 L54.3,654.9 L55,655 L55.7,654.9 L56.4,654.9 L57.1,655 L57.8,655 L58.5,654.9 L59.2,654.9 L59.9,654.7 L60.6,654.8 L61.3,654.8 L62,654.3 L62.7,653.7 L63.4,653.1 L64.1,652.1 L64.8,650.8 L65.6,649.6 L66.3,647.5 L67,644.4 L67.7,641.2 L68.4,638 L69.1,634 L69.8,628.2 L70.5,621.6 L71.2,614.9 L71.9,609.7 L72.6,608.8 L73.3,614.2 L74,620.3 L74.7,626.4 L75.4,632.4 L76.1,637.9 L76.8,642.2 L77.5,646.1 L78.2,649 L78.9,651 L79.6,652.6 L80.4,653.4 L81.1,654.1 L81.8,654.5 L82.5,654.4 L83.2,654.4 L83.9,654.7 L84.6,655 L85.3,655 L86,655 L86.7,655 L87.4,655 L88.1,655 L88.8,655 L89.5,655 L90.2,655 L90.9,655 L91.6,655 L92.3,654.9 L93,654.9 L93.7,654.9 L94.4,654.9 L95.2,654.9 L95.9,655 L96.6,655 L97.3,655 L98,655 L98.7,655 L99.4,655 L100.1,655 L100.8,655 L101.5,655 L102.2,654.9 L102.9,654.9 L103.6,654.9 L104.3,654.9 L105,655 L105.7,655 L106.4,655 L107.1,655 L107.8,655 L108.5,655 L109.2,654.9 L110,654.8 L110.7,654.8 L111.4,654.9 L112.1,654.9 L112.8,654.8 L113.5,654.9 L114.2,655 L114.9,655 L115.6,654.9 L116.3,655 L117,654.8 L117,655 Z" fill="rgba(110,113,124,0.23)" stroke="none"/>
<path d="M43,655 L43.7,655 L44.4,655 L45.1,655 L45.8,655 L46.5,655 L47.2,655 L47.9,655 L48.6,654.9 L49.3,655 L50,654.9 L50.8,654.9 L51.5,655 L52.2,655 L52.9,655 L53.6,655 L54.3,654.9 L55,655 L55.7,654.9 L56.4,654.9 L57.1,655 L57.8,655 L58.5,654.9 L59.2,654.9 L59.9,654.7 L60.6,654.8 L61.3,654.8 L62,654.3 L62.7,653.7 L63.4,653.1 L64.1,652.1 L64.8,650.8 L65.6,649.6 L66.3,647.5 L67,644.4 L67.7,641.2 L68.4,638 L69.1,634 L69.8,628.2 L70.5,621.6 L71.2,614.9 L71.9,609.7 L72.6,608.8 L73.3,614.2 L74,620.3 L74.7,626.4 L75.4,632.4 L76.1,637.9 L76.8,642.2 L77.5,646.1 L78.2,649 L78.9,651 L79.6,652.6 L80.4,653.4 L81.1,654.1 L81.8,654.5 L82.5,654.4 L83.2,654.4 L83.9,654.7 L84.6,655 L85.3,655 L86,655 L86.7,655 L87.4,655 L88.1,655 L88.8,655 L89.5,655 L90.2,655 L90.9,655 L91.6,655 L92.3,654.9 L93,654.9 L93.7,654.9 L94.4,654.9 L95.2,654.9 L95.9,655 L96.6,655 L97.3,655 L98,655 L98.7,655 L99.4,655 L100.1,655 L100.8,655 L101.5,655 L102.2,654.9 L102.9,654.9 L103.6,654.9 L104.3,654.9 L105,655 L105.7,655 L106.4,655 L107.1,655 L107.8,655 L108.5,655 L109.2,654.9 L110,654.8 L110.7,654.8 L111.4,654.9 L112.1,654.9 L112.8,654.8 L113.5,654.9 L114.2,655 L114.9,655 L115.6,654.9 L116.3,655 L117,654.8" fill="none" stroke="#4a4f62" stroke-width="1.05" stroke-linejoin="round"/>
<path d="M43,655 L43,655 L43.7,655 L44.4,655 L45.1,655 L45.8,654.9 L46.5,655 L47.2,655 L47.9,655 L48.6,655 L49.3,655 L50,654.8 L50.8,654.8 L51.5,654.9 L52.2,655 L52.9,655 L53.6,655 L54.3,655 L55,655 L55.7,655 L56.4,655 L57.1,655 L57.8,655 L58.5,655 L59.2,654.9 L59.9,654.9 L60.6,655 L61.3,655 L62,655 L62.7,655 L63.4,655 L64.1,655 L64.8,655 L65.6,655 L66.3,655 L67,655 L67.7,655 L68.4,654.9 L69.1,654.9 L69.8,654.9 L70.5,655 L71.2,655 L71.9,655 L72.6,655 L73.3,655 L74,654.9 L74.7,654.9 L75.4,654.9 L76.1,654.9 L76.8,654.8 L77.5,654.7 L78.2,654.6 L78.9,654.6 L79.6,654.6 L80.4,654.6 L81.1,654.7 L81.8,654.8 L82.5,654.6 L83.2,654.3 L83.9,654.1 L84.6,654 L85.3,653.7 L86,653.4 L86.7,653.3 L87.4,653.2 L88.1,652.8 L88.8,652.1 L89.5,651.4 L90.2,650.9 L90.9,650.4 L91.6,649.7 L92.3,649.1 L93,648.2 L93.7,647 L94.4,646.2 L95.2,646.1 L95.9,645.5 L96.6,643.7 L97.3,642.2 L98,641.8 L98.7,640.8 L99.4,638.7 L100.1,637.2 L100.8,636.6 L101.5,635.7 L102.2,633.8 L102.9,631.5 L103.6,627.3 L104.3,620.1 L105,611.7 L105.7,602.3 L106.4,592.3 L107.1,595 L107.8,611.3 L108.5,627.5 L109.2,639.4 L110,646.2 L110.7,649.9 L111.4,652.5 L112.1,653.9 L112.8,654.4 L113.5,654.7 L114.2,655 L114.9,655 L115.6,655 L116.3,655 L117,655 L117,655 Z" fill="rgba(44,75,142,0.27)" stroke="none"/>
<path d="M43,655 L43.7,655 L44.4,655 L45.1,655 L45.8,654.9 L46.5,655 L47.2,655 L47.9,655 L48.6,655 L49.3,655 L50,654.8 L50.8,654.8 L51.5,654.9 L52.2,655 L52.9,655 L53.6,655 L54.3,655 L55,655 L55.7,655 L56.4,655 L57.1,655 L57.8,655 L58.5,655 L59.2,654.9 L59.9,654.9 L60.6,655 L61.3,655 L62,655 L62.7,655 L63.4,655 L64.1,655 L64.8,655 L65.6,655 L66.3,655 L67,655 L67.7,655 L68.4,654.9 L69.1,654.9 L69.8,654.9 L70.5,655 L71.2,655 L71.9,655 L72.6,655 L73.3,655 L74,654.9 L74.7,654.9 L75.4,654.9 L76.1,654.9 L76.8,654.8 L77.5,654.7 L78.2,654.6 L78.9,654.6 L79.6,654.6 L80.4,654.6 L81.1,654.7 L81.8,654.8 L82.5,654.6 L83.2,654.3 L83.9,654.1 L84.6,654 L85.3,653.7 L86,653.4 L86.7,653.3 L87.4,653.2 L88.1,652.8 L88.8,652.1 L89.5,651.4 L90.2,650.9 L90.9,650.4 L91.6,649.7 L92.3,649.1 L93,648.2 L93.7,647 L94.4,646.2 L95.2,646.1 L95.9,645.5 L96.6,643.7 L97.3,642.2 L98,641.8 L98.7,640.8 L99.4,638.7 L100.1,637.2 L100.8,636.6 L101.5,635.7 L102.2,633.8 L102.9,631.5 L103.6,627.3 L104.3,620.1 L105,611.7 L105.7,602.3 L106.4,592.3 L107.1,595 L107.8,611.3 L108.5,627.5 L109.2,639.4 L110,646.2 L110.7,649.9 L111.4,652.5 L112.1,653.9 L112.8,654.4 L113.5,654.7 L114.2,655 L114.9,655 L115.6,655 L116.3,655 L117,655" fill="none" stroke="#2c4b8e" stroke-width="1.05" stroke-linejoin="round"/>
<path d="M43,655 L43,655 L43.7,655 L44.4,655 L45.1,655 L45.8,655 L46.5,655 L47.2,655 L47.9,655 L48.6,655 L49.3,654.9 L50,654.9 L50.8,655 L51.5,654.9 L52.2,654.9 L52.9,655 L53.6,655 L54.3,655 L55,655 L55.7,655 L56.4,654.9 L57.1,654.8 L57.8,654.8 L58.5,654.9 L59.2,655 L59.9,655 L60.6,655 L61.3,655 L62,655 L62.7,655 L63.4,654.9 L64.1,654.9 L64.8,654.9 L65.6,655 L66.3,655 L67,654.9 L67.7,654.9 L68.4,655 L69.1,655 L69.8,655 L70.5,655 L71.2,655 L71.9,654.9 L72.6,654.9 L73.3,654.9 L74,654.9 L74.7,654.9 L75.4,654.9 L76.1,654.9 L76.8,654.8 L77.5,654.8 L78.2,654.7 L78.9,654.7 L79.6,654.7 L80.4,654.7 L81.1,654.7 L81.8,654.5 L82.5,654.4 L83.2,654.3 L83.9,654.1 L84.6,653.9 L85.3,653.8 L86,653.4 L86.7,653 L87.4,652.7 L88.1,652.8 L88.8,652.5 L89.5,652 L90.2,651.3 L90.9,651 L91.6,650.7 L92.3,650.1 L93,649.6 L93.7,648.9 L94.4,647.8 L95.2,646.8 L95.9,645.8 L96.6,644.8 L97.3,643.4 L98,642.5 L98.7,641.9 L99.4,640.5 L100.1,639.6 L100.8,638.8 L101.5,637.9 L102.2,637.3 L102.9,636 L103.6,631.9 L104.3,624.7 L105,613.7 L105.7,600.4 L106.4,590.6 L107.1,594.8 L107.8,610.1 L108.5,626 L109.2,638 L110,645.4 L110.7,649.9 L111.4,652.4 L112.1,653.7 L112.8,654.3 L113.5,654.6 L114.2,654.8 L114.9,654.9 L115.6,655 L116.3,654.9 L117,654.9 L117,655 Z" fill="rgba(192,24,63,0.36)" stroke="none"/>
<path d="M43,655 L43.7,655 L44.4,655 L45.1,655 L45.8,655 L46.5,655 L47.2,655 L47.9,655 L48.6,655 L49.3,654.9 L50,654.9 L50.8,655 L51.5,654.9 L52.2,654.9 L52.9,655 L53.6,655 L54.3,655 L55,655 L55.7,655 L56.4,654.9 L57.1,654.8 L57.8,654.8 L58.5,654.9 L59.2,655 L59.9,655 L60.6,655 L61.3,655 L62,655 L62.7,655 L63.4,654.9 L64.1,654.9 L64.8,654.9 L65.6,655 L66.3,655 L67,654.9 L67.7,654.9 L68.4,655 L69.1,655 L69.8,655 L70.5,655 L71.2,655 L71.9,654.9 L72.6,654.9 L73.3,654.9 L74,654.9 L74.7,654.9 L75.4,654.9 L76.1,654.9 L76.8,654.8 L77.5,654.8 L78.2,654.7 L78.9,654.7 L79.6,654.7 L80.4,654.7 L81.1,654.7 L81.8,654.5 L82.5,654.4 L83.2,654.3 L83.9,654.1 L84.6,653.9 L85.3,653.8 L86,653.4 L86.7,653 L87.4,652.7 L88.1,652.8 L88.8,652.5 L89.5,652 L90.2,651.3 L90.9,651 L91.6,650.7 L92.3,650.1 L93,649.6 L93.7,648.9 L94.4,647.8 L95.2,646.8 L95.9,645.8 L96.6,644.8 L97.3,643.4 L98,642.5 L98.7,641.9 L99.4,640.5 L100.1,639.6 L100.8,638.8 L101.5,637.9 L102.2,637.3 L102.9,636 L103.6,631.9 L104.3,624.7 L105,613.7 L105.7,600.4 L106.4,590.6 L107.1,594.8 L107.8,610.1 L108.5,626 L109.2,638 L110,645.4 L110.7,649.9 L111.4,652.4 L112.1,653.7 L112.8,654.3 L113.5,654.6 L114.2,654.8 L114.9,654.9 L115.6,655 L116.3,654.9 L117,654.9" fill="none" stroke="#c0183f" stroke-width="1.05" stroke-linejoin="round"/>
<rect x="43" y="581.8" width="74" height="73.2" fill="none" stroke="#000" stroke-width="1.1"/>
<line x1="40.4" y1="655" x2="43" y2="655" stroke="#000" stroke-width="0.9"/>
<text x="38.4" y="657.2" font-size="6.2" stroke="#000" stroke-width="0.1" text-anchor="end">0</text>
<line x1="41.6" y1="651.3" x2="43" y2="651.3" stroke="#000" stroke-width="0.6"/>
<line x1="41.6" y1="647.7" x2="43" y2="647.7" stroke="#000" stroke-width="0.6"/>
<line x1="41.6" y1="644" x2="43" y2="644" stroke="#000" stroke-width="0.6"/>
<line x1="41.6" y1="640.4" x2="43" y2="640.4" stroke="#000" stroke-width="0.6"/>
<line x1="40.4" y1="636.7" x2="43" y2="636.7" stroke="#000" stroke-width="0.9"/>
<text x="38.4" y="638.9" font-size="6.2" stroke="#000" stroke-width="0.1" text-anchor="end">100</text>
<line x1="41.6" y1="633" x2="43" y2="633" stroke="#000" stroke-width="0.6"/>
<line x1="41.6" y1="629.4" x2="43" y2="629.4" stroke="#000" stroke-width="0.6"/>
<line x1="41.6" y1="625.7" x2="43" y2="625.7" stroke="#000" stroke-width="0.6"/>
<line x1="41.6" y1="622.1" x2="43" y2="622.1" stroke="#000" stroke-width="0.6"/>
<line x1="40.4" y1="618.4" x2="43" y2="618.4" stroke="#000" stroke-width="0.9"/>
<text x="38.4" y="620.6" font-size="6.2" stroke="#000" stroke-width="0.1" text-anchor="end">200</text>
<line x1="41.6" y1="614.7" x2="43" y2="614.7" stroke="#000" stroke-width="0.6"/>
<line x1="41.6" y1="611.1" x2="43" y2="611.1" stroke="#000" stroke-width="0.6"/>
<line x1="41.6" y1="607.4" x2="43" y2="607.4" stroke="#000" stroke-width="0.6"/>
<line x1="41.6" y1="603.8" x2="43" y2="603.8" stroke="#000" stroke-width="0.6"/>
<line x1="40.4" y1="600.1" x2="43" y2="600.1" stroke="#000" stroke-width="0.9"/>
<text x="38.4" y="602.3" font-size="6.2" stroke="#000" stroke-width="0.1" text-anchor="end">300</text>
<line x1="41.6" y1="596.4" x2="43" y2="596.4" stroke="#000" stroke-width="0.6"/>
<line x1="41.6" y1="592.8" x2="43" y2="592.8" stroke="#000" stroke-width="0.6"/>
<line x1="41.6" y1="589.1" x2="43" y2="589.1" stroke="#000" stroke-width="0.6"/>
<line x1="41.6" y1="585.5" x2="43" y2="585.5" stroke="#000" stroke-width="0.6"/>
<line x1="40.4" y1="581.8" x2="43" y2="581.8" stroke="#000" stroke-width="0.9"/>
<text x="38.4" y="584" font-size="6.2" stroke="#000" stroke-width="0.1" text-anchor="end">400</text>
<line x1="51" y1="655" x2="51" y2="657.2" stroke="#000" stroke-width="0.9"/>
<line x1="55.3" y1="655" x2="55.3" y2="656.2" stroke="#000" stroke-width="0.6"/>
<line x1="57.9" y1="655" x2="57.9" y2="656.2" stroke="#000" stroke-width="0.6"/>
<line x1="59.7" y1="655" x2="59.7" y2="656.2" stroke="#000" stroke-width="0.6"/>
<line x1="61.1" y1="655" x2="61.1" y2="656.2" stroke="#000" stroke-width="0.6"/>
<line x1="62.2" y1="655" x2="62.2" y2="656.2" stroke="#000" stroke-width="0.6"/>
<line x1="63.2" y1="655" x2="63.2" y2="656.2" stroke="#000" stroke-width="0.6"/>
<line x1="64" y1="655" x2="64" y2="656.2" stroke="#000" stroke-width="0.6"/>
<line x1="64.7" y1="655" x2="64.7" y2="656.2" stroke="#000" stroke-width="0.6"/>
<text x="51.4" y="666.3" font-size="6.6" stroke="#000" stroke-width="0.1" text-anchor="middle">10</text>
<text x="55.3" y="663.7" font-size="4.6" stroke="#000" stroke-width="0.1">1</text>
<line x1="65.4" y1="655" x2="65.4" y2="657.2" stroke="#000" stroke-width="0.9"/>
<line x1="69.7" y1="655" x2="69.7" y2="656.2" stroke="#000" stroke-width="0.6"/>
<line x1="72.3" y1="655" x2="72.3" y2="656.2" stroke="#000" stroke-width="0.6"/>
<line x1="74.1" y1="655" x2="74.1" y2="656.2" stroke="#000" stroke-width="0.6"/>
<line x1="75.5" y1="655" x2="75.5" y2="656.2" stroke="#000" stroke-width="0.6"/>
<line x1="76.6" y1="655" x2="76.6" y2="656.2" stroke="#000" stroke-width="0.6"/>
<line x1="77.6" y1="655" x2="77.6" y2="656.2" stroke="#000" stroke-width="0.6"/>
<line x1="78.4" y1="655" x2="78.4" y2="656.2" stroke="#000" stroke-width="0.6"/>
<line x1="79.1" y1="655" x2="79.1" y2="656.2" stroke="#000" stroke-width="0.6"/>
<text x="65.8" y="666.3" font-size="6.6" stroke="#000" stroke-width="0.1" text-anchor="middle">10</text>
<text x="69.7" y="663.7" font-size="4.6" stroke="#000" stroke-width="0.1">2</text>
<line x1="79.8" y1="655" x2="79.8" y2="657.2" stroke="#000" stroke-width="0.9"/>
<line x1="84.1" y1="655" x2="84.1" y2="656.2" stroke="#000" stroke-width="0.6"/>
<line x1="86.7" y1="655" x2="86.7" y2="656.2" stroke="#000" stroke-width="0.6"/>
<line x1="88.5" y1="655" x2="88.5" y2="656.2" stroke="#000" stroke-width="0.6"/>
<line x1="89.9" y1="655" x2="89.9" y2="656.2" stroke="#000" stroke-width="0.6"/>
<line x1="91" y1="655" x2="91" y2="656.2" stroke="#000" stroke-width="0.6"/>
<line x1="92" y1="655" x2="92" y2="656.2" stroke="#000" stroke-width="0.6"/>
<line x1="92.8" y1="655" x2="92.8" y2="656.2" stroke="#000" stroke-width="0.6"/>
<line x1="93.5" y1="655" x2="93.5" y2="656.2" stroke="#000" stroke-width="0.6"/>
<text x="80.2" y="666.3" font-size="6.6" stroke="#000" stroke-width="0.1" text-anchor="middle">10</text>
<text x="84.1" y="663.7" font-size="4.6" stroke="#000" stroke-width="0.1">3</text>
<line x1="94.2" y1="655" x2="94.2" y2="657.2" stroke="#000" stroke-width="0.9"/>
<line x1="98.5" y1="655" x2="98.5" y2="656.2" stroke="#000" stroke-width="0.6"/>
<line x1="101.1" y1="655" x2="101.1" y2="656.2" stroke="#000" stroke-width="0.6"/>
<line x1="102.9" y1="655" x2="102.9" y2="656.2" stroke="#000" stroke-width="0.6"/>
<line x1="104.3" y1="655" x2="104.3" y2="656.2" stroke="#000" stroke-width="0.6"/>
<line x1="105.4" y1="655" x2="105.4" y2="656.2" stroke="#000" stroke-width="0.6"/>
<line x1="106.4" y1="655" x2="106.4" y2="656.2" stroke="#000" stroke-width="0.6"/>
<line x1="107.2" y1="655" x2="107.2" y2="656.2" stroke="#000" stroke-width="0.6"/>
<line x1="107.9" y1="655" x2="107.9" y2="656.2" stroke="#000" stroke-width="0.6"/>
<text x="94.6" y="666.3" font-size="6.6" stroke="#000" stroke-width="0.1" text-anchor="middle">10</text>
<text x="98.5" y="663.7" font-size="4.6" stroke="#000" stroke-width="0.1">4</text>
<line x1="108.6" y1="655" x2="108.6" y2="657.2" stroke="#000" stroke-width="0.9"/>
<line x1="112.9" y1="655" x2="112.9" y2="656.2" stroke="#000" stroke-width="0.6"/>
<line x1="115.5" y1="655" x2="115.5" y2="656.2" stroke="#000" stroke-width="0.6"/>
<text x="109" y="666.3" font-size="6.6" stroke="#000" stroke-width="0.1" text-anchor="middle">10</text>
<text x="112.9" y="663.7" font-size="4.6" stroke="#000" stroke-width="0.1">5</text>
<line x1="156.2" y1="578.8" x2="156.2" y2="644.8" stroke="#000" stroke-width="1.1"/>
<line x1="155.8" y1="644.2" x2="254.2" y2="644.2" stroke="#000" stroke-width="1.1"/>
<line x1="153.2" y1="644.2" x2="156.2" y2="644.2" stroke="#000" stroke-width="0.9"/>
<text x="151.7" y="646.5" font-size="6.2" stroke="#000" stroke-width="0.1" text-anchor="end">0</text>
<line x1="153.2" y1="635.1" x2="156.2" y2="635.1" stroke="#000" stroke-width="0.9"/>
<text x="151.7" y="637.4" font-size="6.2" stroke="#000" stroke-width="0.1" text-anchor="end">20</text>
<line x1="153.2" y1="626" x2="156.2" y2="626" stroke="#000" stroke-width="0.9"/>
<text x="151.7" y="628.2" font-size="6.2" stroke="#000" stroke-width="0.1" text-anchor="end">40</text>
<line x1="153.2" y1="617" x2="156.2" y2="617" stroke="#000" stroke-width="0.9"/>
<text x="151.7" y="619.2" font-size="6.2" stroke="#000" stroke-width="0.1" text-anchor="end">60</text>
<line x1="153.2" y1="607.9" x2="156.2" y2="607.9" stroke="#000" stroke-width="0.9"/>
<text x="151.7" y="610.1" font-size="6.2" stroke="#000" stroke-width="0.1" text-anchor="end">80</text>
<line x1="153.2" y1="598.8" x2="156.2" y2="598.8" stroke="#000" stroke-width="0.9"/>
<text x="151.7" y="601" font-size="6.2" stroke="#000" stroke-width="0.1" text-anchor="end">100</text>
<line x1="153.2" y1="589.6" x2="156.2" y2="589.6" stroke="#000" stroke-width="0.9"/>
<text x="151.7" y="591.9" font-size="6.2" stroke="#000" stroke-width="0.1" text-anchor="end">120</text>
<line x1="153.2" y1="580.5" x2="156.2" y2="580.5" stroke="#000" stroke-width="0.9"/>
<text x="151.7" y="582.8" font-size="6.2" stroke="#000" stroke-width="0.1" text-anchor="end">140</text>
<line x1="161.2" y1="644.2" x2="161.2" y2="646.6" stroke="#000" stroke-width="0.9"/>
<text x="160.9" y="656.5" font-size="6.4" stroke="#000" stroke-width="0.1" text-anchor="middle">-3</text>
<line x1="179.3" y1="644.2" x2="179.3" y2="646.6" stroke="#000" stroke-width="0.9"/>
<text x="179" y="656.5" font-size="6.4" stroke="#000" stroke-width="0.1" text-anchor="middle">-2</text>
<line x1="197.4" y1="644.2" x2="197.4" y2="646.6" stroke="#000" stroke-width="0.9"/>
<text x="197.1" y="656.5" font-size="6.4" stroke="#000" stroke-width="0.1" text-anchor="middle">-1</text>
<line x1="215.6" y1="644.2" x2="215.6" y2="646.6" stroke="#000" stroke-width="0.9"/>
<text x="215.2" y="656.5" font-size="6.4" stroke="#000" stroke-width="0.1" text-anchor="middle">0</text>
<line x1="233.7" y1="644.2" x2="233.7" y2="646.6" stroke="#000" stroke-width="0.9"/>
<text x="233.3" y="656.5" font-size="6.4" stroke="#000" stroke-width="0.1" text-anchor="middle">1</text>
<line x1="251.8" y1="644.2" x2="251.8" y2="646.6" stroke="#000" stroke-width="0.9"/>
<text x="251.4" y="656.5" font-size="6.4" stroke="#000" stroke-width="0.1" text-anchor="middle">2</text>
<text x="186.2" y="668" font-size="7.2" stroke="#000" stroke-width="0.25" textLength="15.4" lengthAdjust="spacingAndGlyphs">Bir log</text>
<text x="202.1" y="670.8" font-size="4.6" stroke="#000" stroke-width="0.15" textLength="3.9" lengthAdjust="spacingAndGlyphs">10</text>
<text x="208.8" y="668" font-size="7.2" stroke="#000" stroke-width="0.25" textLength="14.4" lengthAdjust="spacingAndGlyphs">(µM)</text>
<text transform="translate(134.2,611.5) rotate(-90)" x="0" y="0" font-size="8.2" text-anchor="middle" textLength="59" lengthAdjust="spacingAndGlyphs" stroke="#000" stroke-width="0.26">Survival (% of control)</text>
<polyline points="161.2,587.8 183,606 195.7,627.4 208.3,632.9 221,638.3 233.7,641.1" fill="none" stroke="#6db33f" stroke-width="1.3" stroke-linejoin="round"/>
<circle cx="161.2" cy="587.8" r="1.35" fill="#6db33f"/>
<circle cx="183" cy="606" r="1.35" fill="#6db33f"/>
<circle cx="195.7" cy="627.4" r="1.35" fill="#6db33f"/>
<circle cx="208.3" cy="632.9" r="1.35" fill="#6db33f"/>
<circle cx="221" cy="638.3" r="1.35" fill="#6db33f"/>
<circle cx="233.7" cy="641.1" r="1.35" fill="#6db33f"/>
<polyline points="161.2,600.1 183,613.3 195.7,628.3 208.3,635.1 221,640.6 233.7,641.5" fill="none" stroke="#562a7e" stroke-width="1.3" stroke-linejoin="round"/>
<circle cx="161.2" cy="600.1" r="1.35" fill="#562a7e"/>
<circle cx="183" cy="613.3" r="1.35" fill="#562a7e"/>
<circle cx="195.7" cy="628.3" r="1.35" fill="#562a7e"/>
<circle cx="208.3" cy="635.1" r="1.35" fill="#562a7e"/>
<circle cx="221" cy="640.6" r="1.35" fill="#562a7e"/>
<circle cx="233.7" cy="641.5" r="1.35" fill="#562a7e"/>
<polyline points="161.2,598.8 183,616.5 195.7,628.3 208.3,635.1 221,639.7 233.7,637.4" fill="none" stroke="#2b4c90" stroke-width="1.3" stroke-linejoin="round"/>
<circle cx="161.2" cy="598.8" r="1.35" fill="#2b4c90"/>
<circle cx="183" cy="616.5" r="1.35" fill="#2b4c90"/>
<circle cx="195.7" cy="628.3" r="1.35" fill="#2b4c90"/>
<circle cx="208.3" cy="635.1" r="1.35" fill="#2b4c90"/>
<circle cx="221" cy="639.7" r="1.35" fill="#2b4c90"/>
<circle cx="233.7" cy="637.4" r="1.35" fill="#2b4c90"/>
<polyline points="161.2,601.5 183,624.7 195.7,633.3 208.3,638.8 221,641.5 233.7,641.5" fill="none" stroke="#b8143d" stroke-width="1.3" stroke-linejoin="round"/>
<circle cx="161.2" cy="601.5" r="1.35" fill="#b8143d"/>
<circle cx="183" cy="624.7" r="1.35" fill="#b8143d"/>
<circle cx="195.7" cy="633.3" r="1.35" fill="#b8143d"/>
<circle cx="208.3" cy="638.8" r="1.35" fill="#b8143d"/>
<circle cx="221" cy="641.5" r="1.35" fill="#b8143d"/>
<circle cx="233.7" cy="641.5" r="1.35" fill="#b8143d"/>
<text x="285" y="144.5" font-size="11.5" font-weight="bold">H</text>
<text x="302" y="142" font-size="8.9" stroke="#000" stroke-width="0.15" textLength="31" lengthAdjust="spacingAndGlyphs">Patient 6</text>
<path d="M301.2,219.5 L301.2,219.5 L302,219.5 L302.7,219.5 L303.4,219.5 L304.1,219.5 L304.8,219.4 L305.5,219.5 L306.2,219.5 L306.9,219.4 L307.6,219.2 L308.3,219 L309,218.7 L309.7,218.7 L310.4,218.9 L311.1,218.8 L311.8,218.5 L312.5,217.9 L313.2,217 L313.9,216.4 L314.6,215.8 L315.3,213.8 L316,211.4 L316.7,209.7 L317.4,207.3 L318.2,205.6 L318.9,203.6 L319.6,199.1 L320.3,194.3 L321,189.6 L321.7,184.8 L322.4,178.9 L323.1,171.8 L323.8,165.8 L324.5,161.7 L325.2,162.7 L325.9,171.5 L326.6,183.8 L327.3,196.8 L328,204.2 L328.7,208.7 L329.4,212.7 L330.1,215.3 L330.8,216.8 L331.5,217.8 L332.2,218.7 L332.9,219.3 L333.6,219.5 L334.4,219.5 L335.1,219.5 L335.8,219.5 L336.5,219.5 L337.2,219.5 L337.9,219.5 L338.6,219.5 L339.3,219.5 L340,219.5 L340.7,219.4 L341.4,219.5 L342.1,219.4 L342.8,219.3 L343.5,219.4 L344.2,219.5 L344.9,219.5 L345.6,219.5 L346.3,219.5 L347,219.5 L347.7,219.5 L348.4,219.5 L349.1,219.5 L349.8,219.5 L350.6,219.5 L351.3,219.3 L352,219.5 L352.7,219.5 L353.4,219.4 L354.1,219.3 L354.8,219.5 L355.5,219.5 L356.2,219.5 L356.9,219.5 L357.6,219.5 L358.3,219.5 L359,219.5 L359.7,219.4 L360.4,219.3 L361.1,219.5 L361.8,219.5 L362.5,219.5 L363.2,219.5 L363.9,219.5 L364.6,219.5 L365.3,219.5 L366,219.5 L366.8,219.5 L367.5,219.5 L368.2,219.5 L368.9,219.5 L369.6,219.5 L370.3,219.5 L371,219.5 L371.7,219.5 L372.4,219.5 L373.1,219.5 L373.8,219.4 L374.5,219.3 L374.5,219.5 Z" fill="rgba(150,150,156,0.22)" stroke="none"/>
<path d="M301.2,219.5 L302,219.5 L302.7,219.5 L303.4,219.5 L304.1,219.5 L304.8,219.4 L305.5,219.5 L306.2,219.5 L306.9,219.4 L307.6,219.2 L308.3,219 L309,218.7 L309.7,218.7 L310.4,218.9 L311.1,218.8 L311.8,218.5 L312.5,217.9 L313.2,217 L313.9,216.4 L314.6,215.8 L315.3,213.8 L316,211.4 L316.7,209.7 L317.4,207.3 L318.2,205.6 L318.9,203.6 L319.6,199.1 L320.3,194.3 L321,189.6 L321.7,184.8 L322.4,178.9 L323.1,171.8 L323.8,165.8 L324.5,161.7 L325.2,162.7 L325.9,171.5 L326.6,183.8 L327.3,196.8 L328,204.2 L328.7,208.7 L329.4,212.7 L330.1,215.3 L330.8,216.8 L331.5,217.8 L332.2,218.7 L332.9,219.3 L333.6,219.5 L334.4,219.5 L335.1,219.5 L335.8,219.5 L336.5,219.5 L337.2,219.5 L337.9,219.5 L338.6,219.5 L339.3,219.5 L340,219.5 L340.7,219.4 L341.4,219.5 L342.1,219.4 L342.8,219.3 L343.5,219.4 L344.2,219.5 L344.9,219.5 L345.6,219.5 L346.3,219.5 L347,219.5 L347.7,219.5 L348.4,219.5 L349.1,219.5 L349.8,219.5 L350.6,219.5 L351.3,219.3 L352,219.5 L352.7,219.5 L353.4,219.4 L354.1,219.3 L354.8,219.5 L355.5,219.5 L356.2,219.5 L356.9,219.5 L357.6,219.5 L358.3,219.5 L359,219.5 L359.7,219.4 L360.4,219.3 L361.1,219.5 L361.8,219.5 L362.5,219.5 L363.2,219.5 L363.9,219.5 L364.6,219.5 L365.3,219.5 L366,219.5 L366.8,219.5 L367.5,219.5 L368.2,219.5 L368.9,219.5 L369.6,219.5 L370.3,219.5 L371,219.5 L371.7,219.5 L372.4,219.5 L373.1,219.5 L373.8,219.4 L374.5,219.3" fill="none" stroke="#d2d2d5" stroke-width="1.05" stroke-linejoin="round"/>
<path d="M301.2,219.5 L301.2,219.4 L302,219.5 L302.7,219.4 L303.4,219.5 L304.1,219.5 L304.8,219.5 L305.5,219.5 L306.2,219.3 L306.9,219.1 L307.6,219.1 L308.3,219.2 L309,219.3 L309.7,219.2 L310.4,219.3 L311.1,219.5 L311.8,219.4 L312.5,219.1 L313.2,218.6 L313.9,218.2 L314.6,217.8 L315.3,217.2 L316,216.9 L316.7,216.8 L317.4,215.6 L318.2,213.7 L318.9,212.3 L319.6,210.3 L320.3,206.7 L321,203.5 L321.7,200.8 L322.4,196.5 L323.1,190.9 L323.8,186.7 L324.5,181.5 L325.2,173.4 L325.9,167.4 L326.6,165.6 L327.3,162.5 L328,166.8 L328.7,178.2 L329.4,189.7 L330.1,198.4 L330.8,206.1 L331.5,212.4 L332.2,215.7 L332.9,217.8 L333.6,219 L334.4,219.3 L335.1,219.3 L335.8,219.3 L336.5,219.5 L337.2,219.5 L337.9,219.5 L338.6,219.5 L339.3,219.5 L340,219.5 L340.7,219.5 L341.4,219.5 L342.1,219.5 L342.8,219.5 L343.5,219.5 L344.2,219.5 L344.9,219.5 L345.6,219.5 L346.3,219.5 L347,219.5 L347.7,219.5 L348.4,219.5 L349.1,219.3 L349.8,219 L350.6,219 L351.3,219.2 L352,219.3 L352.7,219.5 L353.4,219.5 L354.1,219.5 L354.8,219.5 L355.5,219.4 L356.2,219.3 L356.9,219.5 L357.6,219.5 L358.3,219.4 L359,219.3 L359.7,219.2 L360.4,219.2 L361.1,219.2 L361.8,219.3 L362.5,219.4 L363.2,219.5 L363.9,219.5 L364.6,219.5 L365.3,219.5 L366,219.5 L366.8,219.5 L367.5,219.5 L368.2,219.4 L368.9,219.4 L369.6,219.4 L370.3,219.5 L371,219.5 L371.7,219.5 L372.4,219.5 L373.1,219.5 L373.8,219.5 L374.5,219.5 L374.5,219.5 Z" fill="rgba(110,113,124,0.23)" stroke="none"/>
<path d="M301.2,219.4 L302,219.5 L302.7,219.4 L303.4,219.5 L304.1,219.5 L304.8,219.5 L305.5,219.5 L306.2,219.3 L306.9,219.1 L307.6,219.1 L308.3,219.2 L309,219.3 L309.7,219.2 L310.4,219.3 L311.1,219.5 L311.8,219.4 L312.5,219.1 L313.2,218.6 L313.9,218.2 L314.6,217.8 L315.3,217.2 L316,216.9 L316.7,216.8 L317.4,215.6 L318.2,213.7 L318.9,212.3 L319.6,210.3 L320.3,206.7 L321,203.5 L321.7,200.8 L322.4,196.5 L323.1,190.9 L323.8,186.7 L324.5,181.5 L325.2,173.4 L325.9,167.4 L326.6,165.6 L327.3,162.5 L328,166.8 L328.7,178.2 L329.4,189.7 L330.1,198.4 L330.8,206.1 L331.5,212.4 L332.2,215.7 L332.9,217.8 L333.6,219 L334.4,219.3 L335.1,219.3 L335.8,219.3 L336.5,219.5 L337.2,219.5 L337.9,219.5 L338.6,219.5 L339.3,219.5 L340,219.5 L340.7,219.5 L341.4,219.5 L342.1,219.5 L342.8,219.5 L343.5,219.5 L344.2,219.5 L344.9,219.5 L345.6,219.5 L346.3,219.5 L347,219.5 L347.7,219.5 L348.4,219.5 L349.1,219.3 L349.8,219 L350.6,219 L351.3,219.2 L352,219.3 L352.7,219.5 L353.4,219.5 L354.1,219.5 L354.8,219.5 L355.5,219.4 L356.2,219.3 L356.9,219.5 L357.6,219.5 L358.3,219.4 L359,219.3 L359.7,219.2 L360.4,219.2 L361.1,219.2 L361.8,219.3 L362.5,219.4 L363.2,219.5 L363.9,219.5 L364.6,219.5 L365.3,219.5 L366,219.5 L366.8,219.5 L367.5,219.5 L368.2,219.4 L368.9,219.4 L369.6,219.4 L370.3,219.5 L371,219.5 L371.7,219.5 L372.4,219.5 L373.1,219.5 L373.8,219.5 L374.5,219.5" fill="none" stroke="#4a4f62" stroke-width="1.05" stroke-linejoin="round"/>
<path d="M301.2,219.5 L301.2,219.5 L302,219.5 L302.7,219.4 L303.4,219.4 L304.1,219.3 L304.8,219.3 L305.5,219.4 L306.2,219.4 L306.9,219.3 L307.6,219.3 L308.3,219.5 L309,219.5 L309.7,219.4 L310.4,219.3 L311.1,219.4 L311.8,219.5 L312.5,219.5 L313.2,219.3 L313.9,219.2 L314.6,219.4 L315.3,219.5 L316,219.5 L316.7,219.5 L317.4,219.4 L318.2,219.5 L318.9,219.5 L319.6,219.5 L320.3,219.5 L321,219.5 L321.7,219.5 L322.4,219.5 L323.1,219.4 L323.8,219.4 L324.5,219.5 L325.2,219.5 L325.9,219.5 L326.6,219.5 L327.3,219.5 L328,219.5 L328.7,219.5 L329.4,219.5 L330.1,219.5 L330.8,219.5 L331.5,219.4 L332.2,219.3 L332.9,219.5 L333.6,219.5 L334.4,219.5 L335.1,219.5 L335.8,219.3 L336.5,219.3 L337.2,219.5 L337.9,219.5 L338.6,219.5 L339.3,219.5 L340,219.5 L340.7,219.5 L341.4,219.5 L342.1,219.5 L342.8,219.4 L343.5,219.4 L344.2,219.4 L344.9,219.4 L345.6,219.5 L346.3,219.5 L347,219.4 L347.7,219.1 L348.4,218.5 L349.1,217.7 L349.8,216.6 L350.6,214.6 L351.3,211.5 L352,206.8 L352.7,199.9 L353.4,191.7 L354.1,181.7 L354.8,170.2 L355.5,159.6 L356.2,159.1 L356.9,170.2 L357.6,184.5 L358.3,196.8 L359,205.4 L359.7,210.3 L360.4,213.1 L361.1,216.2 L361.8,218.6 L362.5,219.4 L363.2,219.4 L363.9,219.3 L364.6,219.2 L365.3,219.3 L366,219.5 L366.8,219.5 L367.5,219.5 L368.2,219.5 L368.9,219.3 L369.6,219.3 L370.3,219.5 L371,219.5 L371.7,219.5 L372.4,219.5 L373.1,219.5 L373.8,219.5 L374.5,219.5 L374.5,219.5 Z" fill="rgba(44,75,142,0.27)" stroke="none"/>
<path d="M301.2,219.5 L302,219.5 L302.7,219.4 L303.4,219.4 L304.1,219.3 L304.8,219.3 L305.5,219.4 L306.2,219.4 L306.9,219.3 L307.6,219.3 L308.3,219.5 L309,219.5 L309.7,219.4 L310.4,219.3 L311.1,219.4 L311.8,219.5 L312.5,219.5 L313.2,219.3 L313.9,219.2 L314.6,219.4 L315.3,219.5 L316,219.5 L316.7,219.5 L317.4,219.4 L318.2,219.5 L318.9,219.5 L319.6,219.5 L320.3,219.5 L321,219.5 L321.7,219.5 L322.4,219.5 L323.1,219.4 L323.8,219.4 L324.5,219.5 L325.2,219.5 L325.9,219.5 L326.6,219.5 L327.3,219.5 L328,219.5 L328.7,219.5 L329.4,219.5 L330.1,219.5 L330.8,219.5 L331.5,219.4 L332.2,219.3 L332.9,219.5 L333.6,219.5 L334.4,219.5 L335.1,219.5 L335.8,219.3 L336.5,219.3 L337.2,219.5 L337.9,219.5 L338.6,219.5 L339.3,219.5 L340,219.5 L340.7,219.5 L341.4,219.5 L342.1,219.5 L342.8,219.4 L343.5,219.4 L344.2,219.4 L344.9,219.4 L345.6,219.5 L346.3,219.5 L347,219.4 L347.7,219.1 L348.4,218.5 L349.1,217.7 L349.8,216.6 L350.6,214.6 L351.3,211.5 L352,206.8 L352.7,199.9 L353.4,191.7 L354.1,181.7 L354.8,170.2 L355.5,159.6 L356.2,159.1 L356.9,170.2 L357.6,184.5 L358.3,196.8 L359,205.4 L359.7,210.3 L360.4,213.1 L361.1,216.2 L361.8,218.6 L362.5,219.4 L363.2,219.4 L363.9,219.3 L364.6,219.2 L365.3,219.3 L366,219.5 L366.8,219.5 L367.5,219.5 L368.2,219.5 L368.9,219.3 L369.6,219.3 L370.3,219.5 L371,219.5 L371.7,219.5 L372.4,219.5 L373.1,219.5 L373.8,219.5 L374.5,219.5" fill="none" stroke="#2c4b8e" stroke-width="1.05" stroke-linejoin="round"/>
<path d="M301.2,219.5 L301.2,219.5 L302,219.5 L302.7,219.5 L303.4,219.4 L304.1,219.2 L304.8,219.4 L305.5,219.5 L306.2,219.5 L306.9,219.5 L307.6,219.5 L308.3,219.5 L309,219.5 L309.7,219.4 L310.4,219.4 L311.1,219.5 L311.8,219.5 L312.5,219.3 L313.2,219.4 L313.9,219.4 L314.6,219.5 L315.3,219.5 L316,219.5 L316.7,219.5 L317.4,219.5 L318.2,219.4 L318.9,219.3 L319.6,219.5 L320.3,219.5 L321,219.4 L321.7,219.4 L322.4,219.5 L323.1,219.5 L323.8,219.5 L324.5,219.5 L325.2,219.5 L325.9,219.5 L326.6,219.4 L327.3,219.5 L328,219.5 L328.7,219.5 L329.4,219.5 L330.1,219.4 L330.8,219.4 L331.5,219.5 L332.2,219.5 L332.9,219.5 L333.6,219.5 L334.4,219.5 L335.1,219.5 L335.8,219.4 L336.5,219.5 L337.2,219.5 L337.9,219.4 L338.6,219.4 L339.3,219.5 L340,219.5 L340.7,219.4 L341.4,219.3 L342.1,219.4 L342.8,219.4 L343.5,219.4 L344.2,219.3 L344.9,219.4 L345.6,219.3 L346.3,219.1 L347,218.9 L347.7,218.8 L348.4,218.5 L349.1,217.8 L349.8,216.3 L350.6,214.6 L351.3,213 L352,209.3 L352.7,203.1 L353.4,195.5 L354.1,185.9 L354.8,176.3 L355.5,170.5 L356.2,173.7 L356.9,181.5 L357.6,190.4 L358.3,199.1 L359,205.3 L359.7,210.2 L360.4,213.7 L361.1,216.1 L361.8,217.7 L362.5,218.6 L363.2,219 L363.9,219.1 L364.6,219.2 L365.3,219.4 L366,219.5 L366.8,219.5 L367.5,219.5 L368.2,219.5 L368.9,219.3 L369.6,219.2 L370.3,219.4 L371,219.5 L371.7,219.5 L372.4,219.5 L373.1,219.4 L373.8,219.3 L374.5,219.1 L374.5,219.5 Z" fill="rgba(192,24,63,0.36)" stroke="none"/>
<path d="M301.2,219.5 L302,219.5 L302.7,219.5 L303.4,219.4 L304.1,219.2 L304.8,219.4 L305.5,219.5 L306.2,219.5 L306.9,219.5 L307.6,219.5 L308.3,219.5 L309,219.5 L309.7,219.4 L310.4,219.4 L311.1,219.5 L311.8,219.5 L312.5,219.3 L313.2,219.4 L313.9,219.4 L314.6,219.5 L315.3,219.5 L316,219.5 L316.7,219.5 L317.4,219.5 L318.2,219.4 L318.9,219.3 L319.6,219.5 L320.3,219.5 L321,219.4 L321.7,219.4 L322.4,219.5 L323.1,219.5 L323.8,219.5 L324.5,219.5 L325.2,219.5 L325.9,219.5 L326.6,219.4 L327.3,219.5 L328,219.5 L328.7,219.5 L329.4,219.5 L330.1,219.4 L330.8,219.4 L331.5,219.5 L332.2,219.5 L332.9,219.5 L333.6,219.5 L334.4,219.5 L335.1,219.5 L335.8,219.4 L336.5,219.5 L337.2,219.5 L337.9,219.4 L338.6,219.4 L339.3,219.5 L340,219.5 L340.7,219.4 L341.4,219.3 L342.1,219.4 L342.8,219.4 L343.5,219.4 L344.2,219.3 L344.9,219.4 L345.6,219.3 L346.3,219.1 L347,218.9 L347.7,218.8 L348.4,218.5 L349.1,217.8 L349.8,216.3 L350.6,214.6 L351.3,213 L352,209.3 L352.7,203.1 L353.4,195.5 L354.1,185.9 L354.8,176.3 L355.5,170.5 L356.2,173.7 L356.9,181.5 L357.6,190.4 L358.3,199.1 L359,205.3 L359.7,210.2 L360.4,213.7 L361.1,216.1 L361.8,217.7 L362.5,218.6 L363.2,219 L363.9,219.1 L364.6,219.2 L365.3,219.4 L366,219.5 L366.8,219.5 L367.5,219.5 L368.2,219.5 L368.9,219.3 L369.6,219.2 L370.3,219.4 L371,219.5 L371.7,219.5 L372.4,219.5 L373.1,219.4 L373.8,219.3 L374.5,219.1" fill="none" stroke="#c0183f" stroke-width="1.05" stroke-linejoin="round"/>
<rect x="301.2" y="146.2" width="73.2" height="73.2" fill="none" stroke="#000" stroke-width="1.1"/>
<line x1="298.6" y1="219.5" x2="301.2" y2="219.5" stroke="#000" stroke-width="0.9"/>
<text x="296.6" y="221.7" font-size="6.2" stroke="#000" stroke-width="0.1" text-anchor="end">0</text>
<line x1="299.9" y1="216.2" x2="301.2" y2="216.2" stroke="#000" stroke-width="0.6"/>
<line x1="299.9" y1="213" x2="301.2" y2="213" stroke="#000" stroke-width="0.6"/>
<line x1="299.9" y1="209.8" x2="301.2" y2="209.8" stroke="#000" stroke-width="0.6"/>
<line x1="299.9" y1="206.5" x2="301.2" y2="206.5" stroke="#000" stroke-width="0.6"/>
<line x1="298.6" y1="203.2" x2="301.2" y2="203.2" stroke="#000" stroke-width="0.9"/>
<text x="296.6" y="205.4" font-size="6.2" stroke="#000" stroke-width="0.1" text-anchor="end">50</text>
<line x1="299.9" y1="200" x2="301.2" y2="200" stroke="#000" stroke-width="0.6"/>
<line x1="299.9" y1="196.8" x2="301.2" y2="196.8" stroke="#000" stroke-width="0.6"/>
<line x1="299.9" y1="193.5" x2="301.2" y2="193.5" stroke="#000" stroke-width="0.6"/>
<line x1="299.9" y1="190.2" x2="301.2" y2="190.2" stroke="#000" stroke-width="0.6"/>
<line x1="298.6" y1="187" x2="301.2" y2="187" stroke="#000" stroke-width="0.9"/>
<text x="296.6" y="189.2" font-size="6.2" stroke="#000" stroke-width="0.1" text-anchor="end">100</text>
<line x1="299.9" y1="183.8" x2="301.2" y2="183.8" stroke="#000" stroke-width="0.6"/>
<line x1="299.9" y1="180.5" x2="301.2" y2="180.5" stroke="#000" stroke-width="0.6"/>
<line x1="299.9" y1="177.2" x2="301.2" y2="177.2" stroke="#000" stroke-width="0.6"/>
<line x1="299.9" y1="174" x2="301.2" y2="174" stroke="#000" stroke-width="0.6"/>
<line x1="298.6" y1="170.8" x2="301.2" y2="170.8" stroke="#000" stroke-width="0.9"/>
<text x="296.6" y="172.9" font-size="6.2" stroke="#000" stroke-width="0.1" text-anchor="end">150</text>
<line x1="299.9" y1="167.5" x2="301.2" y2="167.5" stroke="#000" stroke-width="0.6"/>
<line x1="299.9" y1="164.2" x2="301.2" y2="164.2" stroke="#000" stroke-width="0.6"/>
<line x1="299.9" y1="161" x2="301.2" y2="161" stroke="#000" stroke-width="0.6"/>
<line x1="299.9" y1="157.8" x2="301.2" y2="157.8" stroke="#000" stroke-width="0.6"/>
<line x1="298.6" y1="154.5" x2="301.2" y2="154.5" stroke="#000" stroke-width="0.9"/>
<text x="296.6" y="156.7" font-size="6.2" stroke="#000" stroke-width="0.1" text-anchor="end">200</text>
<line x1="299.9" y1="151.2" x2="301.2" y2="151.2" stroke="#000" stroke-width="0.6"/>
<line x1="299.9" y1="148" x2="301.2" y2="148" stroke="#000" stroke-width="0.6"/>
<line x1="308" y1="219.5" x2="308" y2="221.7" stroke="#000" stroke-width="0.9"/>
<line x1="312.4" y1="219.5" x2="312.4" y2="220.7" stroke="#000" stroke-width="0.6"/>
<line x1="315" y1="219.5" x2="315" y2="220.7" stroke="#000" stroke-width="0.6"/>
<line x1="316.9" y1="219.5" x2="316.9" y2="220.7" stroke="#000" stroke-width="0.6"/>
<line x1="318.3" y1="219.5" x2="318.3" y2="220.7" stroke="#000" stroke-width="0.6"/>
<line x1="319.4" y1="219.5" x2="319.4" y2="220.7" stroke="#000" stroke-width="0.6"/>
<line x1="320.4" y1="219.5" x2="320.4" y2="220.7" stroke="#000" stroke-width="0.6"/>
<line x1="321.3" y1="219.5" x2="321.3" y2="220.7" stroke="#000" stroke-width="0.6"/>
<line x1="322" y1="219.5" x2="322" y2="220.7" stroke="#000" stroke-width="0.6"/>
<text x="308.4" y="230.8" font-size="6.6" stroke="#000" stroke-width="0.1" text-anchor="middle">10</text>
<text x="312.3" y="228.2" font-size="4.6" stroke="#000" stroke-width="0.1">1</text>
<line x1="322.7" y1="219.5" x2="322.7" y2="221.7" stroke="#000" stroke-width="0.9"/>
<line x1="327.1" y1="219.5" x2="327.1" y2="220.7" stroke="#000" stroke-width="0.6"/>
<line x1="329.7" y1="219.5" x2="329.7" y2="220.7" stroke="#000" stroke-width="0.6"/>
<line x1="331.6" y1="219.5" x2="331.6" y2="220.7" stroke="#000" stroke-width="0.6"/>
<line x1="333" y1="219.5" x2="333" y2="220.7" stroke="#000" stroke-width="0.6"/>
<line x1="334.1" y1="219.5" x2="334.1" y2="220.7" stroke="#000" stroke-width="0.6"/>
<line x1="335.1" y1="219.5" x2="335.1" y2="220.7" stroke="#000" stroke-width="0.6"/>
<line x1="336" y1="219.5" x2="336" y2="220.7" stroke="#000" stroke-width="0.6"/>
<line x1="336.7" y1="219.5" x2="336.7" y2="220.7" stroke="#000" stroke-width="0.6"/>
<text x="323.1" y="230.8" font-size="6.6" stroke="#000" stroke-width="0.1" text-anchor="middle">10</text>
<text x="327" y="228.2" font-size="4.6" stroke="#000" stroke-width="0.1">2</text>
<line x1="337.4" y1="219.5" x2="337.4" y2="221.7" stroke="#000" stroke-width="0.9"/>
<line x1="341.8" y1="219.5" x2="341.8" y2="220.7" stroke="#000" stroke-width="0.6"/>
<line x1="344.4" y1="219.5" x2="344.4" y2="220.7" stroke="#000" stroke-width="0.6"/>
<line x1="346.3" y1="219.5" x2="346.3" y2="220.7" stroke="#000" stroke-width="0.6"/>
<line x1="347.7" y1="219.5" x2="347.7" y2="220.7" stroke="#000" stroke-width="0.6"/>
<line x1="348.8" y1="219.5" x2="348.8" y2="220.7" stroke="#000" stroke-width="0.6"/>
<line x1="349.8" y1="219.5" x2="349.8" y2="220.7" stroke="#000" stroke-width="0.6"/>
<line x1="350.7" y1="219.5" x2="350.7" y2="220.7" stroke="#000" stroke-width="0.6"/>
<line x1="351.4" y1="219.5" x2="351.4" y2="220.7" stroke="#000" stroke-width="0.6"/>
<text x="337.8" y="230.8" font-size="6.6" stroke="#000" stroke-width="0.1" text-anchor="middle">10</text>
<text x="341.7" y="228.2" font-size="4.6" stroke="#000" stroke-width="0.1">3</text>
<line x1="352.1" y1="219.5" x2="352.1" y2="221.7" stroke="#000" stroke-width="0.9"/>
<line x1="356.5" y1="219.5" x2="356.5" y2="220.7" stroke="#000" stroke-width="0.6"/>
<line x1="359.1" y1="219.5" x2="359.1" y2="220.7" stroke="#000" stroke-width="0.6"/>
<line x1="361" y1="219.5" x2="361" y2="220.7" stroke="#000" stroke-width="0.6"/>
<line x1="362.4" y1="219.5" x2="362.4" y2="220.7" stroke="#000" stroke-width="0.6"/>
<line x1="363.5" y1="219.5" x2="363.5" y2="220.7" stroke="#000" stroke-width="0.6"/>
<line x1="364.5" y1="219.5" x2="364.5" y2="220.7" stroke="#000" stroke-width="0.6"/>
<line x1="365.4" y1="219.5" x2="365.4" y2="220.7" stroke="#000" stroke-width="0.6"/>
<line x1="366.1" y1="219.5" x2="366.1" y2="220.7" stroke="#000" stroke-width="0.6"/>
<text x="352.5" y="230.8" font-size="6.6" stroke="#000" stroke-width="0.1" text-anchor="middle">10</text>
<text x="356.4" y="228.2" font-size="4.6" stroke="#000" stroke-width="0.1">4</text>
<line x1="366.8" y1="219.5" x2="366.8" y2="221.7" stroke="#000" stroke-width="0.9"/>
<line x1="371.2" y1="219.5" x2="371.2" y2="220.7" stroke="#000" stroke-width="0.6"/>
<line x1="373.8" y1="219.5" x2="373.8" y2="220.7" stroke="#000" stroke-width="0.6"/>
<text x="367.2" y="230.8" font-size="6.6" stroke="#000" stroke-width="0.1" text-anchor="middle">10</text>
<text x="371.1" y="228.2" font-size="4.6" stroke="#000" stroke-width="0.1">5</text>
<line x1="413" y1="142" x2="413" y2="213.2" stroke="#000" stroke-width="1.1"/>
<line x1="412.5" y1="212.8" x2="512.5" y2="212.8" stroke="#000" stroke-width="1.1"/>
<line x1="410" y1="212.8" x2="413" y2="212.8" stroke="#000" stroke-width="0.9"/>
<text x="408.4" y="214.9" font-size="6.2" stroke="#000" stroke-width="0.1" text-anchor="end">0</text>
<line x1="410" y1="203.1" x2="413" y2="203.1" stroke="#000" stroke-width="0.9"/>
<text x="408.4" y="205.3" font-size="6.2" stroke="#000" stroke-width="0.1" text-anchor="end">40</text>
<line x1="410" y1="193.5" x2="413" y2="193.5" stroke="#000" stroke-width="0.9"/>
<text x="408.4" y="195.7" font-size="6.2" stroke="#000" stroke-width="0.1" text-anchor="end">80</text>
<line x1="410" y1="183.8" x2="413" y2="183.8" stroke="#000" stroke-width="0.9"/>
<text x="408.4" y="186" font-size="6.2" stroke="#000" stroke-width="0.1" text-anchor="end">120</text>
<line x1="410" y1="174.2" x2="413" y2="174.2" stroke="#000" stroke-width="0.9"/>
<text x="408.4" y="176.4" font-size="6.2" stroke="#000" stroke-width="0.1" text-anchor="end">160</text>
<line x1="410" y1="164.6" x2="413" y2="164.6" stroke="#000" stroke-width="0.9"/>
<text x="408.4" y="166.8" font-size="6.2" stroke="#000" stroke-width="0.1" text-anchor="end">200</text>
<line x1="410" y1="154.9" x2="413" y2="154.9" stroke="#000" stroke-width="0.9"/>
<text x="408.4" y="157.1" font-size="6.2" stroke="#000" stroke-width="0.1" text-anchor="end">240</text>
<line x1="410" y1="145.3" x2="413" y2="145.3" stroke="#000" stroke-width="0.9"/>
<text x="408.4" y="147.5" font-size="6.2" stroke="#000" stroke-width="0.1" text-anchor="end">280</text>
<line x1="418.8" y1="212.8" x2="418.8" y2="215.2" stroke="#000" stroke-width="0.9"/>
<text x="418.4" y="225.1" font-size="6.4" stroke="#000" stroke-width="0.1" text-anchor="middle">-3</text>
<line x1="437" y1="212.8" x2="437" y2="215.2" stroke="#000" stroke-width="0.9"/>
<text x="436.7" y="225.1" font-size="6.4" stroke="#000" stroke-width="0.1" text-anchor="middle">-2</text>
<line x1="455.2" y1="212.8" x2="455.2" y2="215.2" stroke="#000" stroke-width="0.9"/>
<text x="454.9" y="225.1" font-size="6.4" stroke="#000" stroke-width="0.1" text-anchor="middle">-1</text>
<line x1="473.5" y1="212.8" x2="473.5" y2="215.2" stroke="#000" stroke-width="0.9"/>
<text x="473.2" y="225.1" font-size="6.4" stroke="#000" stroke-width="0.1" text-anchor="middle">0</text>
<line x1="491.8" y1="212.8" x2="491.8" y2="215.2" stroke="#000" stroke-width="0.9"/>
<text x="491.4" y="225.1" font-size="6.4" stroke="#000" stroke-width="0.1" text-anchor="middle">1</text>
<line x1="510" y1="212.8" x2="510" y2="215.2" stroke="#000" stroke-width="0.9"/>
<text x="509.7" y="225.1" font-size="6.4" stroke="#000" stroke-width="0.1" text-anchor="middle">2</text>
<text x="443.8" y="236.6" font-size="7.2" stroke="#000" stroke-width="0.25" textLength="15.4" lengthAdjust="spacingAndGlyphs">Bir log</text>
<text x="459.6" y="239.4" font-size="4.6" stroke="#000" stroke-width="0.15" textLength="3.9" lengthAdjust="spacingAndGlyphs">10</text>
<text x="466.4" y="236.6" font-size="7.2" stroke="#000" stroke-width="0.25" textLength="14.4" lengthAdjust="spacingAndGlyphs">(µM)</text>
<text transform="translate(391,177.4) rotate(-90)" x="0" y="0" font-size="8.2" text-anchor="middle" textLength="59" lengthAdjust="spacingAndGlyphs" stroke="#000" stroke-width="0.26">Survival (% of control)</text>
<polyline points="418.8,151.3 440.7,170.6 453.5,180.7 466.2,197.8 479,203.1 491.8,204.3" fill="none" stroke="#6db33f" stroke-width="1.3" stroke-linejoin="round"/>
<circle cx="418.8" cy="151.3" r="1.35" fill="#6db33f"/>
<circle cx="440.7" cy="170.6" r="1.35" fill="#6db33f"/>
<circle cx="453.5" cy="180.7" r="1.35" fill="#6db33f"/>
<circle cx="466.2" cy="197.8" r="1.35" fill="#6db33f"/>
<circle cx="479" cy="203.1" r="1.35" fill="#6db33f"/>
<circle cx="491.8" cy="204.3" r="1.35" fill="#6db33f"/>
<polyline points="418.8,162.6 440.7,176.1 453.5,191.1 466.2,203.1 479,204.3 491.8,205.5" fill="none" stroke="#562a7e" stroke-width="1.3" stroke-linejoin="round"/>
<circle cx="418.8" cy="162.6" r="1.35" fill="#562a7e"/>
<circle cx="440.7" cy="176.1" r="1.35" fill="#562a7e"/>
<circle cx="453.5" cy="191.1" r="1.35" fill="#562a7e"/>
<circle cx="466.2" cy="203.1" r="1.35" fill="#562a7e"/>
<circle cx="479" cy="204.3" r="1.35" fill="#562a7e"/>
<circle cx="491.8" cy="205.5" r="1.35" fill="#562a7e"/>
<polyline points="418.8,188.7 440.7,190.6 453.5,195.4 466.2,202.1 479,203.6 491.8,204.3" fill="none" stroke="#2b4c90" stroke-width="1.3" stroke-linejoin="round"/>
<circle cx="418.8" cy="188.7" r="1.35" fill="#2b4c90"/>
<circle cx="440.7" cy="190.6" r="1.35" fill="#2b4c90"/>
<circle cx="453.5" cy="195.4" r="1.35" fill="#2b4c90"/>
<circle cx="466.2" cy="202.1" r="1.35" fill="#2b4c90"/>
<circle cx="479" cy="203.6" r="1.35" fill="#2b4c90"/>
<circle cx="491.8" cy="204.3" r="1.35" fill="#2b4c90"/>
<polyline points="418.8,187.9 440.7,192.3 453.5,201.9 466.2,204.8 479,206 491.8,206.7" fill="none" stroke="#b8143d" stroke-width="1.3" stroke-linejoin="round"/>
<circle cx="418.8" cy="187.9" r="1.35" fill="#b8143d"/>
<circle cx="440.7" cy="192.3" r="1.35" fill="#b8143d"/>
<circle cx="453.5" cy="201.9" r="1.35" fill="#b8143d"/>
<circle cx="466.2" cy="204.8" r="1.35" fill="#b8143d"/>
<circle cx="479" cy="206" r="1.35" fill="#b8143d"/>
<circle cx="491.8" cy="206.7" r="1.35" fill="#b8143d"/>
<text x="285" y="252.5" font-size="11.5" font-weight="bold">I</text>
<text x="302" y="249.5" font-size="8.9" stroke="#000" stroke-width="0.15" textLength="31" lengthAdjust="spacingAndGlyphs">Patient 7</text>
<path d="M301.2,325 L301.2,325 L302,324.7 L302.7,324.6 L303.4,324.7 L304.1,325 L304.8,325 L305.5,325 L306.2,324.9 L306.9,324.9 L307.6,324.8 L308.3,324.8 L309,324.9 L309.7,325 L310.4,324.9 L311.1,324.9 L311.8,325 L312.5,324.9 L313.2,324.6 L314,324.5 L314.7,324.5 L315.4,324.5 L316.1,324.2 L316.8,324 L317.5,323.5 L318.2,322.7 L318.9,322.6 L319.6,322.2 L320.3,320.9 L321,319 L321.7,316.9 L322.4,315.3 L323.1,313.1 L323.8,309.2 L324.5,304.7 L325.2,299.9 L326,293.4 L326.7,286.9 L327.4,281.5 L328.1,275.5 L328.8,270 L329.5,267.3 L330.2,269.4 L330.9,278.3 L331.6,289.3 L332.3,298.3 L333,306.1 L333.7,312.2 L334.4,316.7 L335.1,320.3 L335.8,322 L336.5,322.8 L337.2,323.8 L338,324.7 L338.7,325 L339.4,325 L340.1,325 L340.8,325 L341.5,325 L342.2,325 L342.9,325 L343.6,325 L344.3,325 L345,325 L345.7,324.8 L346.4,324.9 L347.1,325 L347.8,325 L348.5,325 L349.2,324.8 L350,324.8 L350.7,324.8 L351.4,324.8 L352.1,324.9 L352.8,324.9 L353.5,324.9 L354.2,325 L354.9,325 L355.6,325 L356.3,325 L357,325 L357.7,325 L358.4,325 L359.1,325 L359.8,325 L360.5,325 L361.2,325 L362,325 L362.7,325 L363.4,324.9 L364.1,324.9 L364.8,324.9 L365.5,325 L366.2,325 L366.9,325 L367.6,325 L368.3,325 L369,325 L369.7,325 L370.4,325 L371.1,325 L371.8,324.8 L372.5,324.9 L373.2,325 L373.2,325 Z" fill="rgba(150,150,156,0.22)" stroke="none"/>
<path d="M301.2,325 L302,324.7 L302.7,324.6 L303.4,324.7 L304.1,325 L304.8,325 L305.5,325 L306.2,324.9 L306.9,324.9 L307.6,324.8 L308.3,324.8 L309,324.9 L309.7,325 L310.4,324.9 L311.1,324.9 L311.8,325 L312.5,324.9 L313.2,324.6 L314,324.5 L314.7,324.5 L315.4,324.5 L316.1,324.2 L316.8,324 L317.5,323.5 L318.2,322.7 L318.9,322.6 L319.6,322.2 L320.3,320.9 L321,319 L321.7,316.9 L322.4,315.3 L323.1,313.1 L323.8,309.2 L324.5,304.7 L325.2,299.9 L326,293.4 L326.7,286.9 L327.4,281.5 L328.1,275.5 L328.8,270 L329.5,267.3 L330.2,269.4 L330.9,278.3 L331.6,289.3 L332.3,298.3 L333,306.1 L333.7,312.2 L334.4,316.7 L335.1,320.3 L335.8,322 L336.5,322.8 L337.2,323.8 L338,324.7 L338.7,325 L339.4,325 L340.1,325 L340.8,325 L341.5,325 L342.2,325 L342.9,325 L343.6,325 L344.3,325 L345,325 L345.7,324.8 L346.4,324.9 L347.1,325 L347.8,325 L348.5,325 L349.2,324.8 L350,324.8 L350.7,324.8 L351.4,324.8 L352.1,324.9 L352.8,324.9 L353.5,324.9 L354.2,325 L354.9,325 L355.6,325 L356.3,325 L357,325 L357.7,325 L358.4,325 L359.1,325 L359.8,325 L360.5,325 L361.2,325 L362,325 L362.7,325 L363.4,324.9 L364.1,324.9 L364.8,324.9 L365.5,325 L366.2,325 L366.9,325 L367.6,325 L368.3,325 L369,325 L369.7,325 L370.4,325 L371.1,325 L371.8,324.8 L372.5,324.9 L373.2,325" fill="none" stroke="#d2d2d5" stroke-width="1.05" stroke-linejoin="round"/>
<path d="M301.2,325 L301.2,324.8 L302,324.8 L302.7,324.9 L303.4,325 L304.1,325 L304.8,325 L305.5,325 L306.2,325 L306.9,325 L307.6,325 L308.3,325 L309,325 L309.7,325 L310.4,324.9 L311.1,325 L311.8,325 L312.5,325 L313.2,325 L314,324.9 L314.7,324.8 L315.4,324.7 L316.1,324.6 L316.8,324.4 L317.5,324 L318.2,323.6 L318.9,322.8 L319.6,322 L320.3,321.6 L321,320.2 L321.7,317.5 L322.4,314.2 L323.1,310.6 L323.8,308 L324.5,304.7 L325.2,298.1 L326,291.4 L326.7,286.7 L327.4,281.6 L328.1,275.3 L328.8,268.1 L329.5,263.3 L330.2,266.7 L330.9,276.7 L331.6,288 L332.3,298.6 L333,308.6 L333.7,315.8 L334.4,319 L335.1,321.1 L335.8,322.9 L336.5,324 L337.2,324.6 L338,324.7 L338.7,325 L339.4,325 L340.1,325 L340.8,324.8 L341.5,324.9 L342.2,325 L342.9,324.9 L343.6,324.9 L344.3,324.9 L345,325 L345.7,325 L346.4,325 L347.1,324.9 L347.8,324.7 L348.5,324.6 L349.2,324.7 L350,324.9 L350.7,324.9 L351.4,324.9 L352.1,324.9 L352.8,324.9 L353.5,325 L354.2,325 L354.9,324.9 L355.6,324.8 L356.3,324.8 L357,324.8 L357.7,324.9 L358.4,325 L359.1,325 L359.8,325 L360.5,324.8 L361.2,324.8 L362,325 L362.7,325 L363.4,324.9 L364.1,325 L364.8,325 L365.5,324.9 L366.2,324.9 L366.9,324.8 L367.6,324.9 L368.3,325 L369,324.9 L369.7,324.9 L370.4,325 L371.1,324.9 L371.8,324.9 L372.5,325 L373.2,325 L373.2,325 Z" fill="rgba(110,113,124,0.23)" stroke="none"/>
<path d="M301.2,324.8 L302,324.8 L302.7,324.9 L303.4,325 L304.1,325 L304.8,325 L305.5,325 L306.2,325 L306.9,325 L307.6,325 L308.3,325 L309,325 L309.7,325 L310.4,324.9 L311.1,325 L311.8,325 L312.5,325 L313.2,325 L314,324.9 L314.7,324.8 L315.4,324.7 L316.1,324.6 L316.8,324.4 L317.5,324 L318.2,323.6 L318.9,322.8 L319.6,322 L320.3,321.6 L321,320.2 L321.7,317.5 L322.4,314.2 L323.1,310.6 L323.8,308 L324.5,304.7 L325.2,298.1 L326,291.4 L326.7,286.7 L327.4,281.6 L328.1,275.3 L328.8,268.1 L329.5,263.3 L330.2,266.7 L330.9,276.7 L331.6,288 L332.3,298.6 L333,308.6 L333.7,315.8 L334.4,319 L335.1,321.1 L335.8,322.9 L336.5,324 L337.2,324.6 L338,324.7 L338.7,325 L339.4,325 L340.1,325 L340.8,324.8 L341.5,324.9 L342.2,325 L342.9,324.9 L343.6,324.9 L344.3,324.9 L345,325 L345.7,325 L346.4,325 L347.1,324.9 L347.8,324.7 L348.5,324.6 L349.2,324.7 L350,324.9 L350.7,324.9 L351.4,324.9 L352.1,324.9 L352.8,324.9 L353.5,325 L354.2,325 L354.9,324.9 L355.6,324.8 L356.3,324.8 L357,324.8 L357.7,324.9 L358.4,325 L359.1,325 L359.8,325 L360.5,324.8 L361.2,324.8 L362,325 L362.7,325 L363.4,324.9 L364.1,325 L364.8,325 L365.5,324.9 L366.2,324.9 L366.9,324.8 L367.6,324.9 L368.3,325 L369,324.9 L369.7,324.9 L370.4,325 L371.1,324.9 L371.8,324.9 L372.5,325 L373.2,325" fill="none" stroke="#4a4f62" stroke-width="1.05" stroke-linejoin="round"/>
<path d="M301.2,325 L301.2,325 L302,325 L302.7,325 L303.4,325 L304.1,325 L304.8,325 L305.5,325 L306.2,325 L306.9,324.9 L307.6,324.9 L308.3,325 L309,325 L309.7,325 L310.4,325 L311.1,325 L311.8,325 L312.5,325 L313.2,325 L314,325 L314.7,325 L315.4,325 L316.1,325 L316.8,325 L317.5,325 L318.2,324.9 L318.9,325 L319.6,325 L320.3,324.9 L321,325 L321.7,325 L322.4,325 L323.1,325 L323.8,325 L324.5,325 L325.2,324.9 L326,324.8 L326.7,324.8 L327.4,324.7 L328.1,324.7 L328.8,324.7 L329.5,324.9 L330.2,325 L330.9,325 L331.6,325 L332.3,325 L333,324.9 L333.7,324.6 L334.4,324.3 L335.1,324.2 L335.8,324 L336.5,323.8 L337.2,323.5 L338,322.7 L338.7,321.9 L339.4,321.1 L340.1,320.4 L340.8,319.4 L341.5,317.5 L342.2,315.2 L342.9,313.5 L343.6,312.9 L344.3,312.3 L345,310.7 L345.7,310.6 L346.4,311.3 L347.1,311.7 L347.8,311.1 L348.5,307 L349.2,299.7 L350,291.6 L350.7,283.4 L351.4,275.3 L352.1,268.2 L352.8,272.8 L353.5,284.2 L354.2,295.3 L354.9,304.5 L355.6,312 L356.3,317.1 L357,320.4 L357.7,322.7 L358.4,324.1 L359.1,324.7 L359.8,325 L360.5,325 L361.2,325 L362,325 L362.7,325 L363.4,325 L364.1,324.9 L364.8,324.9 L365.5,324.9 L366.2,325 L366.9,325 L367.6,325 L368.3,325 L369,325 L369.7,324.9 L370.4,324.8 L371.1,324.9 L371.8,325 L372.5,325 L373.2,325 L373.2,325 Z" fill="rgba(44,75,142,0.27)" stroke="none"/>
<path d="M301.2,325 L302,325 L302.7,325 L303.4,325 L304.1,325 L304.8,325 L305.5,325 L306.2,325 L306.9,324.9 L307.6,324.9 L308.3,325 L309,325 L309.7,325 L310.4,325 L311.1,325 L311.8,325 L312.5,325 L313.2,325 L314,325 L314.7,325 L315.4,325 L316.1,325 L316.8,325 L317.5,325 L318.2,324.9 L318.9,325 L319.6,325 L320.3,324.9 L321,325 L321.7,325 L322.4,325 L323.1,325 L323.8,325 L324.5,325 L325.2,324.9 L326,324.8 L326.7,324.8 L327.4,324.7 L328.1,324.7 L328.8,324.7 L329.5,324.9 L330.2,325 L330.9,325 L331.6,325 L332.3,325 L333,324.9 L333.7,324.6 L334.4,324.3 L335.1,324.2 L335.8,324 L336.5,323.8 L337.2,323.5 L338,322.7 L338.7,321.9 L339.4,321.1 L340.1,320.4 L340.8,319.4 L341.5,317.5 L342.2,315.2 L342.9,313.5 L343.6,312.9 L344.3,312.3 L345,310.7 L345.7,310.6 L346.4,311.3 L347.1,311.7 L347.8,311.1 L348.5,307 L349.2,299.7 L350,291.6 L350.7,283.4 L351.4,275.3 L352.1,268.2 L352.8,272.8 L353.5,284.2 L354.2,295.3 L354.9,304.5 L355.6,312 L356.3,317.1 L357,320.4 L357.7,322.7 L358.4,324.1 L359.1,324.7 L359.8,325 L360.5,325 L361.2,325 L362,325 L362.7,325 L363.4,325 L364.1,324.9 L364.8,324.9 L365.5,324.9 L366.2,325 L366.9,325 L367.6,325 L368.3,325 L369,325 L369.7,324.9 L370.4,324.8 L371.1,324.9 L371.8,325 L372.5,325 L373.2,325" fill="none" stroke="#2c4b8e" stroke-width="1.05" stroke-linejoin="round"/>
<path d="M301.2,325 L301.2,324.9 L302,325 L302.7,325 L303.4,325 L304.1,325 L304.8,324.9 L305.5,324.9 L306.2,325 L306.9,325 L307.6,325 L308.3,324.9 L309,325 L309.7,325 L310.4,324.9 L311.1,324.9 L311.8,324.9 L312.5,324.9 L313.2,324.9 L314,325 L314.7,325 L315.4,325 L316.1,324.9 L316.8,324.8 L317.5,324.8 L318.2,324.8 L318.9,324.8 L319.6,325 L320.3,325 L321,325 L321.7,325 L322.4,325 L323.1,325 L323.8,324.9 L324.5,324.9 L325.2,325 L326,325 L326.7,325 L327.4,325 L328.1,325 L328.8,325 L329.5,325 L330.2,325 L330.9,325 L331.6,325 L332.3,325 L333,325 L333.7,324.9 L334.4,324.9 L335.1,324.8 L335.8,324.6 L336.5,324.1 L337.2,323.8 L338,323.9 L338.7,323.9 L339.4,323.4 L340.1,322.8 L340.8,322 L341.5,321 L342.2,319.6 L342.9,318 L343.6,316.5 L344.3,315 L345,313.3 L345.7,311.4 L346.4,311.1 L347.1,310.9 L347.8,309.3 L348.5,305.9 L349.2,300.4 L350,293.1 L350.7,283.9 L351.4,273.2 L352.1,265.4 L352.8,271 L353.5,282.1 L354.2,293.9 L354.9,305.1 L355.6,313.5 L356.3,318.6 L357,321.2 L357.7,322.8 L358.4,323.7 L359.1,324.1 L359.8,324.5 L360.5,324.9 L361.2,325 L362,325 L362.7,325 L363.4,325 L364.1,325 L364.8,324.9 L365.5,325 L366.2,325 L366.9,325 L367.6,325 L368.3,325 L369,325 L369.7,325 L370.4,325 L371.1,325 L371.8,325 L372.5,325 L373.2,324.8 L373.2,325 Z" fill="rgba(192,24,63,0.36)" stroke="none"/>
<path d="M301.2,324.9 L302,325 L302.7,325 L303.4,325 L304.1,325 L304.8,324.9 L305.5,324.9 L306.2,325 L306.9,325 L307.6,325 L308.3,324.9 L309,325 L309.7,325 L310.4,324.9 L311.1,324.9 L311.8,324.9 L312.5,324.9 L313.2,324.9 L314,325 L314.7,325 L315.4,325 L316.1,324.9 L316.8,324.8 L317.5,324.8 L318.2,324.8 L318.9,324.8 L319.6,325 L320.3,325 L321,325 L321.7,325 L322.4,325 L323.1,325 L323.8,324.9 L324.5,324.9 L325.2,325 L326,325 L326.7,325 L327.4,325 L328.1,325 L328.8,325 L329.5,325 L330.2,325 L330.9,325 L331.6,325 L332.3,325 L333,325 L333.7,324.9 L334.4,324.9 L335.1,324.8 L335.8,324.6 L336.5,324.1 L337.2,323.8 L338,323.9 L338.7,323.9 L339.4,323.4 L340.1,322.8 L340.8,322 L341.5,321 L342.2,319.6 L342.9,318 L343.6,316.5 L344.3,315 L345,313.3 L345.7,311.4 L346.4,311.1 L347.1,310.9 L347.8,309.3 L348.5,305.9 L349.2,300.4 L350,293.1 L350.7,283.9 L351.4,273.2 L352.1,265.4 L352.8,271 L353.5,282.1 L354.2,293.9 L354.9,305.1 L355.6,313.5 L356.3,318.6 L357,321.2 L357.7,322.8 L358.4,323.7 L359.1,324.1 L359.8,324.5 L360.5,324.9 L361.2,325 L362,325 L362.7,325 L363.4,325 L364.1,325 L364.8,324.9 L365.5,325 L366.2,325 L366.9,325 L367.6,325 L368.3,325 L369,325 L369.7,325 L370.4,325 L371.1,325 L371.8,325 L372.5,325 L373.2,324.8" fill="none" stroke="#c0183f" stroke-width="1.05" stroke-linejoin="round"/>
<rect x="301.2" y="253.8" width="72" height="71.2" fill="none" stroke="#000" stroke-width="1.1"/>
<line x1="298.6" y1="325" x2="301.2" y2="325" stroke="#000" stroke-width="0.9"/>
<text x="296.6" y="327.2" font-size="6.2" stroke="#000" stroke-width="0.1" text-anchor="end">0</text>
<line x1="299.9" y1="322" x2="301.2" y2="322" stroke="#000" stroke-width="0.6"/>
<line x1="299.9" y1="319" x2="301.2" y2="319" stroke="#000" stroke-width="0.6"/>
<line x1="299.9" y1="316.1" x2="301.2" y2="316.1" stroke="#000" stroke-width="0.6"/>
<line x1="299.9" y1="313.1" x2="301.2" y2="313.1" stroke="#000" stroke-width="0.6"/>
<line x1="298.6" y1="310.1" x2="301.2" y2="310.1" stroke="#000" stroke-width="0.9"/>
<text x="296.6" y="312.3" font-size="6.2" stroke="#000" stroke-width="0.1" text-anchor="end">50</text>
<line x1="299.9" y1="307.1" x2="301.2" y2="307.1" stroke="#000" stroke-width="0.6"/>
<line x1="299.9" y1="304.1" x2="301.2" y2="304.1" stroke="#000" stroke-width="0.6"/>
<line x1="299.9" y1="301.2" x2="301.2" y2="301.2" stroke="#000" stroke-width="0.6"/>
<line x1="299.9" y1="298.2" x2="301.2" y2="298.2" stroke="#000" stroke-width="0.6"/>
<line x1="298.6" y1="295.2" x2="301.2" y2="295.2" stroke="#000" stroke-width="0.9"/>
<text x="296.6" y="297.4" font-size="6.2" stroke="#000" stroke-width="0.1" text-anchor="end">100</text>
<line x1="299.9" y1="292.2" x2="301.2" y2="292.2" stroke="#000" stroke-width="0.6"/>
<line x1="299.9" y1="289.2" x2="301.2" y2="289.2" stroke="#000" stroke-width="0.6"/>
<line x1="299.9" y1="286.3" x2="301.2" y2="286.3" stroke="#000" stroke-width="0.6"/>
<line x1="299.9" y1="283.3" x2="301.2" y2="283.3" stroke="#000" stroke-width="0.6"/>
<line x1="298.6" y1="280.3" x2="301.2" y2="280.3" stroke="#000" stroke-width="0.9"/>
<text x="296.6" y="282.5" font-size="6.2" stroke="#000" stroke-width="0.1" text-anchor="end">150</text>
<line x1="299.9" y1="277.3" x2="301.2" y2="277.3" stroke="#000" stroke-width="0.6"/>
<line x1="299.9" y1="274.3" x2="301.2" y2="274.3" stroke="#000" stroke-width="0.6"/>
<line x1="299.9" y1="271.4" x2="301.2" y2="271.4" stroke="#000" stroke-width="0.6"/>
<line x1="299.9" y1="268.4" x2="301.2" y2="268.4" stroke="#000" stroke-width="0.6"/>
<line x1="298.6" y1="265.4" x2="301.2" y2="265.4" stroke="#000" stroke-width="0.9"/>
<text x="296.6" y="267.6" font-size="6.2" stroke="#000" stroke-width="0.1" text-anchor="end">200</text>
<line x1="299.9" y1="262.4" x2="301.2" y2="262.4" stroke="#000" stroke-width="0.6"/>
<line x1="299.9" y1="259.4" x2="301.2" y2="259.4" stroke="#000" stroke-width="0.6"/>
<line x1="299.9" y1="256.5" x2="301.2" y2="256.5" stroke="#000" stroke-width="0.6"/>
<line x1="308" y1="325" x2="308" y2="327.2" stroke="#000" stroke-width="0.9"/>
<line x1="312.4" y1="325" x2="312.4" y2="326.2" stroke="#000" stroke-width="0.6"/>
<line x1="314.9" y1="325" x2="314.9" y2="326.2" stroke="#000" stroke-width="0.6"/>
<line x1="316.7" y1="325" x2="316.7" y2="326.2" stroke="#000" stroke-width="0.6"/>
<line x1="318.1" y1="325" x2="318.1" y2="326.2" stroke="#000" stroke-width="0.6"/>
<line x1="319.3" y1="325" x2="319.3" y2="326.2" stroke="#000" stroke-width="0.6"/>
<line x1="320.3" y1="325" x2="320.3" y2="326.2" stroke="#000" stroke-width="0.6"/>
<line x1="321.1" y1="325" x2="321.1" y2="326.2" stroke="#000" stroke-width="0.6"/>
<line x1="321.8" y1="325" x2="321.8" y2="326.2" stroke="#000" stroke-width="0.6"/>
<text x="308.4" y="336.3" font-size="6.6" stroke="#000" stroke-width="0.1" text-anchor="middle">10</text>
<text x="312.3" y="333.7" font-size="4.6" stroke="#000" stroke-width="0.1">1</text>
<line x1="322.5" y1="325" x2="322.5" y2="327.2" stroke="#000" stroke-width="0.9"/>
<line x1="326.9" y1="325" x2="326.9" y2="326.2" stroke="#000" stroke-width="0.6"/>
<line x1="329.4" y1="325" x2="329.4" y2="326.2" stroke="#000" stroke-width="0.6"/>
<line x1="331.2" y1="325" x2="331.2" y2="326.2" stroke="#000" stroke-width="0.6"/>
<line x1="332.6" y1="325" x2="332.6" y2="326.2" stroke="#000" stroke-width="0.6"/>
<line x1="333.8" y1="325" x2="333.8" y2="326.2" stroke="#000" stroke-width="0.6"/>
<line x1="334.8" y1="325" x2="334.8" y2="326.2" stroke="#000" stroke-width="0.6"/>
<line x1="335.6" y1="325" x2="335.6" y2="326.2" stroke="#000" stroke-width="0.6"/>
<line x1="336.3" y1="325" x2="336.3" y2="326.2" stroke="#000" stroke-width="0.6"/>
<text x="322.9" y="336.3" font-size="6.6" stroke="#000" stroke-width="0.1" text-anchor="middle">10</text>
<text x="326.8" y="333.7" font-size="4.6" stroke="#000" stroke-width="0.1">2</text>
<line x1="337" y1="325" x2="337" y2="327.2" stroke="#000" stroke-width="0.9"/>
<line x1="341.4" y1="325" x2="341.4" y2="326.2" stroke="#000" stroke-width="0.6"/>
<line x1="343.9" y1="325" x2="343.9" y2="326.2" stroke="#000" stroke-width="0.6"/>
<line x1="345.7" y1="325" x2="345.7" y2="326.2" stroke="#000" stroke-width="0.6"/>
<line x1="347.1" y1="325" x2="347.1" y2="326.2" stroke="#000" stroke-width="0.6"/>
<line x1="348.3" y1="325" x2="348.3" y2="326.2" stroke="#000" stroke-width="0.6"/>
<line x1="349.3" y1="325" x2="349.3" y2="326.2" stroke="#000" stroke-width="0.6"/>
<line x1="350.1" y1="325" x2="350.1" y2="326.2" stroke="#000" stroke-width="0.6"/>
<line x1="350.8" y1="325" x2="350.8" y2="326.2" stroke="#000" stroke-width="0.6"/>
<text x="337.4" y="336.3" font-size="6.6" stroke="#000" stroke-width="0.1" text-anchor="middle">10</text>
<text x="341.3" y="333.7" font-size="4.6" stroke="#000" stroke-width="0.1">3</text>
<line x1="351.5" y1="325" x2="351.5" y2="327.2" stroke="#000" stroke-width="0.9"/>
<line x1="355.9" y1="325" x2="355.9" y2="326.2" stroke="#000" stroke-width="0.6"/>
<line x1="358.4" y1="325" x2="358.4" y2="326.2" stroke="#000" stroke-width="0.6"/>
<line x1="360.2" y1="325" x2="360.2" y2="326.2" stroke="#000" stroke-width="0.6"/>
<line x1="361.6" y1="325" x2="361.6" y2="326.2" stroke="#000" stroke-width="0.6"/>
<line x1="362.8" y1="325" x2="362.8" y2="326.2" stroke="#000" stroke-width="0.6"/>
<line x1="363.8" y1="325" x2="363.8" y2="326.2" stroke="#000" stroke-width="0.6"/>
<line x1="364.6" y1="325" x2="364.6" y2="326.2" stroke="#000" stroke-width="0.6"/>
<line x1="365.3" y1="325" x2="365.3" y2="326.2" stroke="#000" stroke-width="0.6"/>
<text x="351.9" y="336.3" font-size="6.6" stroke="#000" stroke-width="0.1" text-anchor="middle">10</text>
<text x="355.8" y="333.7" font-size="4.6" stroke="#000" stroke-width="0.1">4</text>
<line x1="366" y1="325" x2="366" y2="327.2" stroke="#000" stroke-width="0.9"/>
<line x1="370.4" y1="325" x2="370.4" y2="326.2" stroke="#000" stroke-width="0.6"/>
<line x1="372.9" y1="325" x2="372.9" y2="326.2" stroke="#000" stroke-width="0.6"/>
<text x="366.4" y="336.3" font-size="6.6" stroke="#000" stroke-width="0.1" text-anchor="middle">10</text>
<text x="370.3" y="333.7" font-size="4.6" stroke="#000" stroke-width="0.1">5</text>
<line x1="411.2" y1="251.2" x2="411.2" y2="319.2" stroke="#000" stroke-width="1.1"/>
<line x1="410.8" y1="318.8" x2="511.2" y2="318.8" stroke="#000" stroke-width="1.1"/>
<line x1="408.2" y1="318.8" x2="411.2" y2="318.8" stroke="#000" stroke-width="0.9"/>
<text x="406.6" y="320.9" font-size="6.2" stroke="#000" stroke-width="0.1" text-anchor="end">0</text>
<line x1="408.2" y1="305.9" x2="411.2" y2="305.9" stroke="#000" stroke-width="0.9"/>
<text x="406.6" y="308.1" font-size="6.2" stroke="#000" stroke-width="0.1" text-anchor="end">40</text>
<line x1="408.2" y1="292.9" x2="411.2" y2="292.9" stroke="#000" stroke-width="0.9"/>
<text x="406.6" y="295.1" font-size="6.2" stroke="#000" stroke-width="0.1" text-anchor="end">80</text>
<line x1="408.2" y1="280.1" x2="411.2" y2="280.1" stroke="#000" stroke-width="0.9"/>
<text x="406.6" y="282.2" font-size="6.2" stroke="#000" stroke-width="0.1" text-anchor="end">120</text>
<line x1="408.2" y1="267.1" x2="411.2" y2="267.1" stroke="#000" stroke-width="0.9"/>
<text x="406.6" y="269.3" font-size="6.2" stroke="#000" stroke-width="0.1" text-anchor="end">160</text>
<line x1="408.2" y1="254.2" x2="411.2" y2="254.2" stroke="#000" stroke-width="0.9"/>
<text x="406.6" y="256.4" font-size="6.2" stroke="#000" stroke-width="0.1" text-anchor="end">200</text>
<line x1="417" y1="318.8" x2="417" y2="321.1" stroke="#000" stroke-width="0.9"/>
<text x="416.7" y="331.1" font-size="6.4" stroke="#000" stroke-width="0.1" text-anchor="middle">-3</text>
<line x1="435.4" y1="318.8" x2="435.4" y2="321.1" stroke="#000" stroke-width="0.9"/>
<text x="435.1" y="331.1" font-size="6.4" stroke="#000" stroke-width="0.1" text-anchor="middle">-2</text>
<line x1="453.7" y1="318.8" x2="453.7" y2="321.1" stroke="#000" stroke-width="0.9"/>
<text x="453.4" y="331.1" font-size="6.4" stroke="#000" stroke-width="0.1" text-anchor="middle">-1</text>
<line x1="472.1" y1="318.8" x2="472.1" y2="321.1" stroke="#000" stroke-width="0.9"/>
<text x="471.8" y="331.1" font-size="6.4" stroke="#000" stroke-width="0.1" text-anchor="middle">0</text>
<line x1="490.4" y1="318.8" x2="490.4" y2="321.1" stroke="#000" stroke-width="0.9"/>
<text x="490.1" y="331.1" font-size="6.4" stroke="#000" stroke-width="0.1" text-anchor="middle">1</text>
<line x1="508.8" y1="318.8" x2="508.8" y2="321.1" stroke="#000" stroke-width="0.9"/>
<text x="508.4" y="331.1" font-size="6.4" stroke="#000" stroke-width="0.1" text-anchor="middle">2</text>
<text x="442" y="342.6" font-size="7.2" stroke="#000" stroke-width="0.25" textLength="15.4" lengthAdjust="spacingAndGlyphs">Bir log</text>
<text x="457.8" y="345.4" font-size="4.6" stroke="#000" stroke-width="0.15" textLength="3.9" lengthAdjust="spacingAndGlyphs">10</text>
<text x="464.6" y="342.6" font-size="7.2" stroke="#000" stroke-width="0.25" textLength="14.4" lengthAdjust="spacingAndGlyphs">(µM)</text>
<text transform="translate(389.2,285) rotate(-90)" x="0" y="0" font-size="8.2" text-anchor="middle" textLength="59" lengthAdjust="spacingAndGlyphs" stroke="#000" stroke-width="0.26">Survival (% of control)</text>
<polyline points="417,263.9 439.1,294.6 451.9,278.4 464.7,290.4 477.6,305.9 490.4,310" fill="none" stroke="#6db33f" stroke-width="1.3" stroke-linejoin="round"/>
<circle cx="417" cy="263.9" r="1.35" fill="#6db33f"/>
<circle cx="439.1" cy="294.6" r="1.35" fill="#6db33f"/>
<circle cx="451.9" cy="278.4" r="1.35" fill="#6db33f"/>
<circle cx="464.7" cy="290.4" r="1.35" fill="#6db33f"/>
<circle cx="477.6" cy="305.9" r="1.35" fill="#6db33f"/>
<circle cx="490.4" cy="310" r="1.35" fill="#6db33f"/>
<polyline points="417,286.5 439.1,280.7 451.9,292.9 464.7,308.1 477.6,308.1 490.4,311.7" fill="none" stroke="#2b4c90" stroke-width="1.3" stroke-linejoin="round"/>
<circle cx="417" cy="286.5" r="1.35" fill="#2b4c90"/>
<circle cx="439.1" cy="280.7" r="1.35" fill="#2b4c90"/>
<circle cx="451.9" cy="292.9" r="1.35" fill="#2b4c90"/>
<circle cx="464.7" cy="308.1" r="1.35" fill="#2b4c90"/>
<circle cx="477.6" cy="308.1" r="1.35" fill="#2b4c90"/>
<circle cx="490.4" cy="311.7" r="1.35" fill="#2b4c90"/>
<polyline points="417,285.5 439.1,284.6 451.9,301 464.7,308.4 477.6,311.3 490.4,312.9" fill="none" stroke="#562a7e" stroke-width="1.3" stroke-linejoin="round"/>
<circle cx="417" cy="285.5" r="1.35" fill="#562a7e"/>
<circle cx="439.1" cy="284.6" r="1.35" fill="#562a7e"/>
<circle cx="451.9" cy="301" r="1.35" fill="#562a7e"/>
<circle cx="464.7" cy="308.4" r="1.35" fill="#562a7e"/>
<circle cx="477.6" cy="311.3" r="1.35" fill="#562a7e"/>
<circle cx="490.4" cy="312.9" r="1.35" fill="#562a7e"/>
<polyline points="417,283.9 439.1,290.4 451.9,309.1 464.7,307.1 477.6,309.1 490.4,310.7" fill="none" stroke="#b8143d" stroke-width="1.3" stroke-linejoin="round"/>
<circle cx="417" cy="283.9" r="1.35" fill="#b8143d"/>
<circle cx="439.1" cy="290.4" r="1.35" fill="#b8143d"/>
<circle cx="451.9" cy="309.1" r="1.35" fill="#b8143d"/>
<circle cx="464.7" cy="307.1" r="1.35" fill="#b8143d"/>
<circle cx="477.6" cy="309.1" r="1.35" fill="#b8143d"/>
<circle cx="490.4" cy="310.7" r="1.35" fill="#b8143d"/>
<text x="285" y="357.5" font-size="11.5" font-weight="bold">J</text>
<text x="302" y="355" font-size="8.9" stroke="#000" stroke-width="0.15" textLength="31" lengthAdjust="spacingAndGlyphs">Patient 8</text>
<path d="M301.2,432.2 L301.2,432.2 L302,432.2 L302.7,432.2 L303.4,432.2 L304.1,432.2 L304.8,432.2 L305.5,432.2 L306.2,432.2 L306.9,432.2 L307.6,432.2 L308.3,432 L309,431.7 L309.7,431.7 L310.4,431.5 L311.1,431.2 L311.8,431.1 L312.5,430.9 L313.2,430.2 L313.9,429.6 L314.6,429.8 L315.3,429.7 L316,429.5 L316.7,428.8 L317.4,427.4 L318.1,426.1 L318.8,425 L319.5,424.1 L320.2,423.6 L320.9,423.4 L321.6,421.9 L322.3,420.1 L323,418.9 L323.7,416.5 L324.4,413.3 L325.1,411.5 L325.8,410.8 L326.5,409.3 L327.2,407.3 L327.9,405.6 L328.6,406.7 L329.3,409.7 L330,412.3 L330.7,416 L331.4,420.1 L332.1,422.2 L332.8,423.9 L333.5,425.8 L334.2,427.4 L334.9,428.9 L335.6,430 L336.3,430.5 L337,431 L337.8,431.5 L338.5,431.7 L339.2,431.8 L339.9,432 L340.6,432 L341.3,432 L342,432.1 L342.7,432.2 L343.4,432.1 L344.1,432.1 L344.8,432.2 L345.5,432.2 L346.2,432.2 L346.9,432.2 L347.6,432.2 L348.3,432.2 L349,432.2 L349.7,432.2 L350.4,432.2 L351.1,432.2 L351.8,432.2 L352.5,432.2 L353.2,432.2 L353.9,432.2 L354.6,432.2 L355.3,432.2 L356,432.2 L356.7,432.2 L357.4,432.2 L358.1,432.2 L358.8,432.2 L359.5,432.1 L360.2,432.2 L360.9,432.2 L361.6,432.2 L362.3,432.2 L363,432.2 L363.7,432.2 L364.4,432.1 L365.1,432.2 L365.8,432.2 L366.5,432.2 L367.2,432.2 L367.9,432.2 L368.6,432.2 L369.3,432.2 L370,432.2 L370.7,432.2 L371.4,432.2 L372.1,432.2 L372.8,432.2 L373.5,432.2 L374.2,432.2 L374.2,432.2 Z" fill="rgba(150,150,156,0.22)" stroke="none"/>
<path d="M301.2,432.2 L302,432.2 L302.7,432.2 L303.4,432.2 L304.1,432.2 L304.8,432.2 L305.5,432.2 L306.2,432.2 L306.9,432.2 L307.6,432.2 L308.3,432 L309,431.7 L309.7,431.7 L310.4,431.5 L311.1,431.2 L311.8,431.1 L312.5,430.9 L313.2,430.2 L313.9,429.6 L314.6,429.8 L315.3,429.7 L316,429.5 L316.7,428.8 L317.4,427.4 L318.1,426.1 L318.8,425 L319.5,424.1 L320.2,423.6 L320.9,423.4 L321.6,421.9 L322.3,420.1 L323,418.9 L323.7,416.5 L324.4,413.3 L325.1,411.5 L325.8,410.8 L326.5,409.3 L327.2,407.3 L327.9,405.6 L328.6,406.7 L329.3,409.7 L330,412.3 L330.7,416 L331.4,420.1 L332.1,422.2 L332.8,423.9 L333.5,425.8 L334.2,427.4 L334.9,428.9 L335.6,430 L336.3,430.5 L337,431 L337.8,431.5 L338.5,431.7 L339.2,431.8 L339.9,432 L340.6,432 L341.3,432 L342,432.1 L342.7,432.2 L343.4,432.1 L344.1,432.1 L344.8,432.2 L345.5,432.2 L346.2,432.2 L346.9,432.2 L347.6,432.2 L348.3,432.2 L349,432.2 L349.7,432.2 L350.4,432.2 L351.1,432.2 L351.8,432.2 L352.5,432.2 L353.2,432.2 L353.9,432.2 L354.6,432.2 L355.3,432.2 L356,432.2 L356.7,432.2 L357.4,432.2 L358.1,432.2 L358.8,432.2 L359.5,432.1 L360.2,432.2 L360.9,432.2 L361.6,432.2 L362.3,432.2 L363,432.2 L363.7,432.2 L364.4,432.1 L365.1,432.2 L365.8,432.2 L366.5,432.2 L367.2,432.2 L367.9,432.2 L368.6,432.2 L369.3,432.2 L370,432.2 L370.7,432.2 L371.4,432.2 L372.1,432.2 L372.8,432.2 L373.5,432.2 L374.2,432.2" fill="none" stroke="#d2d2d5" stroke-width="1.05" stroke-linejoin="round"/>
<path d="M301.2,432.2 L301.2,432.1 L302,432.2 L302.7,432.2 L303.4,432.2 L304.1,432.1 L304.8,432.1 L305.5,432 L306.2,431.8 L306.9,431.6 L307.6,431.5 L308.3,431.4 L309,431.1 L309.7,430.6 L310.4,429.9 L311.1,429.4 L311.8,429.1 L312.5,428.4 L313.2,427.5 L313.9,426.8 L314.6,425.6 L315.3,424 L316,422.6 L316.7,420.8 L317.4,419 L318.1,417.5 L318.8,415.3 L319.5,413 L320.2,411.4 L320.9,408.8 L321.6,405.2 L322.3,403.5 L323,404.7 L323.7,405.7 L324.4,406.1 L325.1,407.3 L325.8,410.1 L326.5,411.9 L327.2,412.2 L327.9,412.9 L328.6,413 L329.3,412.4 L330,413.1 L330.7,415.4 L331.4,417.1 L332.1,418.2 L332.8,420.6 L333.5,423.5 L334.2,425 L334.9,425.2 L335.6,425.4 L336.3,426.9 L337,428.5 L337.8,429.4 L338.5,430.1 L339.2,430.6 L339.9,430.4 L340.6,430.4 L341.3,430.9 L342,431.3 L342.7,431.4 L343.4,431.6 L344.1,431.9 L344.8,432 L345.5,432 L346.2,432 L346.9,432.1 L347.6,432.2 L348.3,432.2 L349,432.2 L349.7,432.2 L350.4,432.1 L351.1,432.2 L351.8,432.2 L352.5,432.2 L353.2,432.2 L353.9,432.2 L354.6,432.2 L355.3,432.2 L356,432.2 L356.7,432.2 L357.4,432.2 L358.1,432.2 L358.8,432.2 L359.5,432.2 L360.2,432.2 L360.9,432.2 L361.6,432.2 L362.3,432.2 L363,432.2 L363.7,432.2 L364.4,432.2 L365.1,432.2 L365.8,432.2 L366.5,432.2 L367.2,432.2 L367.9,432.2 L368.6,432.2 L369.3,432.2 L370,432.2 L370.7,432.2 L371.4,432.2 L372.1,432.2 L372.8,432.2 L373.5,432.2 L374.2,432.2 L374.2,432.2 Z" fill="rgba(110,113,124,0.23)" stroke="none"/>
<path d="M301.2,432.1 L302,432.2 L302.7,432.2 L303.4,432.2 L304.1,432.1 L304.8,432.1 L305.5,432 L306.2,431.8 L306.9,431.6 L307.6,431.5 L308.3,431.4 L309,431.1 L309.7,430.6 L310.4,429.9 L311.1,429.4 L311.8,429.1 L312.5,428.4 L313.2,427.5 L313.9,426.8 L314.6,425.6 L315.3,424 L316,422.6 L316.7,420.8 L317.4,419 L318.1,417.5 L318.8,415.3 L319.5,413 L320.2,411.4 L320.9,408.8 L321.6,405.2 L322.3,403.5 L323,404.7 L323.7,405.7 L324.4,406.1 L325.1,407.3 L325.8,410.1 L326.5,411.9 L327.2,412.2 L327.9,412.9 L328.6,413 L329.3,412.4 L330,413.1 L330.7,415.4 L331.4,417.1 L332.1,418.2 L332.8,420.6 L333.5,423.5 L334.2,425 L334.9,425.2 L335.6,425.4 L336.3,426.9 L337,428.5 L337.8,429.4 L338.5,430.1 L339.2,430.6 L339.9,430.4 L340.6,430.4 L341.3,430.9 L342,431.3 L342.7,431.4 L343.4,431.6 L344.1,431.9 L344.8,432 L345.5,432 L346.2,432 L346.9,432.1 L347.6,432.2 L348.3,432.2 L349,432.2 L349.7,432.2 L350.4,432.1 L351.1,432.2 L351.8,432.2 L352.5,432.2 L353.2,432.2 L353.9,432.2 L354.6,432.2 L355.3,432.2 L356,432.2 L356.7,432.2 L357.4,432.2 L358.1,432.2 L358.8,432.2 L359.5,432.2 L360.2,432.2 L360.9,432.2 L361.6,432.2 L362.3,432.2 L363,432.2 L363.7,432.2 L364.4,432.2 L365.1,432.2 L365.8,432.2 L366.5,432.2 L367.2,432.2 L367.9,432.2 L368.6,432.2 L369.3,432.2 L370,432.2 L370.7,432.2 L371.4,432.2 L372.1,432.2 L372.8,432.2 L373.5,432.2 L374.2,432.2" fill="none" stroke="#4a4f62" stroke-width="1.05" stroke-linejoin="round"/>
<path d="M301.2,432.2 L301.2,432.2 L302,432.2 L302.7,432.2 L303.4,432.2 L304.1,432.2 L304.8,432.2 L305.5,432.2 L306.2,432.2 L306.9,432.2 L307.6,432.2 L308.3,432.2 L309,432.2 L309.7,432.2 L310.4,432.2 L311.1,432.2 L311.8,432.2 L312.5,432.2 L313.2,432.2 L313.9,432.1 L314.6,432.1 L315.3,432.1 L316,432.2 L316.7,432.2 L317.4,432.2 L318.1,432.1 L318.8,432.1 L319.5,432.2 L320.2,432.2 L320.9,432.2 L321.6,432.2 L322.3,432.2 L323,432.1 L323.7,432.1 L324.4,432.2 L325.1,432.2 L325.8,432.1 L326.5,431.9 L327.2,431.7 L327.9,431.5 L328.6,431 L329.3,430.7 L330,430.3 L330.7,429.3 L331.4,428.2 L332.1,426.5 L332.8,423.9 L333.5,420.7 L334.2,417.4 L334.9,413 L335.6,407.2 L336.3,400.7 L337,394.2 L337.8,387.9 L338.5,380.8 L339.2,371.8 L339.9,363.9 L340.6,361.1 L341.3,365.2 L342,371.6 L342.7,377.4 L343.4,383.2 L344.1,390.6 L344.8,396.3 L345.5,401.1 L346.2,405.8 L346.9,409 L347.6,412.3 L348.3,416.1 L349,419.2 L349.7,420.8 L350.4,421.2 L351.1,422.3 L351.8,423.8 L352.5,424.6 L353.2,425.5 L353.9,426.5 L354.6,427 L355.3,427.9 L356,429.2 L356.7,429.5 L357.4,429.4 L358.1,430 L358.8,430.7 L359.5,430.9 L360.2,430.9 L360.9,431.2 L361.6,431.4 L362.3,431.6 L363,431.7 L363.7,431.8 L364.4,431.7 L365.1,431.8 L365.8,431.9 L366.5,432.1 L367.2,432.2 L367.9,432.2 L368.6,432.1 L369.3,432.2 L370,432.2 L370.7,432.2 L371.4,432.2 L372.1,432.2 L372.8,432.2 L373.5,432.1 L374.2,432.1 L374.2,432.2 Z" fill="rgba(44,75,142,0.27)" stroke="none"/>
<path d="M301.2,432.2 L302,432.2 L302.7,432.2 L303.4,432.2 L304.1,432.2 L304.8,432.2 L305.5,432.2 L306.2,432.2 L306.9,432.2 L307.6,432.2 L308.3,432.2 L309,432.2 L309.7,432.2 L310.4,432.2 L311.1,432.2 L311.8,432.2 L312.5,432.2 L313.2,432.2 L313.9,432.1 L314.6,432.1 L315.3,432.1 L316,432.2 L316.7,432.2 L317.4,432.2 L318.1,432.1 L318.8,432.1 L319.5,432.2 L320.2,432.2 L320.9,432.2 L321.6,432.2 L322.3,432.2 L323,432.1 L323.7,432.1 L324.4,432.2 L325.1,432.2 L325.8,432.1 L326.5,431.9 L327.2,431.7 L327.9,431.5 L328.6,431 L329.3,430.7 L330,430.3 L330.7,429.3 L331.4,428.2 L332.1,426.5 L332.8,423.9 L333.5,420.7 L334.2,417.4 L334.9,413 L335.6,407.2 L336.3,400.7 L337,394.2 L337.8,387.9 L338.5,380.8 L339.2,371.8 L339.9,363.9 L340.6,361.1 L341.3,365.2 L342,371.6 L342.7,377.4 L343.4,383.2 L344.1,390.6 L344.8,396.3 L345.5,401.1 L346.2,405.8 L346.9,409 L347.6,412.3 L348.3,416.1 L349,419.2 L349.7,420.8 L350.4,421.2 L351.1,422.3 L351.8,423.8 L352.5,424.6 L353.2,425.5 L353.9,426.5 L354.6,427 L355.3,427.9 L356,429.2 L356.7,429.5 L357.4,429.4 L358.1,430 L358.8,430.7 L359.5,430.9 L360.2,430.9 L360.9,431.2 L361.6,431.4 L362.3,431.6 L363,431.7 L363.7,431.8 L364.4,431.7 L365.1,431.8 L365.8,431.9 L366.5,432.1 L367.2,432.2 L367.9,432.2 L368.6,432.1 L369.3,432.2 L370,432.2 L370.7,432.2 L371.4,432.2 L372.1,432.2 L372.8,432.2 L373.5,432.1 L374.2,432.1" fill="none" stroke="#2c4b8e" stroke-width="1.05" stroke-linejoin="round"/>
<path d="M301.2,432.2 L301.2,432.2 L302,432.2 L302.7,432.2 L303.4,432.2 L304.1,432.2 L304.8,432.2 L305.5,432.2 L306.2,432.2 L306.9,432.2 L307.6,432.2 L308.3,432.2 L309,432.2 L309.7,432.2 L310.4,432.2 L311.1,432.2 L311.8,432.2 L312.5,432.2 L313.2,432.2 L313.9,432.2 L314.6,432.1 L315.3,432.1 L316,432.2 L316.7,432.2 L317.4,432.2 L318.1,432.2 L318.8,432.2 L319.5,432.2 L320.2,432.2 L320.9,432.2 L321.6,432.2 L322.3,432.2 L323,432.1 L323.7,432.2 L324.4,432.2 L325.1,432.1 L325.8,431.9 L326.5,431.9 L327.2,432 L327.9,431.7 L328.6,431.3 L329.3,431 L330,430.3 L330.7,429.1 L331.4,428 L332.1,427.2 L332.8,425.9 L333.5,423.6 L334.2,421.1 L334.9,418.4 L335.6,414.3 L336.3,409.8 L337,406.6 L337.8,402.4 L338.5,395.6 L339.2,389 L339.9,383.5 L340.6,377.2 L341.3,371.7 L342,369.7 L342.7,375.2 L343.4,383 L344.1,388.1 L344.8,392.1 L345.5,397.6 L346.2,402.9 L346.9,406.4 L347.6,408.9 L348.3,411.1 L349,413 L349.7,414.2 L350.4,415.2 L351.1,415.1 L351.8,414.8 L352.5,416.6 L353.2,419.3 L353.9,420.8 L354.6,421.8 L355.3,422.5 L356,422.9 L356.7,424.1 L357.4,425.9 L358.1,427.9 L358.8,428.9 L359.5,429.2 L360.2,429.9 L360.9,430.6 L361.6,430.9 L362.3,431.1 L363,431.5 L363.7,431.6 L364.4,431.7 L365.1,432 L365.8,432 L366.5,432.1 L367.2,432.2 L367.9,432.2 L368.6,432.2 L369.3,432.2 L370,432.2 L370.7,432.2 L371.4,432.1 L372.1,432.1 L372.8,432.1 L373.5,432.1 L374.2,432.1 L374.2,432.2 Z" fill="rgba(192,24,63,0.36)" stroke="none"/>
<path d="M301.2,432.2 L302,432.2 L302.7,432.2 L303.4,432.2 L304.1,432.2 L304.8,432.2 L305.5,432.2 L306.2,432.2 L306.9,432.2 L307.6,432.2 L308.3,432.2 L309,432.2 L309.7,432.2 L310.4,432.2 L311.1,432.2 L311.8,432.2 L312.5,432.2 L313.2,432.2 L313.9,432.2 L314.6,432.1 L315.3,432.1 L316,432.2 L316.7,432.2 L317.4,432.2 L318.1,432.2 L318.8,432.2 L319.5,432.2 L320.2,432.2 L320.9,432.2 L321.6,432.2 L322.3,432.2 L323,432.1 L323.7,432.2 L324.4,432.2 L325.1,432.1 L325.8,431.9 L326.5,431.9 L327.2,432 L327.9,431.7 L328.6,431.3 L329.3,431 L330,430.3 L330.7,429.1 L331.4,428 L332.1,427.2 L332.8,425.9 L333.5,423.6 L334.2,421.1 L334.9,418.4 L335.6,414.3 L336.3,409.8 L337,406.6 L337.8,402.4 L338.5,395.6 L339.2,389 L339.9,383.5 L340.6,377.2 L341.3,371.7 L342,369.7 L342.7,375.2 L343.4,383 L344.1,388.1 L344.8,392.1 L345.5,397.6 L346.2,402.9 L346.9,406.4 L347.6,408.9 L348.3,411.1 L349,413 L349.7,414.2 L350.4,415.2 L351.1,415.1 L351.8,414.8 L352.5,416.6 L353.2,419.3 L353.9,420.8 L354.6,421.8 L355.3,422.5 L356,422.9 L356.7,424.1 L357.4,425.9 L358.1,427.9 L358.8,428.9 L359.5,429.2 L360.2,429.9 L360.9,430.6 L361.6,430.9 L362.3,431.1 L363,431.5 L363.7,431.6 L364.4,431.7 L365.1,432 L365.8,432 L366.5,432.1 L367.2,432.2 L367.9,432.2 L368.6,432.2 L369.3,432.2 L370,432.2 L370.7,432.2 L371.4,432.1 L372.1,432.1 L372.8,432.1 L373.5,432.1 L374.2,432.1" fill="none" stroke="#c0183f" stroke-width="1.05" stroke-linejoin="round"/>
<rect x="301.2" y="359.5" width="73" height="72.8" fill="none" stroke="#000" stroke-width="1.1"/>
<line x1="298.6" y1="432.2" x2="301.2" y2="432.2" stroke="#000" stroke-width="0.9"/>
<text x="296.6" y="434.4" font-size="6.2" stroke="#000" stroke-width="0.1" text-anchor="end">0</text>
<line x1="299.9" y1="428.2" x2="301.2" y2="428.2" stroke="#000" stroke-width="0.6"/>
<line x1="299.9" y1="424.2" x2="301.2" y2="424.2" stroke="#000" stroke-width="0.6"/>
<line x1="299.9" y1="420.2" x2="301.2" y2="420.2" stroke="#000" stroke-width="0.6"/>
<line x1="299.9" y1="416.2" x2="301.2" y2="416.2" stroke="#000" stroke-width="0.6"/>
<line x1="298.6" y1="412.2" x2="301.2" y2="412.2" stroke="#000" stroke-width="0.9"/>
<text x="296.6" y="414.4" font-size="6.2" stroke="#000" stroke-width="0.1" text-anchor="end">200</text>
<line x1="299.9" y1="408.2" x2="301.2" y2="408.2" stroke="#000" stroke-width="0.6"/>
<line x1="299.9" y1="404.2" x2="301.2" y2="404.2" stroke="#000" stroke-width="0.6"/>
<line x1="299.9" y1="400.2" x2="301.2" y2="400.2" stroke="#000" stroke-width="0.6"/>
<line x1="299.9" y1="396.2" x2="301.2" y2="396.2" stroke="#000" stroke-width="0.6"/>
<line x1="298.6" y1="392.2" x2="301.2" y2="392.2" stroke="#000" stroke-width="0.9"/>
<text x="296.6" y="394.4" font-size="6.2" stroke="#000" stroke-width="0.1" text-anchor="end">400</text>
<line x1="299.9" y1="388.2" x2="301.2" y2="388.2" stroke="#000" stroke-width="0.6"/>
<line x1="299.9" y1="384.2" x2="301.2" y2="384.2" stroke="#000" stroke-width="0.6"/>
<line x1="299.9" y1="380.2" x2="301.2" y2="380.2" stroke="#000" stroke-width="0.6"/>
<line x1="299.9" y1="376.2" x2="301.2" y2="376.2" stroke="#000" stroke-width="0.6"/>
<line x1="298.6" y1="372.2" x2="301.2" y2="372.2" stroke="#000" stroke-width="0.9"/>
<text x="296.6" y="374.4" font-size="6.2" stroke="#000" stroke-width="0.1" text-anchor="end">600</text>
<line x1="299.9" y1="368.2" x2="301.2" y2="368.2" stroke="#000" stroke-width="0.6"/>
<line x1="299.9" y1="364.2" x2="301.2" y2="364.2" stroke="#000" stroke-width="0.6"/>
<line x1="299.9" y1="360.2" x2="301.2" y2="360.2" stroke="#000" stroke-width="0.6"/>
<line x1="308" y1="432.2" x2="308" y2="434.4" stroke="#000" stroke-width="0.9"/>
<line x1="312.5" y1="432.2" x2="312.5" y2="433.4" stroke="#000" stroke-width="0.6"/>
<line x1="315.1" y1="432.2" x2="315.1" y2="433.4" stroke="#000" stroke-width="0.6"/>
<line x1="317" y1="432.2" x2="317" y2="433.4" stroke="#000" stroke-width="0.6"/>
<line x1="318.4" y1="432.2" x2="318.4" y2="433.4" stroke="#000" stroke-width="0.6"/>
<line x1="319.6" y1="432.2" x2="319.6" y2="433.4" stroke="#000" stroke-width="0.6"/>
<line x1="320.6" y1="432.2" x2="320.6" y2="433.4" stroke="#000" stroke-width="0.6"/>
<line x1="321.5" y1="432.2" x2="321.5" y2="433.4" stroke="#000" stroke-width="0.6"/>
<line x1="322.2" y1="432.2" x2="322.2" y2="433.4" stroke="#000" stroke-width="0.6"/>
<text x="308.4" y="443.6" font-size="6.6" stroke="#000" stroke-width="0.1" text-anchor="middle">10</text>
<text x="312.3" y="440.9" font-size="4.6" stroke="#000" stroke-width="0.1">0</text>
<line x1="322.9" y1="432.2" x2="322.9" y2="434.4" stroke="#000" stroke-width="0.9"/>
<line x1="327.4" y1="432.2" x2="327.4" y2="433.4" stroke="#000" stroke-width="0.6"/>
<line x1="330" y1="432.2" x2="330" y2="433.4" stroke="#000" stroke-width="0.6"/>
<line x1="331.9" y1="432.2" x2="331.9" y2="433.4" stroke="#000" stroke-width="0.6"/>
<line x1="333.3" y1="432.2" x2="333.3" y2="433.4" stroke="#000" stroke-width="0.6"/>
<line x1="334.5" y1="432.2" x2="334.5" y2="433.4" stroke="#000" stroke-width="0.6"/>
<line x1="335.5" y1="432.2" x2="335.5" y2="433.4" stroke="#000" stroke-width="0.6"/>
<line x1="336.4" y1="432.2" x2="336.4" y2="433.4" stroke="#000" stroke-width="0.6"/>
<line x1="337.1" y1="432.2" x2="337.1" y2="433.4" stroke="#000" stroke-width="0.6"/>
<text x="323.3" y="443.6" font-size="6.6" stroke="#000" stroke-width="0.1" text-anchor="middle">10</text>
<text x="327.2" y="440.9" font-size="4.6" stroke="#000" stroke-width="0.1">1</text>
<line x1="337.8" y1="432.2" x2="337.8" y2="434.4" stroke="#000" stroke-width="0.9"/>
<line x1="342.3" y1="432.2" x2="342.3" y2="433.4" stroke="#000" stroke-width="0.6"/>
<line x1="344.9" y1="432.2" x2="344.9" y2="433.4" stroke="#000" stroke-width="0.6"/>
<line x1="346.8" y1="432.2" x2="346.8" y2="433.4" stroke="#000" stroke-width="0.6"/>
<line x1="348.2" y1="432.2" x2="348.2" y2="433.4" stroke="#000" stroke-width="0.6"/>
<line x1="349.4" y1="432.2" x2="349.4" y2="433.4" stroke="#000" stroke-width="0.6"/>
<line x1="350.4" y1="432.2" x2="350.4" y2="433.4" stroke="#000" stroke-width="0.6"/>
<line x1="351.3" y1="432.2" x2="351.3" y2="433.4" stroke="#000" stroke-width="0.6"/>
<line x1="352" y1="432.2" x2="352" y2="433.4" stroke="#000" stroke-width="0.6"/>
<text x="338.2" y="443.6" font-size="6.6" stroke="#000" stroke-width="0.1" text-anchor="middle">10</text>
<text x="342.1" y="440.9" font-size="4.6" stroke="#000" stroke-width="0.1">2</text>
<line x1="352.7" y1="432.2" x2="352.7" y2="434.4" stroke="#000" stroke-width="0.9"/>
<line x1="357.2" y1="432.2" x2="357.2" y2="433.4" stroke="#000" stroke-width="0.6"/>
<line x1="359.8" y1="432.2" x2="359.8" y2="433.4" stroke="#000" stroke-width="0.6"/>
<line x1="361.7" y1="432.2" x2="361.7" y2="433.4" stroke="#000" stroke-width="0.6"/>
<line x1="363.1" y1="432.2" x2="363.1" y2="433.4" stroke="#000" stroke-width="0.6"/>
<line x1="364.3" y1="432.2" x2="364.3" y2="433.4" stroke="#000" stroke-width="0.6"/>
<line x1="365.3" y1="432.2" x2="365.3" y2="433.4" stroke="#000" stroke-width="0.6"/>
<line x1="366.2" y1="432.2" x2="366.2" y2="433.4" stroke="#000" stroke-width="0.6"/>
<line x1="366.9" y1="432.2" x2="366.9" y2="433.4" stroke="#000" stroke-width="0.6"/>
<text x="353.1" y="443.6" font-size="6.6" stroke="#000" stroke-width="0.1" text-anchor="middle">10</text>
<text x="357" y="440.9" font-size="4.6" stroke="#000" stroke-width="0.1">3</text>
<line x1="367.6" y1="432.2" x2="367.6" y2="434.4" stroke="#000" stroke-width="0.9"/>
<line x1="372.1" y1="432.2" x2="372.1" y2="433.4" stroke="#000" stroke-width="0.6"/>
<text x="368" y="443.6" font-size="6.6" stroke="#000" stroke-width="0.1" text-anchor="middle">10</text>
<text x="371.9" y="440.9" font-size="4.6" stroke="#000" stroke-width="0.1">4</text>
<line x1="412" y1="360" x2="412" y2="427.2" stroke="#000" stroke-width="1.1"/>
<line x1="411.5" y1="426.8" x2="511.8" y2="426.8" stroke="#000" stroke-width="1.1"/>
<line x1="409" y1="426.8" x2="412" y2="426.8" stroke="#000" stroke-width="0.9"/>
<text x="407.4" y="428.9" font-size="6.2" stroke="#000" stroke-width="0.1" text-anchor="end">0</text>
<line x1="409" y1="416.1" x2="412" y2="416.1" stroke="#000" stroke-width="0.9"/>
<text x="407.4" y="418.2" font-size="6.2" stroke="#000" stroke-width="0.1" text-anchor="end">20</text>
<line x1="409" y1="405.4" x2="412" y2="405.4" stroke="#000" stroke-width="0.9"/>
<text x="407.4" y="407.6" font-size="6.2" stroke="#000" stroke-width="0.1" text-anchor="end">40</text>
<line x1="409" y1="394.6" x2="412" y2="394.6" stroke="#000" stroke-width="0.9"/>
<text x="407.4" y="396.8" font-size="6.2" stroke="#000" stroke-width="0.1" text-anchor="end">60</text>
<line x1="409" y1="383.9" x2="412" y2="383.9" stroke="#000" stroke-width="0.9"/>
<text x="407.4" y="386.1" font-size="6.2" stroke="#000" stroke-width="0.1" text-anchor="end">80</text>
<line x1="409" y1="373.2" x2="412" y2="373.2" stroke="#000" stroke-width="0.9"/>
<text x="407.4" y="375.4" font-size="6.2" stroke="#000" stroke-width="0.1" text-anchor="end">100</text>
<line x1="409" y1="362.6" x2="412" y2="362.6" stroke="#000" stroke-width="0.9"/>
<text x="407.4" y="364.8" font-size="6.2" stroke="#000" stroke-width="0.1" text-anchor="end">120</text>
<line x1="418" y1="426.8" x2="418" y2="429.1" stroke="#000" stroke-width="0.9"/>
<text x="417.7" y="439.1" font-size="6.4" stroke="#000" stroke-width="0.1" text-anchor="middle">-3</text>
<line x1="436.2" y1="426.8" x2="436.2" y2="429.1" stroke="#000" stroke-width="0.9"/>
<text x="435.9" y="439.1" font-size="6.4" stroke="#000" stroke-width="0.1" text-anchor="middle">-2</text>
<line x1="454.5" y1="426.8" x2="454.5" y2="429.1" stroke="#000" stroke-width="0.9"/>
<text x="454.2" y="439.1" font-size="6.4" stroke="#000" stroke-width="0.1" text-anchor="middle">-1</text>
<line x1="472.8" y1="426.8" x2="472.8" y2="429.1" stroke="#000" stroke-width="0.9"/>
<text x="472.4" y="439.1" font-size="6.4" stroke="#000" stroke-width="0.1" text-anchor="middle">0</text>
<line x1="491" y1="426.8" x2="491" y2="429.1" stroke="#000" stroke-width="0.9"/>
<text x="490.7" y="439.1" font-size="6.4" stroke="#000" stroke-width="0.1" text-anchor="middle">1</text>
<line x1="509.2" y1="426.8" x2="509.2" y2="429.1" stroke="#000" stroke-width="0.9"/>
<text x="508.9" y="439.1" font-size="6.4" stroke="#000" stroke-width="0.1" text-anchor="middle">2</text>
<text x="443" y="450.6" font-size="7.2" stroke="#000" stroke-width="0.25" textLength="15.4" lengthAdjust="spacingAndGlyphs">Bir log</text>
<text x="458.8" y="453.4" font-size="4.6" stroke="#000" stroke-width="0.15" textLength="3.9" lengthAdjust="spacingAndGlyphs">10</text>
<text x="465.6" y="450.6" font-size="7.2" stroke="#000" stroke-width="0.25" textLength="14.4" lengthAdjust="spacingAndGlyphs">(µM)</text>
<text transform="translate(390,393.4) rotate(-90)" x="0" y="0" font-size="8.2" text-anchor="middle" textLength="59" lengthAdjust="spacingAndGlyphs" stroke="#000" stroke-width="0.26">Survival (% of control)</text>
<polyline points="418,374.3 440,371.1 452.7,378.1 465.5,374.3 478.2,377.5 491,375.4" fill="none" stroke="#6db33f" stroke-width="1.3" stroke-linejoin="round"/>
<circle cx="418" cy="374.3" r="1.35" fill="#6db33f"/>
<circle cx="440" cy="371.1" r="1.35" fill="#6db33f"/>
<circle cx="452.7" cy="378.1" r="1.35" fill="#6db33f"/>
<circle cx="465.5" cy="374.3" r="1.35" fill="#6db33f"/>
<circle cx="478.2" cy="377.5" r="1.35" fill="#6db33f"/>
<circle cx="491" cy="375.4" r="1.35" fill="#6db33f"/>
<polyline points="418,375.4 440,374.3 452.7,385 465.5,385.6 478.2,379.7 491,384.5" fill="none" stroke="#562a7e" stroke-width="1.3" stroke-linejoin="round"/>
<circle cx="418" cy="375.4" r="1.35" fill="#562a7e"/>
<circle cx="440" cy="374.3" r="1.35" fill="#562a7e"/>
<circle cx="452.7" cy="385" r="1.35" fill="#562a7e"/>
<circle cx="465.5" cy="385.6" r="1.35" fill="#562a7e"/>
<circle cx="478.2" cy="379.7" r="1.35" fill="#562a7e"/>
<circle cx="491" cy="384.5" r="1.35" fill="#562a7e"/>
<polyline points="418,373.2 440,406.4 452.7,408.6 465.5,406.4 478.2,395.7 491,396.8" fill="none" stroke="#2b4c90" stroke-width="1.3" stroke-linejoin="round"/>
<circle cx="418" cy="373.2" r="1.35" fill="#2b4c90"/>
<circle cx="440" cy="406.4" r="1.35" fill="#2b4c90"/>
<circle cx="452.7" cy="408.6" r="1.35" fill="#2b4c90"/>
<circle cx="465.5" cy="406.4" r="1.35" fill="#2b4c90"/>
<circle cx="478.2" cy="395.7" r="1.35" fill="#2b4c90"/>
<circle cx="491" cy="396.8" r="1.35" fill="#2b4c90"/>
<polyline points="418,370 440,373.2 452.7,382.3 465.5,397.3 478.2,374.3 491,382.3" fill="none" stroke="#b8143d" stroke-width="1.3" stroke-linejoin="round"/>
<circle cx="418" cy="370" r="1.35" fill="#b8143d"/>
<circle cx="440" cy="373.2" r="1.35" fill="#b8143d"/>
<circle cx="452.7" cy="382.3" r="1.35" fill="#b8143d"/>
<circle cx="465.5" cy="397.3" r="1.35" fill="#b8143d"/>
<circle cx="478.2" cy="374.3" r="1.35" fill="#b8143d"/>
<circle cx="491" cy="382.3" r="1.35" fill="#b8143d"/>
<text x="285" y="465.5" font-size="11.5" font-weight="bold">K</text>
<text x="302" y="463.8" font-size="8.9" stroke="#000" stroke-width="0.15" textLength="31" lengthAdjust="spacingAndGlyphs">Patient 9</text>
<path d="M301.2,540.8 L301.2,540.7 L302,540.7 L302.7,540.8 L303.4,540.7 L304.1,540.7 L304.8,540.7 L305.5,540.8 L306.2,540.8 L306.9,540.8 L307.6,540.8 L308.3,540.8 L309,540.8 L309.7,540.8 L310.4,540.8 L311.1,540.7 L311.8,540.7 L312.5,540.7 L313.2,540.7 L313.9,540.7 L314.6,540.7 L315.3,540.8 L316,540.8 L316.7,540.8 L317.4,540.8 L318.1,540.8 L318.8,540.7 L319.5,540.7 L320.2,540.8 L320.9,540.8 L321.6,540.8 L322.3,540.8 L323,540.8 L323.7,540.8 L324.4,540.7 L325.1,540.7 L325.8,540.8 L326.5,540.8 L327.2,540.7 L327.9,540.7 L328.6,540.8 L329.3,540.8 L330,540.7 L330.7,540.7 L331.4,540.7 L332.1,540.7 L332.8,540.7 L333.5,540.7 L334.2,540.7 L334.9,540.6 L335.6,540.5 L336.3,540.1 L337,539.2 L337.7,537.6 L338.4,535.6 L339.1,531.8 L339.8,525 L340.5,517.1 L341.2,508.1 L341.9,495.4 L342.6,481.9 L343.3,473.2 L344,483 L344.7,497.9 L345.4,512.4 L346.1,524.4 L346.8,531.9 L347.5,535.5 L348.2,537.9 L348.9,539.5 L349.6,540.2 L350.3,540.5 L351,540.6 L351.7,540.6 L352.4,540.7 L353.1,540.7 L353.8,540.6 L354.5,540.7 L355.2,540.8 L355.9,540.8 L356.6,540.8 L357.3,540.8 L358,540.7 L358.7,540.7 L359.4,540.8 L360.1,540.7 L360.8,540.7 L361.5,540.8 L362.2,540.7 L362.9,540.7 L363.6,540.7 L364.3,540.7 L365,540.8 L365.7,540.8 L366.4,540.7 L367.1,540.7 L367.8,540.8 L368.5,540.8 L369.2,540.8 L369.9,540.8 L370.6,540.7 L371.3,540.7 L372,540.7 L372.7,540.7 L373.4,540.8 L374.1,540.8 L374.8,540.8 L375.5,540.7 L375.5,540.8 Z" fill="rgba(150,150,156,0.22)" stroke="none"/>
<path d="M301.2,540.7 L302,540.7 L302.7,540.8 L303.4,540.7 L304.1,540.7 L304.8,540.7 L305.5,540.8 L306.2,540.8 L306.9,540.8 L307.6,540.8 L308.3,540.8 L309,540.8 L309.7,540.8 L310.4,540.8 L311.1,540.7 L311.8,540.7 L312.5,540.7 L313.2,540.7 L313.9,540.7 L314.6,540.7 L315.3,540.8 L316,540.8 L316.7,540.8 L317.4,540.8 L318.1,540.8 L318.8,540.7 L319.5,540.7 L320.2,540.8 L320.9,540.8 L321.6,540.8 L322.3,540.8 L323,540.8 L323.7,540.8 L324.4,540.7 L325.1,540.7 L325.8,540.8 L326.5,540.8 L327.2,540.7 L327.9,540.7 L328.6,540.8 L329.3,540.8 L330,540.7 L330.7,540.7 L331.4,540.7 L332.1,540.7 L332.8,540.7 L333.5,540.7 L334.2,540.7 L334.9,540.6 L335.6,540.5 L336.3,540.1 L337,539.2 L337.7,537.6 L338.4,535.6 L339.1,531.8 L339.8,525 L340.5,517.1 L341.2,508.1 L341.9,495.4 L342.6,481.9 L343.3,473.2 L344,483 L344.7,497.9 L345.4,512.4 L346.1,524.4 L346.8,531.9 L347.5,535.5 L348.2,537.9 L348.9,539.5 L349.6,540.2 L350.3,540.5 L351,540.6 L351.7,540.6 L352.4,540.7 L353.1,540.7 L353.8,540.6 L354.5,540.7 L355.2,540.8 L355.9,540.8 L356.6,540.8 L357.3,540.8 L358,540.7 L358.7,540.7 L359.4,540.8 L360.1,540.7 L360.8,540.7 L361.5,540.8 L362.2,540.7 L362.9,540.7 L363.6,540.7 L364.3,540.7 L365,540.8 L365.7,540.8 L366.4,540.7 L367.1,540.7 L367.8,540.8 L368.5,540.8 L369.2,540.8 L369.9,540.8 L370.6,540.7 L371.3,540.7 L372,540.7 L372.7,540.7 L373.4,540.8 L374.1,540.8 L374.8,540.8 L375.5,540.7" fill="none" stroke="#d2d2d5" stroke-width="1.05" stroke-linejoin="round"/>
<path d="M301.2,540.8 L301.2,540.8 L302,540.8 L302.7,540.8 L303.4,540.8 L304.1,540.8 L304.8,540.8 L305.5,540.8 L306.2,540.8 L306.9,540.8 L307.6,540.8 L308.3,540.7 L309,540.8 L309.7,540.8 L310.4,540.8 L311.1,540.7 L311.8,540.7 L312.5,540.8 L313.2,540.8 L313.9,540.7 L314.6,540.7 L315.3,540.8 L316,540.8 L316.7,540.8 L317.4,540.7 L318.1,540.8 L318.8,540.8 L319.5,540.8 L320.2,540.8 L320.9,540.8 L321.6,540.8 L322.3,540.8 L323,540.7 L323.7,540.7 L324.4,540.8 L325.1,540.7 L325.8,540.7 L326.5,540.7 L327.2,540.7 L327.9,540.7 L328.6,540.8 L329.3,540.8 L330,540.8 L330.7,540.7 L331.4,540.6 L332.1,540.6 L332.8,540.7 L333.5,540.7 L334.2,540.6 L334.9,540.5 L335.6,540.3 L336.3,540.2 L337,539.5 L337.7,537.9 L338.4,535.1 L339.1,531.1 L339.8,525.6 L340.5,517.8 L341.2,507.5 L341.9,494.3 L342.6,479.8 L343.3,471.5 L344,484.5 L344.7,501.8 L345.4,514.7 L346.1,523.8 L346.8,530.9 L347.5,535 L348.2,537.4 L348.9,539.2 L349.6,540.1 L350.3,540.6 L351,540.7 L351.7,540.7 L352.4,540.7 L353.1,540.8 L353.8,540.8 L354.5,540.7 L355.2,540.8 L355.9,540.8 L356.6,540.8 L357.3,540.8 L358,540.8 L358.7,540.8 L359.4,540.8 L360.1,540.8 L360.8,540.8 L361.5,540.8 L362.2,540.8 L362.9,540.8 L363.6,540.8 L364.3,540.7 L365,540.7 L365.7,540.7 L366.4,540.8 L367.1,540.8 L367.8,540.8 L368.5,540.8 L369.2,540.8 L369.9,540.7 L370.6,540.7 L371.3,540.8 L372,540.8 L372.7,540.7 L373.4,540.7 L374.1,540.8 L374.8,540.8 L375.5,540.8 L375.5,540.8 Z" fill="rgba(110,113,124,0.23)" stroke="none"/>
<path d="M301.2,540.8 L302,540.8 L302.7,540.8 L303.4,540.8 L304.1,540.8 L304.8,540.8 L305.5,540.8 L306.2,540.8 L306.9,540.8 L307.6,540.8 L308.3,540.7 L309,540.8 L309.7,540.8 L310.4,540.8 L311.1,540.7 L311.8,540.7 L312.5,540.8 L313.2,540.8 L313.9,540.7 L314.6,540.7 L315.3,540.8 L316,540.8 L316.7,540.8 L317.4,540.7 L318.1,540.8 L318.8,540.8 L319.5,540.8 L320.2,540.8 L320.9,540.8 L321.6,540.8 L322.3,540.8 L323,540.7 L323.7,540.7 L324.4,540.8 L325.1,540.7 L325.8,540.7 L326.5,540.7 L327.2,540.7 L327.9,540.7 L328.6,540.8 L329.3,540.8 L330,540.8 L330.7,540.7 L331.4,540.6 L332.1,540.6 L332.8,540.7 L333.5,540.7 L334.2,540.6 L334.9,540.5 L335.6,540.3 L336.3,540.2 L337,539.5 L337.7,537.9 L338.4,535.1 L339.1,531.1 L339.8,525.6 L340.5,517.8 L341.2,507.5 L341.9,494.3 L342.6,479.8 L343.3,471.5 L344,484.5 L344.7,501.8 L345.4,514.7 L346.1,523.8 L346.8,530.9 L347.5,535 L348.2,537.4 L348.9,539.2 L349.6,540.1 L350.3,540.6 L351,540.7 L351.7,540.7 L352.4,540.7 L353.1,540.8 L353.8,540.8 L354.5,540.7 L355.2,540.8 L355.9,540.8 L356.6,540.8 L357.3,540.8 L358,540.8 L358.7,540.8 L359.4,540.8 L360.1,540.8 L360.8,540.8 L361.5,540.8 L362.2,540.8 L362.9,540.8 L363.6,540.8 L364.3,540.7 L365,540.7 L365.7,540.7 L366.4,540.8 L367.1,540.8 L367.8,540.8 L368.5,540.8 L369.2,540.8 L369.9,540.7 L370.6,540.7 L371.3,540.8 L372,540.8 L372.7,540.7 L373.4,540.7 L374.1,540.8 L374.8,540.8 L375.5,540.8" fill="none" stroke="#4a4f62" stroke-width="1.05" stroke-linejoin="round"/>
<path d="M301.2,540.8 L301.2,540.7 L302,540.8 L302.7,540.8 L303.4,540.8 L304.1,540.7 L304.8,540.7 L305.5,540.7 L306.2,540.7 L306.9,540.7 L307.6,540.7 L308.3,540.8 L309,540.8 L309.7,540.8 L310.4,540.8 L311.1,540.7 L311.8,540.8 L312.5,540.8 L313.2,540.8 L313.9,540.8 L314.6,540.8 L315.3,540.8 L316,540.7 L316.7,540.7 L317.4,540.7 L318.1,540.7 L318.8,540.7 L319.5,540.7 L320.2,540.7 L320.9,540.7 L321.6,540.6 L322.3,540.7 L323,540.7 L323.7,540.7 L324.4,540.7 L325.1,540.7 L325.8,540.7 L326.5,540.7 L327.2,540.7 L327.9,540.7 L328.6,540.7 L329.3,540.6 L330,540.8 L330.7,540.8 L331.4,540.8 L332.1,540.8 L332.8,540.8 L333.5,540.8 L334.2,540.8 L334.9,540.8 L335.6,540.7 L336.3,540.7 L337,540.8 L337.7,540.8 L338.4,540.8 L339.1,540.8 L339.8,540.7 L340.5,540.7 L341.2,540.7 L341.9,540.7 L342.6,540.7 L343.3,540.8 L344,540.8 L344.7,540.8 L345.4,540.7 L346.1,540.7 L346.8,540.8 L347.5,540.7 L348.2,540.7 L348.9,540.7 L349.6,540.8 L350.3,540.7 L351,540.7 L351.7,540.7 L352.4,540.7 L353.1,540.8 L353.8,540.7 L354.5,540.7 L355.2,540.6 L355.9,540.6 L356.6,540.5 L357.3,540.3 L358,539.9 L358.7,539.5 L359.4,538.8 L360.1,537.6 L360.8,535.6 L361.5,532.5 L362.2,528.5 L362.9,523.3 L363.6,515 L364.3,503.8 L365,494 L365.7,485 L366.4,476.4 L367.1,479.6 L367.8,494.2 L368.5,510.4 L369.2,522.7 L369.9,530.7 L370.6,535.7 L371.3,538.3 L372,539.6 L372.7,540.2 L373.4,540.5 L374.1,540.7 L374.8,540.7 L375.5,540.8 L375.5,540.8 Z" fill="rgba(44,75,142,0.27)" stroke="none"/>
<path d="M301.2,540.7 L302,540.8 L302.7,540.8 L303.4,540.8 L304.1,540.7 L304.8,540.7 L305.5,540.7 L306.2,540.7 L306.9,540.7 L307.6,540.7 L308.3,540.8 L309,540.8 L309.7,540.8 L310.4,540.8 L311.1,540.7 L311.8,540.8 L312.5,540.8 L313.2,540.8 L313.9,540.8 L314.6,540.8 L315.3,540.8 L316,540.7 L316.7,540.7 L317.4,540.7 L318.1,540.7 L318.8,540.7 L319.5,540.7 L320.2,540.7 L320.9,540.7 L321.6,540.6 L322.3,540.7 L323,540.7 L323.7,540.7 L324.4,540.7 L325.1,540.7 L325.8,540.7 L326.5,540.7 L327.2,540.7 L327.9,540.7 L328.6,540.7 L329.3,540.6 L330,540.8 L330.7,540.8 L331.4,540.8 L332.1,540.8 L332.8,540.8 L333.5,540.8 L334.2,540.8 L334.9,540.8 L335.6,540.7 L336.3,540.7 L337,540.8 L337.7,540.8 L338.4,540.8 L339.1,540.8 L339.8,540.7 L340.5,540.7 L341.2,540.7 L341.9,540.7 L342.6,540.7 L343.3,540.8 L344,540.8 L344.7,540.8 L345.4,540.7 L346.1,540.7 L346.8,540.8 L347.5,540.7 L348.2,540.7 L348.9,540.7 L349.6,540.8 L350.3,540.7 L351,540.7 L351.7,540.7 L352.4,540.7 L353.1,540.8 L353.8,540.7 L354.5,540.7 L355.2,540.6 L355.9,540.6 L356.6,540.5 L357.3,540.3 L358,539.9 L358.7,539.5 L359.4,538.8 L360.1,537.6 L360.8,535.6 L361.5,532.5 L362.2,528.5 L362.9,523.3 L363.6,515 L364.3,503.8 L365,494 L365.7,485 L366.4,476.4 L367.1,479.6 L367.8,494.2 L368.5,510.4 L369.2,522.7 L369.9,530.7 L370.6,535.7 L371.3,538.3 L372,539.6 L372.7,540.2 L373.4,540.5 L374.1,540.7 L374.8,540.7 L375.5,540.8" fill="none" stroke="#2c4b8e" stroke-width="1.05" stroke-linejoin="round"/>
<path d="M301.2,540.8 L301.2,540.8 L302,540.8 L302.7,540.7 L303.4,540.7 L304.1,540.7 L304.8,540.7 L305.5,540.7 L306.2,540.7 L306.9,540.7 L307.6,540.8 L308.3,540.8 L309,540.8 L309.7,540.8 L310.4,540.8 L311.1,540.8 L311.8,540.8 L312.5,540.8 L313.2,540.8 L313.9,540.8 L314.6,540.8 L315.3,540.7 L316,540.7 L316.7,540.8 L317.4,540.8 L318.1,540.8 L318.8,540.8 L319.5,540.7 L320.2,540.7 L320.9,540.8 L321.6,540.8 L322.3,540.8 L323,540.8 L323.7,540.7 L324.4,540.7 L325.1,540.7 L325.8,540.7 L326.5,540.7 L327.2,540.7 L327.9,540.7 L328.6,540.8 L329.3,540.8 L330,540.8 L330.7,540.7 L331.4,540.7 L332.1,540.7 L332.8,540.7 L333.5,540.8 L334.2,540.8 L334.9,540.7 L335.6,540.7 L336.3,540.8 L337,540.8 L337.7,540.8 L338.4,540.8 L339.1,540.8 L339.8,540.8 L340.5,540.7 L341.2,540.6 L341.9,540.7 L342.6,540.7 L343.3,540.8 L344,540.8 L344.7,540.8 L345.4,540.7 L346.1,540.8 L346.8,540.8 L347.5,540.8 L348.2,540.8 L348.9,540.8 L349.6,540.8 L350.3,540.7 L351,540.8 L351.7,540.8 L352.4,540.7 L353.1,540.7 L353.8,540.7 L354.5,540.8 L355.2,540.8 L355.9,540.8 L356.6,540.7 L357.3,540.5 L358,540.1 L358.7,539.7 L359.4,539.3 L360.1,537.9 L360.8,535.7 L361.5,532.8 L362.2,528.8 L362.9,523.7 L363.6,516.6 L364.3,507.1 L365,497.1 L365.7,487.2 L366.4,478.1 L367.1,480.7 L367.8,495.9 L368.5,511.7 L369.2,523.6 L369.9,531.4 L370.6,535.5 L371.3,537.9 L372,539.5 L372.7,540.3 L373.4,540.6 L374.1,540.7 L374.8,540.7 L375.5,540.7 L375.5,540.8 Z" fill="rgba(192,24,63,0.36)" stroke="none"/>
<path d="M301.2,540.8 L302,540.8 L302.7,540.7 L303.4,540.7 L304.1,540.7 L304.8,540.7 L305.5,540.7 L306.2,540.7 L306.9,540.7 L307.6,540.8 L308.3,540.8 L309,540.8 L309.7,540.8 L310.4,540.8 L311.1,540.8 L311.8,540.8 L312.5,540.8 L313.2,540.8 L313.9,540.8 L314.6,540.8 L315.3,540.7 L316,540.7 L316.7,540.8 L317.4,540.8 L318.1,540.8 L318.8,540.8 L319.5,540.7 L320.2,540.7 L320.9,540.8 L321.6,540.8 L322.3,540.8 L323,540.8 L323.7,540.7 L324.4,540.7 L325.1,540.7 L325.8,540.7 L326.5,540.7 L327.2,540.7 L327.9,540.7 L328.6,540.8 L329.3,540.8 L330,540.8 L330.7,540.7 L331.4,540.7 L332.1,540.7 L332.8,540.7 L333.5,540.8 L334.2,540.8 L334.9,540.7 L335.6,540.7 L336.3,540.8 L337,540.8 L337.7,540.8 L338.4,540.8 L339.1,540.8 L339.8,540.8 L340.5,540.7 L341.2,540.6 L341.9,540.7 L342.6,540.7 L343.3,540.8 L344,540.8 L344.7,540.8 L345.4,540.7 L346.1,540.8 L346.8,540.8 L347.5,540.8 L348.2,540.8 L348.9,540.8 L349.6,540.8 L350.3,540.7 L351,540.8 L351.7,540.8 L352.4,540.7 L353.1,540.7 L353.8,540.7 L354.5,540.8 L355.2,540.8 L355.9,540.8 L356.6,540.7 L357.3,540.5 L358,540.1 L358.7,539.7 L359.4,539.3 L360.1,537.9 L360.8,535.7 L361.5,532.8 L362.2,528.8 L362.9,523.7 L363.6,516.6 L364.3,507.1 L365,497.1 L365.7,487.2 L366.4,478.1 L367.1,480.7 L367.8,495.9 L368.5,511.7 L369.2,523.6 L369.9,531.4 L370.6,535.5 L371.3,537.9 L372,539.5 L372.7,540.3 L373.4,540.6 L374.1,540.7 L374.8,540.7 L375.5,540.7" fill="none" stroke="#c0183f" stroke-width="1.05" stroke-linejoin="round"/>
<rect x="301.2" y="468" width="74.2" height="72.8" fill="none" stroke="#000" stroke-width="1.1"/>
<line x1="298.6" y1="540.8" x2="301.2" y2="540.8" stroke="#000" stroke-width="0.9"/>
<text x="296.6" y="543" font-size="6.2" stroke="#000" stroke-width="0.1" text-anchor="end">0</text>
<line x1="299.9" y1="536.4" x2="301.2" y2="536.4" stroke="#000" stroke-width="0.6"/>
<line x1="299.9" y1="532" x2="301.2" y2="532" stroke="#000" stroke-width="0.6"/>
<line x1="299.9" y1="527.7" x2="301.2" y2="527.7" stroke="#000" stroke-width="0.6"/>
<line x1="299.9" y1="523.3" x2="301.2" y2="523.3" stroke="#000" stroke-width="0.6"/>
<line x1="298.6" y1="519" x2="301.2" y2="519" stroke="#000" stroke-width="0.9"/>
<text x="296.6" y="521.2" font-size="6.2" stroke="#000" stroke-width="0.1" text-anchor="end">200</text>
<line x1="299.9" y1="514.6" x2="301.2" y2="514.6" stroke="#000" stroke-width="0.6"/>
<line x1="299.9" y1="510.3" x2="301.2" y2="510.3" stroke="#000" stroke-width="0.6"/>
<line x1="299.9" y1="505.9" x2="301.2" y2="505.9" stroke="#000" stroke-width="0.6"/>
<line x1="299.9" y1="501.6" x2="301.2" y2="501.6" stroke="#000" stroke-width="0.6"/>
<line x1="298.6" y1="497.2" x2="301.2" y2="497.2" stroke="#000" stroke-width="0.9"/>
<text x="296.6" y="499.4" font-size="6.2" stroke="#000" stroke-width="0.1" text-anchor="end">400</text>
<line x1="299.9" y1="492.9" x2="301.2" y2="492.9" stroke="#000" stroke-width="0.6"/>
<line x1="299.9" y1="488.5" x2="301.2" y2="488.5" stroke="#000" stroke-width="0.6"/>
<line x1="299.9" y1="484.2" x2="301.2" y2="484.2" stroke="#000" stroke-width="0.6"/>
<line x1="299.9" y1="479.8" x2="301.2" y2="479.8" stroke="#000" stroke-width="0.6"/>
<line x1="298.6" y1="475.5" x2="301.2" y2="475.5" stroke="#000" stroke-width="0.9"/>
<text x="296.6" y="477.7" font-size="6.2" stroke="#000" stroke-width="0.1" text-anchor="end">600</text>
<line x1="299.9" y1="471.1" x2="301.2" y2="471.1" stroke="#000" stroke-width="0.6"/>
<line x1="302" y1="540.8" x2="302" y2="543" stroke="#000" stroke-width="0.9"/>
<line x1="305.7" y1="540.8" x2="305.7" y2="542" stroke="#000" stroke-width="0.6"/>
<line x1="307.8" y1="540.8" x2="307.8" y2="542" stroke="#000" stroke-width="0.6"/>
<line x1="309.3" y1="540.8" x2="309.3" y2="542" stroke="#000" stroke-width="0.6"/>
<line x1="310.5" y1="540.8" x2="310.5" y2="542" stroke="#000" stroke-width="0.6"/>
<line x1="311.5" y1="540.8" x2="311.5" y2="542" stroke="#000" stroke-width="0.6"/>
<line x1="312.3" y1="540.8" x2="312.3" y2="542" stroke="#000" stroke-width="0.6"/>
<line x1="313" y1="540.8" x2="313" y2="542" stroke="#000" stroke-width="0.6"/>
<line x1="313.6" y1="540.8" x2="313.6" y2="542" stroke="#000" stroke-width="0.6"/>
<text x="302.4" y="552" font-size="6.6" stroke="#000" stroke-width="0.1" text-anchor="middle">10</text>
<text x="306.3" y="549.5" font-size="4.6" stroke="#000" stroke-width="0.1">0</text>
<line x1="314.2" y1="540.8" x2="314.2" y2="543" stroke="#000" stroke-width="0.9"/>
<line x1="317.9" y1="540.8" x2="317.9" y2="542" stroke="#000" stroke-width="0.6"/>
<line x1="320" y1="540.8" x2="320" y2="542" stroke="#000" stroke-width="0.6"/>
<line x1="321.5" y1="540.8" x2="321.5" y2="542" stroke="#000" stroke-width="0.6"/>
<line x1="322.7" y1="540.8" x2="322.7" y2="542" stroke="#000" stroke-width="0.6"/>
<line x1="323.7" y1="540.8" x2="323.7" y2="542" stroke="#000" stroke-width="0.6"/>
<line x1="324.5" y1="540.8" x2="324.5" y2="542" stroke="#000" stroke-width="0.6"/>
<line x1="325.2" y1="540.8" x2="325.2" y2="542" stroke="#000" stroke-width="0.6"/>
<line x1="325.8" y1="540.8" x2="325.8" y2="542" stroke="#000" stroke-width="0.6"/>
<text x="314.6" y="552" font-size="6.6" stroke="#000" stroke-width="0.1" text-anchor="middle">10</text>
<text x="318.5" y="549.5" font-size="4.6" stroke="#000" stroke-width="0.1">1</text>
<line x1="326.4" y1="540.8" x2="326.4" y2="543" stroke="#000" stroke-width="0.9"/>
<line x1="330.1" y1="540.8" x2="330.1" y2="542" stroke="#000" stroke-width="0.6"/>
<line x1="332.2" y1="540.8" x2="332.2" y2="542" stroke="#000" stroke-width="0.6"/>
<line x1="333.7" y1="540.8" x2="333.7" y2="542" stroke="#000" stroke-width="0.6"/>
<line x1="334.9" y1="540.8" x2="334.9" y2="542" stroke="#000" stroke-width="0.6"/>
<line x1="335.9" y1="540.8" x2="335.9" y2="542" stroke="#000" stroke-width="0.6"/>
<line x1="336.7" y1="540.8" x2="336.7" y2="542" stroke="#000" stroke-width="0.6"/>
<line x1="337.4" y1="540.8" x2="337.4" y2="542" stroke="#000" stroke-width="0.6"/>
<line x1="338" y1="540.8" x2="338" y2="542" stroke="#000" stroke-width="0.6"/>
<text x="326.8" y="552" font-size="6.6" stroke="#000" stroke-width="0.1" text-anchor="middle">10</text>
<text x="330.7" y="549.5" font-size="4.6" stroke="#000" stroke-width="0.1">2</text>
<line x1="338.6" y1="540.8" x2="338.6" y2="543" stroke="#000" stroke-width="0.9"/>
<line x1="342.3" y1="540.8" x2="342.3" y2="542" stroke="#000" stroke-width="0.6"/>
<line x1="344.4" y1="540.8" x2="344.4" y2="542" stroke="#000" stroke-width="0.6"/>
<line x1="345.9" y1="540.8" x2="345.9" y2="542" stroke="#000" stroke-width="0.6"/>
<line x1="347.1" y1="540.8" x2="347.1" y2="542" stroke="#000" stroke-width="0.6"/>
<line x1="348.1" y1="540.8" x2="348.1" y2="542" stroke="#000" stroke-width="0.6"/>
<line x1="348.9" y1="540.8" x2="348.9" y2="542" stroke="#000" stroke-width="0.6"/>
<line x1="349.6" y1="540.8" x2="349.6" y2="542" stroke="#000" stroke-width="0.6"/>
<line x1="350.2" y1="540.8" x2="350.2" y2="542" stroke="#000" stroke-width="0.6"/>
<text x="339" y="552" font-size="6.6" stroke="#000" stroke-width="0.1" text-anchor="middle">10</text>
<text x="342.9" y="549.5" font-size="4.6" stroke="#000" stroke-width="0.1">3</text>
<line x1="350.8" y1="540.8" x2="350.8" y2="543" stroke="#000" stroke-width="0.9"/>
<line x1="354.5" y1="540.8" x2="354.5" y2="542" stroke="#000" stroke-width="0.6"/>
<line x1="356.6" y1="540.8" x2="356.6" y2="542" stroke="#000" stroke-width="0.6"/>
<line x1="358.1" y1="540.8" x2="358.1" y2="542" stroke="#000" stroke-width="0.6"/>
<line x1="359.3" y1="540.8" x2="359.3" y2="542" stroke="#000" stroke-width="0.6"/>
<line x1="360.3" y1="540.8" x2="360.3" y2="542" stroke="#000" stroke-width="0.6"/>
<line x1="361.1" y1="540.8" x2="361.1" y2="542" stroke="#000" stroke-width="0.6"/>
<line x1="361.8" y1="540.8" x2="361.8" y2="542" stroke="#000" stroke-width="0.6"/>
<line x1="362.4" y1="540.8" x2="362.4" y2="542" stroke="#000" stroke-width="0.6"/>
<text x="351.2" y="552" font-size="6.6" stroke="#000" stroke-width="0.1" text-anchor="middle">10</text>
<text x="355.1" y="549.5" font-size="4.6" stroke="#000" stroke-width="0.1">4</text>
<line x1="363" y1="540.8" x2="363" y2="543" stroke="#000" stroke-width="0.9"/>
<line x1="366.7" y1="540.8" x2="366.7" y2="542" stroke="#000" stroke-width="0.6"/>
<line x1="368.8" y1="540.8" x2="368.8" y2="542" stroke="#000" stroke-width="0.6"/>
<line x1="370.3" y1="540.8" x2="370.3" y2="542" stroke="#000" stroke-width="0.6"/>
<line x1="371.5" y1="540.8" x2="371.5" y2="542" stroke="#000" stroke-width="0.6"/>
<line x1="372.5" y1="540.8" x2="372.5" y2="542" stroke="#000" stroke-width="0.6"/>
<line x1="373.3" y1="540.8" x2="373.3" y2="542" stroke="#000" stroke-width="0.6"/>
<line x1="374" y1="540.8" x2="374" y2="542" stroke="#000" stroke-width="0.6"/>
<line x1="374.6" y1="540.8" x2="374.6" y2="542" stroke="#000" stroke-width="0.6"/>
<text x="363.4" y="552" font-size="6.6" stroke="#000" stroke-width="0.1" text-anchor="middle">10</text>
<text x="367.3" y="549.5" font-size="4.6" stroke="#000" stroke-width="0.1">5</text>
<line x1="375.2" y1="540.8" x2="375.2" y2="543" stroke="#000" stroke-width="0.9"/>
<text x="375.6" y="552" font-size="6.6" stroke="#000" stroke-width="0.1" text-anchor="middle">10</text>
<text x="379.5" y="549.5" font-size="4.6" stroke="#000" stroke-width="0.1">6</text>
<line x1="412" y1="467" x2="412" y2="535" stroke="#000" stroke-width="1.1"/>
<line x1="411.5" y1="534.5" x2="511.8" y2="534.5" stroke="#000" stroke-width="1.1"/>
<line x1="409" y1="534.5" x2="412" y2="534.5" stroke="#000" stroke-width="0.9"/>
<text x="407.4" y="536.7" font-size="6.2" stroke="#000" stroke-width="0.1" text-anchor="end">0</text>
<line x1="409" y1="523.7" x2="412" y2="523.7" stroke="#000" stroke-width="0.9"/>
<text x="407.4" y="525.9" font-size="6.2" stroke="#000" stroke-width="0.1" text-anchor="end">20</text>
<line x1="409" y1="512.8" x2="412" y2="512.8" stroke="#000" stroke-width="0.9"/>
<text x="407.4" y="515" font-size="6.2" stroke="#000" stroke-width="0.1" text-anchor="end">40</text>
<line x1="409" y1="502" x2="412" y2="502" stroke="#000" stroke-width="0.9"/>
<text x="407.4" y="504.2" font-size="6.2" stroke="#000" stroke-width="0.1" text-anchor="end">60</text>
<line x1="409" y1="491.2" x2="412" y2="491.2" stroke="#000" stroke-width="0.9"/>
<text x="407.4" y="493.4" font-size="6.2" stroke="#000" stroke-width="0.1" text-anchor="end">80</text>
<line x1="409" y1="480.3" x2="412" y2="480.3" stroke="#000" stroke-width="0.9"/>
<text x="407.4" y="482.5" font-size="6.2" stroke="#000" stroke-width="0.1" text-anchor="end">100</text>
<line x1="409" y1="469.5" x2="412" y2="469.5" stroke="#000" stroke-width="0.9"/>
<text x="407.4" y="471.7" font-size="6.2" stroke="#000" stroke-width="0.1" text-anchor="end">120</text>
<line x1="418" y1="534.5" x2="418" y2="536.9" stroke="#000" stroke-width="0.9"/>
<text x="417.7" y="546.8" font-size="6.4" stroke="#000" stroke-width="0.1" text-anchor="middle">-3</text>
<line x1="436.2" y1="534.5" x2="436.2" y2="536.9" stroke="#000" stroke-width="0.9"/>
<text x="435.9" y="546.8" font-size="6.4" stroke="#000" stroke-width="0.1" text-anchor="middle">-2</text>
<line x1="454.5" y1="534.5" x2="454.5" y2="536.9" stroke="#000" stroke-width="0.9"/>
<text x="454.2" y="546.8" font-size="6.4" stroke="#000" stroke-width="0.1" text-anchor="middle">-1</text>
<line x1="472.8" y1="534.5" x2="472.8" y2="536.9" stroke="#000" stroke-width="0.9"/>
<text x="472.4" y="546.8" font-size="6.4" stroke="#000" stroke-width="0.1" text-anchor="middle">0</text>
<line x1="491" y1="534.5" x2="491" y2="536.9" stroke="#000" stroke-width="0.9"/>
<text x="490.7" y="546.8" font-size="6.4" stroke="#000" stroke-width="0.1" text-anchor="middle">1</text>
<line x1="509.2" y1="534.5" x2="509.2" y2="536.9" stroke="#000" stroke-width="0.9"/>
<text x="508.9" y="546.8" font-size="6.4" stroke="#000" stroke-width="0.1" text-anchor="middle">2</text>
<text x="443" y="558.3" font-size="7.2" stroke="#000" stroke-width="0.25" textLength="15.4" lengthAdjust="spacingAndGlyphs">Bir log</text>
<text x="458.8" y="561.1" font-size="4.6" stroke="#000" stroke-width="0.15" textLength="3.9" lengthAdjust="spacingAndGlyphs">10</text>
<text x="465.6" y="558.3" font-size="7.2" stroke="#000" stroke-width="0.25" textLength="14.4" lengthAdjust="spacingAndGlyphs">(µM)</text>
<text transform="translate(390,500.8) rotate(-90)" x="0" y="0" font-size="8.2" text-anchor="middle" textLength="59" lengthAdjust="spacingAndGlyphs" stroke="#000" stroke-width="0.26">Survival (% of control)</text>
<polyline points="418,480.3 465.5,505.2 478.2,504.2 491,505.2" fill="none" stroke="#2b4c90" stroke-width="1.3" stroke-linejoin="round"/>
<circle cx="418" cy="480.3" r="1.35" fill="#2b4c90"/>
<circle cx="465.5" cy="505.2" r="1.35" fill="#2b4c90"/>
<circle cx="478.2" cy="504.2" r="1.35" fill="#2b4c90"/>
<circle cx="491" cy="505.2" r="1.35" fill="#2b4c90"/>
<polyline points="418,482 465.5,506.3 478.2,500.9 491,505.2" fill="none" stroke="#b8143d" stroke-width="1.3" stroke-linejoin="round"/>
<circle cx="418" cy="482" r="1.35" fill="#b8143d"/>
<circle cx="465.5" cy="506.3" r="1.35" fill="#b8143d"/>
<circle cx="478.2" cy="500.9" r="1.35" fill="#b8143d"/>
<circle cx="491" cy="505.2" r="1.35" fill="#b8143d"/>
<text x="285" y="573" font-size="11.5" font-weight="bold">L</text>
<text x="302" y="571.2" font-size="8.9" stroke="#000" stroke-width="0.15" textLength="35" lengthAdjust="spacingAndGlyphs">Patient 10</text>
<path d="M301.2,648.5 L301.2,616.5 L302,612.8 L302.7,609.3 L303.4,609.2 L304.1,608.8 L304.8,605.4 L305.5,602.2 L306.2,600.5 L306.9,598.6 L307.6,596.1 L308.3,593.6 L309,592.8 L309.7,597.1 L310.4,602.1 L311.1,605.9 L311.8,611.7 L312.5,617.6 L313.2,622.1 L313.9,626 L314.6,629.5 L315.3,633.1 L316,636.2 L316.7,638.7 L317.4,640.1 L318.1,641.2 L318.8,642.9 L319.5,644.9 L320.2,645.9 L320.9,646.3 L321.6,646.9 L322.3,647.4 L323,647.6 L323.7,647.9 L324.4,647.8 L325.1,647.9 L325.8,648.2 L326.5,648.4 L327.2,648.3 L327.9,648.2 L328.6,648.3 L329.3,648.3 L330,648.4 L330.7,648.4 L331.4,648.5 L332.1,648.5 L332.8,648.4 L333.5,648.4 L334.2,648.4 L334.9,648.5 L335.6,648.5 L336.3,648.5 L337,648.5 L337.8,648.5 L338.5,648.5 L339.2,648.5 L339.9,648.4 L340.6,648.5 L341.3,648.5 L342,648.5 L342.7,648.4 L343.4,648.4 L344.1,648.4 L344.8,648.4 L345.5,648.5 L346.2,648.5 L346.9,648.5 L347.6,648.5 L348.3,648.5 L349,648.5 L349.7,648.5 L350.4,648.5 L351.1,648.4 L351.8,648.5 L352.5,648.5 L353.2,648.5 L353.9,648.5 L354.6,648.5 L355.3,648.4 L356,648.4 L356.7,648.5 L357.4,648.5 L358.1,648.5 L358.8,648.5 L359.5,648.5 L360.2,648.5 L360.9,648.5 L361.6,648.4 L362.3,648.3 L363,648.2 L363.7,648.3 L364.4,648.4 L365.1,648.4 L365.8,648.2 L366.5,648.2 L367.2,648.4 L367.9,648.5 L368.6,648.4 L369.3,648.4 L370,648.5 L370.7,648.5 L371.4,648.5 L372.1,648.5 L372.8,648.5 L373.5,648.5 L374.2,648.5 L374.2,648.5 Z" fill="rgba(150,150,156,0.22)" stroke="none"/>
<path d="M301.2,616.5 L302,612.8 L302.7,609.3 L303.4,609.2 L304.1,608.8 L304.8,605.4 L305.5,602.2 L306.2,600.5 L306.9,598.6 L307.6,596.1 L308.3,593.6 L309,592.8 L309.7,597.1 L310.4,602.1 L311.1,605.9 L311.8,611.7 L312.5,617.6 L313.2,622.1 L313.9,626 L314.6,629.5 L315.3,633.1 L316,636.2 L316.7,638.7 L317.4,640.1 L318.1,641.2 L318.8,642.9 L319.5,644.9 L320.2,645.9 L320.9,646.3 L321.6,646.9 L322.3,647.4 L323,647.6 L323.7,647.9 L324.4,647.8 L325.1,647.9 L325.8,648.2 L326.5,648.4 L327.2,648.3 L327.9,648.2 L328.6,648.3 L329.3,648.3 L330,648.4 L330.7,648.4 L331.4,648.5 L332.1,648.5 L332.8,648.4 L333.5,648.4 L334.2,648.4 L334.9,648.5 L335.6,648.5 L336.3,648.5 L337,648.5 L337.8,648.5 L338.5,648.5 L339.2,648.5 L339.9,648.4 L340.6,648.5 L341.3,648.5 L342,648.5 L342.7,648.4 L343.4,648.4 L344.1,648.4 L344.8,648.4 L345.5,648.5 L346.2,648.5 L346.9,648.5 L347.6,648.5 L348.3,648.5 L349,648.5 L349.7,648.5 L350.4,648.5 L351.1,648.4 L351.8,648.5 L352.5,648.5 L353.2,648.5 L353.9,648.5 L354.6,648.5 L355.3,648.4 L356,648.4 L356.7,648.5 L357.4,648.5 L358.1,648.5 L358.8,648.5 L359.5,648.5 L360.2,648.5 L360.9,648.5 L361.6,648.4 L362.3,648.3 L363,648.2 L363.7,648.3 L364.4,648.4 L365.1,648.4 L365.8,648.2 L366.5,648.2 L367.2,648.4 L367.9,648.5 L368.6,648.4 L369.3,648.4 L370,648.5 L370.7,648.5 L371.4,648.5 L372.1,648.5 L372.8,648.5 L373.5,648.5 L374.2,648.5" fill="none" stroke="#d2d2d5" stroke-width="1.05" stroke-linejoin="round"/>
<path d="M301.2,648.5 L301.2,631.2 L302,629.4 L302.7,627.4 L303.4,625.8 L304.1,625.2 L304.8,624 L305.5,622 L306.2,618.8 L306.9,614.8 L307.6,612.9 L308.3,612.2 L309,609.5 L309.7,606.3 L310.4,605.5 L311.1,604 L311.8,600.8 L312.5,600 L313.2,603.7 L313.9,610.1 L314.6,616 L315.3,619.6 L316,622.3 L316.7,625.4 L317.4,628.5 L318.1,631.6 L318.8,635.1 L319.5,638.7 L320.2,641 L320.9,642 L321.6,643.3 L322.3,644.4 L323,645.3 L323.7,646.4 L324.4,647 L325.1,647.3 L325.8,647.4 L326.5,647.6 L327.2,647.9 L327.9,648 L328.6,648 L329.3,648.3 L330,648.5 L330.7,648.5 L331.4,648.5 L332.1,648.5 L332.8,648.5 L333.5,648.5 L334.2,648.5 L334.9,648.5 L335.6,648.5 L336.3,648.5 L337,648.5 L337.8,648.4 L338.5,648.5 L339.2,648.5 L339.9,648.5 L340.6,648.5 L341.3,648.5 L342,648.5 L342.7,648.5 L343.4,648.4 L344.1,648.5 L344.8,648.5 L345.5,648.4 L346.2,648.4 L346.9,648.4 L347.6,648.3 L348.3,648.3 L349,648.4 L349.7,648.5 L350.4,648.5 L351.1,648.3 L351.8,648.4 L352.5,648.5 L353.2,648.5 L353.9,648.5 L354.6,648.4 L355.3,648.4 L356,648.4 L356.7,648.4 L357.4,648.4 L358.1,648.5 L358.8,648.5 L359.5,648.5 L360.2,648.4 L360.9,648.5 L361.6,648.5 L362.3,648.5 L363,648.5 L363.7,648.5 L364.4,648.5 L365.1,648.5 L365.8,648.4 L366.5,648.4 L367.2,648.4 L367.9,648.4 L368.6,648.5 L369.3,648.5 L370,648.5 L370.7,648.5 L371.4,648.5 L372.1,648.5 L372.8,648.5 L373.5,648.4 L374.2,648.5 L374.2,648.5 Z" fill="rgba(110,113,124,0.23)" stroke="none"/>
<path d="M301.2,631.2 L302,629.4 L302.7,627.4 L303.4,625.8 L304.1,625.2 L304.8,624 L305.5,622 L306.2,618.8 L306.9,614.8 L307.6,612.9 L308.3,612.2 L309,609.5 L309.7,606.3 L310.4,605.5 L311.1,604 L311.8,600.8 L312.5,600 L313.2,603.7 L313.9,610.1 L314.6,616 L315.3,619.6 L316,622.3 L316.7,625.4 L317.4,628.5 L318.1,631.6 L318.8,635.1 L319.5,638.7 L320.2,641 L320.9,642 L321.6,643.3 L322.3,644.4 L323,645.3 L323.7,646.4 L324.4,647 L325.1,647.3 L325.8,647.4 L326.5,647.6 L327.2,647.9 L327.9,648 L328.6,648 L329.3,648.3 L330,648.5 L330.7,648.5 L331.4,648.5 L332.1,648.5 L332.8,648.5 L333.5,648.5 L334.2,648.5 L334.9,648.5 L335.6,648.5 L336.3,648.5 L337,648.5 L337.8,648.4 L338.5,648.5 L339.2,648.5 L339.9,648.5 L340.6,648.5 L341.3,648.5 L342,648.5 L342.7,648.5 L343.4,648.4 L344.1,648.5 L344.8,648.5 L345.5,648.4 L346.2,648.4 L346.9,648.4 L347.6,648.3 L348.3,648.3 L349,648.4 L349.7,648.5 L350.4,648.5 L351.1,648.3 L351.8,648.4 L352.5,648.5 L353.2,648.5 L353.9,648.5 L354.6,648.4 L355.3,648.4 L356,648.4 L356.7,648.4 L357.4,648.4 L358.1,648.5 L358.8,648.5 L359.5,648.5 L360.2,648.4 L360.9,648.5 L361.6,648.5 L362.3,648.5 L363,648.5 L363.7,648.5 L364.4,648.5 L365.1,648.5 L365.8,648.4 L366.5,648.4 L367.2,648.4 L367.9,648.4 L368.6,648.5 L369.3,648.5 L370,648.5 L370.7,648.5 L371.4,648.5 L372.1,648.5 L372.8,648.5 L373.5,648.4 L374.2,648.5" fill="none" stroke="#4a4f62" stroke-width="1.05" stroke-linejoin="round"/>
<path d="M301.2,648.5 L301.2,648.4 L302,648.5 L302.7,648.5 L303.4,648.5 L304.1,648.5 L304.8,648.5 L305.5,648.5 L306.2,648.5 L306.9,648.5 L307.6,648.4 L308.3,648.4 L309,648.5 L309.7,648.5 L310.4,648.5 L311.1,648.5 L311.8,648.5 L312.5,648.5 L313.2,648.4 L313.9,648.4 L314.6,648.4 L315.3,648.4 L316,648.4 L316.7,648.5 L317.4,648.5 L318.1,648.5 L318.8,648.5 L319.5,648.5 L320.2,648.5 L320.9,648.4 L321.6,648.4 L322.3,648.5 L323,648.5 L323.7,648.3 L324.4,648.1 L325.1,647.7 L325.8,647.2 L326.5,646.5 L327.2,645.6 L327.9,645.1 L328.6,645.1 L329.3,644.3 L330,642.3 L330.7,639.9 L331.4,636.8 L332.1,633.5 L332.8,629.9 L333.5,625.8 L334.2,620.7 L334.9,615.1 L335.6,608.9 L336.3,602.7 L337,596.3 L337.8,588.5 L338.5,580.8 L339.2,577.6 L339.9,586 L340.6,596.5 L341.3,604.5 L342,612.1 L342.7,620.1 L343.4,626.8 L344.1,632 L344.8,636 L345.5,639.1 L346.2,641.9 L346.9,643.5 L347.6,644.7 L348.3,645.8 L349,646.6 L349.7,647.2 L350.4,647.7 L351.1,648.2 L351.8,648.4 L352.5,648.4 L353.2,648.4 L353.9,648.4 L354.6,648.5 L355.3,648.5 L356,648.5 L356.7,648.5 L357.4,648.5 L358.1,648.5 L358.8,648.5 L359.5,648.5 L360.2,648.5 L360.9,648.5 L361.6,648.5 L362.3,648.5 L363,648.5 L363.7,648.4 L364.4,648.4 L365.1,648.4 L365.8,648.5 L366.5,648.5 L367.2,648.5 L367.9,648.5 L368.6,648.5 L369.3,648.5 L370,648.5 L370.7,648.5 L371.4,648.5 L372.1,648.5 L372.8,648.4 L373.5,648.4 L374.2,648.5 L374.2,648.5 Z" fill="rgba(44,75,142,0.27)" stroke="none"/>
<path d="M301.2,648.4 L302,648.5 L302.7,648.5 L303.4,648.5 L304.1,648.5 L304.8,648.5 L305.5,648.5 L306.2,648.5 L306.9,648.5 L307.6,648.4 L308.3,648.4 L309,648.5 L309.7,648.5 L310.4,648.5 L311.1,648.5 L311.8,648.5 L312.5,648.5 L313.2,648.4 L313.9,648.4 L314.6,648.4 L315.3,648.4 L316,648.4 L316.7,648.5 L317.4,648.5 L318.1,648.5 L318.8,648.5 L319.5,648.5 L320.2,648.5 L320.9,648.4 L321.6,648.4 L322.3,648.5 L323,648.5 L323.7,648.3 L324.4,648.1 L325.1,647.7 L325.8,647.2 L326.5,646.5 L327.2,645.6 L327.9,645.1 L328.6,645.1 L329.3,644.3 L330,642.3 L330.7,639.9 L331.4,636.8 L332.1,633.5 L332.8,629.9 L333.5,625.8 L334.2,620.7 L334.9,615.1 L335.6,608.9 L336.3,602.7 L337,596.3 L337.8,588.5 L338.5,580.8 L339.2,577.6 L339.9,586 L340.6,596.5 L341.3,604.5 L342,612.1 L342.7,620.1 L343.4,626.8 L344.1,632 L344.8,636 L345.5,639.1 L346.2,641.9 L346.9,643.5 L347.6,644.7 L348.3,645.8 L349,646.6 L349.7,647.2 L350.4,647.7 L351.1,648.2 L351.8,648.4 L352.5,648.4 L353.2,648.4 L353.9,648.4 L354.6,648.5 L355.3,648.5 L356,648.5 L356.7,648.5 L357.4,648.5 L358.1,648.5 L358.8,648.5 L359.5,648.5 L360.2,648.5 L360.9,648.5 L361.6,648.5 L362.3,648.5 L363,648.5 L363.7,648.4 L364.4,648.4 L365.1,648.4 L365.8,648.5 L366.5,648.5 L367.2,648.5 L367.9,648.5 L368.6,648.5 L369.3,648.5 L370,648.5 L370.7,648.5 L371.4,648.5 L372.1,648.5 L372.8,648.4 L373.5,648.4 L374.2,648.5" fill="none" stroke="#2c4b8e" stroke-width="1.05" stroke-linejoin="round"/>
<path d="M301.2,648.5 L301.2,648.4 L302,648.5 L302.7,648.5 L303.4,648.5 L304.1,648.5 L304.8,648.4 L305.5,648.5 L306.2,648.5 L306.9,648.4 L307.6,648.3 L308.3,648.4 L309,648.4 L309.7,648.5 L310.4,648.4 L311.1,648.4 L311.8,648.5 L312.5,648.5 L313.2,648.5 L313.9,648.5 L314.6,648.5 L315.3,648.5 L316,648.5 L316.7,648.5 L317.4,648.5 L318.1,648.4 L318.8,648.4 L319.5,648.3 L320.2,648.3 L320.9,648.4 L321.6,648.5 L322.3,648.3 L323,648.1 L323.7,648 L324.4,647.9 L325.1,647.7 L325.8,647.4 L326.5,647 L327.2,646.5 L327.9,646 L328.6,645.3 L329.3,644.1 L330,641.7 L330.7,639.2 L331.4,637.3 L332.1,634.1 L332.8,629.5 L333.5,625.1 L334.2,620.4 L334.9,614.7 L335.6,608.4 L336.3,602.2 L337,595.5 L337.8,588.6 L338.5,582.8 L339.2,580.7 L339.9,586 L340.6,592.9 L341.3,601.7 L342,611.5 L342.7,620 L343.4,626.4 L344.1,631.3 L344.8,635.6 L345.5,639 L346.2,641.6 L346.9,643.6 L347.6,645.1 L348.3,646.3 L349,647 L349.7,647.6 L350.4,648 L351.1,648.2 L351.8,648.2 L352.5,648.3 L353.2,648.4 L353.9,648.5 L354.6,648.5 L355.3,648.5 L356,648.4 L356.7,648.5 L357.4,648.5 L358.1,648.5 L358.8,648.5 L359.5,648.5 L360.2,648.5 L360.9,648.5 L361.6,648.5 L362.3,648.5 L363,648.5 L363.7,648.4 L364.4,648.5 L365.1,648.5 L365.8,648.5 L366.5,648.5 L367.2,648.4 L367.9,648.5 L368.6,648.5 L369.3,648.5 L370,648.5 L370.7,648.5 L371.4,648.5 L372.1,648.5 L372.8,648.5 L373.5,648.5 L374.2,648.5 L374.2,648.5 Z" fill="rgba(192,24,63,0.36)" stroke="none"/>
<path d="M301.2,648.4 L302,648.5 L302.7,648.5 L303.4,648.5 L304.1,648.5 L304.8,648.4 L305.5,648.5 L306.2,648.5 L306.9,648.4 L307.6,648.3 L308.3,648.4 L309,648.4 L309.7,648.5 L310.4,648.4 L311.1,648.4 L311.8,648.5 L312.5,648.5 L313.2,648.5 L313.9,648.5 L314.6,648.5 L315.3,648.5 L316,648.5 L316.7,648.5 L317.4,648.5 L318.1,648.4 L318.8,648.4 L319.5,648.3 L320.2,648.3 L320.9,648.4 L321.6,648.5 L322.3,648.3 L323,648.1 L323.7,648 L324.4,647.9 L325.1,647.7 L325.8,647.4 L326.5,647 L327.2,646.5 L327.9,646 L328.6,645.3 L329.3,644.1 L330,641.7 L330.7,639.2 L331.4,637.3 L332.1,634.1 L332.8,629.5 L333.5,625.1 L334.2,620.4 L334.9,614.7 L335.6,608.4 L336.3,602.2 L337,595.5 L337.8,588.6 L338.5,582.8 L339.2,580.7 L339.9,586 L340.6,592.9 L341.3,601.7 L342,611.5 L342.7,620 L343.4,626.4 L344.1,631.3 L344.8,635.6 L345.5,639 L346.2,641.6 L346.9,643.6 L347.6,645.1 L348.3,646.3 L349,647 L349.7,647.6 L350.4,648 L351.1,648.2 L351.8,648.2 L352.5,648.3 L353.2,648.4 L353.9,648.5 L354.6,648.5 L355.3,648.5 L356,648.4 L356.7,648.5 L357.4,648.5 L358.1,648.5 L358.8,648.5 L359.5,648.5 L360.2,648.5 L360.9,648.5 L361.6,648.5 L362.3,648.5 L363,648.5 L363.7,648.4 L364.4,648.5 L365.1,648.5 L365.8,648.5 L366.5,648.5 L367.2,648.4 L367.9,648.5 L368.6,648.5 L369.3,648.5 L370,648.5 L370.7,648.5 L371.4,648.5 L372.1,648.5 L372.8,648.5 L373.5,648.5 L374.2,648.5" fill="none" stroke="#c0183f" stroke-width="1.05" stroke-linejoin="round"/>
<rect x="301.2" y="575.5" width="73" height="73" fill="none" stroke="#000" stroke-width="1.1"/>
<line x1="298.6" y1="648.5" x2="301.2" y2="648.5" stroke="#000" stroke-width="0.9"/>
<text x="296.6" y="650.7" font-size="6.2" stroke="#000" stroke-width="0.1" text-anchor="end">0</text>
<line x1="299.9" y1="644.1" x2="301.2" y2="644.1" stroke="#000" stroke-width="0.6"/>
<line x1="299.9" y1="639.7" x2="301.2" y2="639.7" stroke="#000" stroke-width="0.6"/>
<line x1="299.9" y1="635.2" x2="301.2" y2="635.2" stroke="#000" stroke-width="0.6"/>
<line x1="299.9" y1="630.8" x2="301.2" y2="630.8" stroke="#000" stroke-width="0.6"/>
<line x1="298.6" y1="626.4" x2="301.2" y2="626.4" stroke="#000" stroke-width="0.9"/>
<text x="296.6" y="628.6" font-size="6.2" stroke="#000" stroke-width="0.1" text-anchor="end">100</text>
<line x1="299.9" y1="622" x2="301.2" y2="622" stroke="#000" stroke-width="0.6"/>
<line x1="299.9" y1="617.6" x2="301.2" y2="617.6" stroke="#000" stroke-width="0.6"/>
<line x1="299.9" y1="613.1" x2="301.2" y2="613.1" stroke="#000" stroke-width="0.6"/>
<line x1="299.9" y1="608.7" x2="301.2" y2="608.7" stroke="#000" stroke-width="0.6"/>
<line x1="298.6" y1="604.3" x2="301.2" y2="604.3" stroke="#000" stroke-width="0.9"/>
<text x="296.6" y="606.5" font-size="6.2" stroke="#000" stroke-width="0.1" text-anchor="end">200</text>
<line x1="299.9" y1="599.9" x2="301.2" y2="599.9" stroke="#000" stroke-width="0.6"/>
<line x1="299.9" y1="595.5" x2="301.2" y2="595.5" stroke="#000" stroke-width="0.6"/>
<line x1="299.9" y1="591" x2="301.2" y2="591" stroke="#000" stroke-width="0.6"/>
<line x1="299.9" y1="586.6" x2="301.2" y2="586.6" stroke="#000" stroke-width="0.6"/>
<line x1="298.6" y1="582.2" x2="301.2" y2="582.2" stroke="#000" stroke-width="0.9"/>
<text x="296.6" y="584.4" font-size="6.2" stroke="#000" stroke-width="0.1" text-anchor="end">300</text>
<line x1="299.9" y1="577.8" x2="301.2" y2="577.8" stroke="#000" stroke-width="0.6"/>
<line x1="301.2" y1="648.5" x2="301.2" y2="650.7" stroke="#000" stroke-width="0.9"/>
<line x1="306.7" y1="648.5" x2="306.7" y2="649.7" stroke="#000" stroke-width="0.6"/>
<line x1="309.8" y1="648.5" x2="309.8" y2="649.7" stroke="#000" stroke-width="0.6"/>
<line x1="312.1" y1="648.5" x2="312.1" y2="649.7" stroke="#000" stroke-width="0.6"/>
<line x1="313.8" y1="648.5" x2="313.8" y2="649.7" stroke="#000" stroke-width="0.6"/>
<line x1="315.3" y1="648.5" x2="315.3" y2="649.7" stroke="#000" stroke-width="0.6"/>
<line x1="316.5" y1="648.5" x2="316.5" y2="649.7" stroke="#000" stroke-width="0.6"/>
<line x1="317.5" y1="648.5" x2="317.5" y2="649.7" stroke="#000" stroke-width="0.6"/>
<line x1="318.4" y1="648.5" x2="318.4" y2="649.7" stroke="#000" stroke-width="0.6"/>
<text x="301.6" y="659.8" font-size="6.6" stroke="#000" stroke-width="0.1" text-anchor="middle">10</text>
<text x="305.6" y="657.2" font-size="4.6" stroke="#000" stroke-width="0.1">0</text>
<line x1="319.2" y1="648.5" x2="319.2" y2="650.7" stroke="#000" stroke-width="0.9"/>
<line x1="324.7" y1="648.5" x2="324.7" y2="649.7" stroke="#000" stroke-width="0.6"/>
<line x1="327.8" y1="648.5" x2="327.8" y2="649.7" stroke="#000" stroke-width="0.6"/>
<line x1="330.1" y1="648.5" x2="330.1" y2="649.7" stroke="#000" stroke-width="0.6"/>
<line x1="331.8" y1="648.5" x2="331.8" y2="649.7" stroke="#000" stroke-width="0.6"/>
<line x1="333.3" y1="648.5" x2="333.3" y2="649.7" stroke="#000" stroke-width="0.6"/>
<line x1="334.5" y1="648.5" x2="334.5" y2="649.7" stroke="#000" stroke-width="0.6"/>
<line x1="335.5" y1="648.5" x2="335.5" y2="649.7" stroke="#000" stroke-width="0.6"/>
<line x1="336.4" y1="648.5" x2="336.4" y2="649.7" stroke="#000" stroke-width="0.6"/>
<text x="319.6" y="659.8" font-size="6.6" stroke="#000" stroke-width="0.1" text-anchor="middle">10</text>
<text x="323.6" y="657.2" font-size="4.6" stroke="#000" stroke-width="0.1">1</text>
<line x1="337.2" y1="648.5" x2="337.2" y2="650.7" stroke="#000" stroke-width="0.9"/>
<line x1="342.7" y1="648.5" x2="342.7" y2="649.7" stroke="#000" stroke-width="0.6"/>
<line x1="345.8" y1="648.5" x2="345.8" y2="649.7" stroke="#000" stroke-width="0.6"/>
<line x1="348.1" y1="648.5" x2="348.1" y2="649.7" stroke="#000" stroke-width="0.6"/>
<line x1="349.8" y1="648.5" x2="349.8" y2="649.7" stroke="#000" stroke-width="0.6"/>
<line x1="351.3" y1="648.5" x2="351.3" y2="649.7" stroke="#000" stroke-width="0.6"/>
<line x1="352.5" y1="648.5" x2="352.5" y2="649.7" stroke="#000" stroke-width="0.6"/>
<line x1="353.5" y1="648.5" x2="353.5" y2="649.7" stroke="#000" stroke-width="0.6"/>
<line x1="354.4" y1="648.5" x2="354.4" y2="649.7" stroke="#000" stroke-width="0.6"/>
<text x="337.6" y="659.8" font-size="6.6" stroke="#000" stroke-width="0.1" text-anchor="middle">10</text>
<text x="341.6" y="657.2" font-size="4.6" stroke="#000" stroke-width="0.1">2</text>
<line x1="355.2" y1="648.5" x2="355.2" y2="650.7" stroke="#000" stroke-width="0.9"/>
<line x1="360.7" y1="648.5" x2="360.7" y2="649.7" stroke="#000" stroke-width="0.6"/>
<line x1="363.8" y1="648.5" x2="363.8" y2="649.7" stroke="#000" stroke-width="0.6"/>
<line x1="366.1" y1="648.5" x2="366.1" y2="649.7" stroke="#000" stroke-width="0.6"/>
<line x1="367.8" y1="648.5" x2="367.8" y2="649.7" stroke="#000" stroke-width="0.6"/>
<line x1="369.3" y1="648.5" x2="369.3" y2="649.7" stroke="#000" stroke-width="0.6"/>
<line x1="370.5" y1="648.5" x2="370.5" y2="649.7" stroke="#000" stroke-width="0.6"/>
<line x1="371.5" y1="648.5" x2="371.5" y2="649.7" stroke="#000" stroke-width="0.6"/>
<line x1="372.4" y1="648.5" x2="372.4" y2="649.7" stroke="#000" stroke-width="0.6"/>
<text x="355.6" y="659.8" font-size="6.6" stroke="#000" stroke-width="0.1" text-anchor="middle">10</text>
<text x="359.6" y="657.2" font-size="4.6" stroke="#000" stroke-width="0.1">3</text>
<line x1="373.2" y1="648.5" x2="373.2" y2="650.7" stroke="#000" stroke-width="0.9"/>
<text x="373.6" y="659.8" font-size="6.6" stroke="#000" stroke-width="0.1" text-anchor="middle">10</text>
<text x="377.6" y="657.2" font-size="4.6" stroke="#000" stroke-width="0.1">4</text>
<line x1="412" y1="571.2" x2="412" y2="639.2" stroke="#000" stroke-width="1.1"/>
<line x1="411.5" y1="638.8" x2="512" y2="638.8" stroke="#000" stroke-width="1.1"/>
<line x1="409" y1="638.8" x2="412" y2="638.8" stroke="#000" stroke-width="0.9"/>
<text x="407.4" y="641" font-size="6.2" stroke="#000" stroke-width="0.1" text-anchor="end">0</text>
<line x1="409" y1="627.9" x2="412" y2="627.9" stroke="#000" stroke-width="0.9"/>
<text x="407.4" y="630.1" font-size="6.2" stroke="#000" stroke-width="0.1" text-anchor="end">20</text>
<line x1="409" y1="617.1" x2="412" y2="617.1" stroke="#000" stroke-width="0.9"/>
<text x="407.4" y="619.3" font-size="6.2" stroke="#000" stroke-width="0.1" text-anchor="end">40</text>
<line x1="409" y1="606.2" x2="412" y2="606.2" stroke="#000" stroke-width="0.9"/>
<text x="407.4" y="608.4" font-size="6.2" stroke="#000" stroke-width="0.1" text-anchor="end">60</text>
<line x1="409" y1="595.4" x2="412" y2="595.4" stroke="#000" stroke-width="0.9"/>
<text x="407.4" y="597.6" font-size="6.2" stroke="#000" stroke-width="0.1" text-anchor="end">80</text>
<line x1="409" y1="584.6" x2="412" y2="584.6" stroke="#000" stroke-width="0.9"/>
<text x="407.4" y="586.8" font-size="6.2" stroke="#000" stroke-width="0.1" text-anchor="end">100</text>
<line x1="409" y1="573.7" x2="412" y2="573.7" stroke="#000" stroke-width="0.9"/>
<text x="407.4" y="575.9" font-size="6.2" stroke="#000" stroke-width="0.1" text-anchor="end">120</text>
<line x1="418.2" y1="638.8" x2="418.2" y2="641.1" stroke="#000" stroke-width="0.9"/>
<text x="417.9" y="651" font-size="6.4" stroke="#000" stroke-width="0.1" text-anchor="middle">-3</text>
<line x1="436.5" y1="638.8" x2="436.5" y2="641.1" stroke="#000" stroke-width="0.9"/>
<text x="436.2" y="651" font-size="6.4" stroke="#000" stroke-width="0.1" text-anchor="middle">-2</text>
<line x1="454.8" y1="638.8" x2="454.8" y2="641.1" stroke="#000" stroke-width="0.9"/>
<text x="454.4" y="651" font-size="6.4" stroke="#000" stroke-width="0.1" text-anchor="middle">-1</text>
<line x1="473" y1="638.8" x2="473" y2="641.1" stroke="#000" stroke-width="0.9"/>
<text x="472.7" y="651" font-size="6.4" stroke="#000" stroke-width="0.1" text-anchor="middle">0</text>
<line x1="491.2" y1="638.8" x2="491.2" y2="641.1" stroke="#000" stroke-width="0.9"/>
<text x="490.9" y="651" font-size="6.4" stroke="#000" stroke-width="0.1" text-anchor="middle">1</text>
<line x1="509.5" y1="638.8" x2="509.5" y2="641.1" stroke="#000" stroke-width="0.9"/>
<text x="509.2" y="651" font-size="6.4" stroke="#000" stroke-width="0.1" text-anchor="middle">2</text>
<text x="443.2" y="662.5" font-size="7.2" stroke="#000" stroke-width="0.25" textLength="15.4" lengthAdjust="spacingAndGlyphs">Bir log</text>
<text x="459.1" y="665.3" font-size="4.6" stroke="#000" stroke-width="0.15" textLength="3.9" lengthAdjust="spacingAndGlyphs">10</text>
<text x="465.9" y="662.5" font-size="7.2" stroke="#000" stroke-width="0.25" textLength="14.4" lengthAdjust="spacingAndGlyphs">(µM)</text>
<text transform="translate(390,605) rotate(-90)" x="0" y="0" font-size="8.2" text-anchor="middle" textLength="59" lengthAdjust="spacingAndGlyphs" stroke="#000" stroke-width="0.26">Survival (% of control)</text>
<polyline points="418.2,589.5 453,592.2 465.7,592.2 478.5,593.2 491.2,595.4" fill="none" stroke="#6db33f" stroke-width="1.3" stroke-linejoin="round"/>
<circle cx="418.2" cy="589.5" r="1.35" fill="#6db33f"/>
<circle cx="453" cy="592.2" r="1.35" fill="#6db33f"/>
<circle cx="465.7" cy="592.2" r="1.35" fill="#6db33f"/>
<circle cx="478.5" cy="593.2" r="1.35" fill="#6db33f"/>
<circle cx="491.2" cy="595.4" r="1.35" fill="#6db33f"/>
<polyline points="418.2,587.3 453,588.9 465.7,594.9 478.5,593.8 491.2,594.9" fill="none" stroke="#562a7e" stroke-width="1.3" stroke-linejoin="round"/>
<circle cx="418.2" cy="587.3" r="1.35" fill="#562a7e"/>
<circle cx="453" cy="588.9" r="1.35" fill="#562a7e"/>
<circle cx="465.7" cy="594.9" r="1.35" fill="#562a7e"/>
<circle cx="478.5" cy="593.8" r="1.35" fill="#562a7e"/>
<circle cx="491.2" cy="594.9" r="1.35" fill="#562a7e"/>
<polyline points="418.2,584.6 453,585.7 465.7,589.5 478.5,590.5 491.2,584.6" fill="none" stroke="#2b4c90" stroke-width="1.3" stroke-linejoin="round"/>
<circle cx="418.2" cy="584.6" r="1.35" fill="#2b4c90"/>
<circle cx="453" cy="585.7" r="1.35" fill="#2b4c90"/>
<circle cx="465.7" cy="589.5" r="1.35" fill="#2b4c90"/>
<circle cx="478.5" cy="590.5" r="1.35" fill="#2b4c90"/>
<circle cx="491.2" cy="584.6" r="1.35" fill="#2b4c90"/>
<polyline points="418.2,583 453,586.7 465.7,588.9 478.5,595.4 491.2,586.2" fill="none" stroke="#b8143d" stroke-width="1.3" stroke-linejoin="round"/>
<circle cx="418.2" cy="583" r="1.35" fill="#b8143d"/>
<circle cx="453" cy="586.7" r="1.35" fill="#b8143d"/>
<circle cx="465.7" cy="588.9" r="1.35" fill="#b8143d"/>
<circle cx="478.5" cy="595.4" r="1.35" fill="#b8143d"/>
<circle cx="491.2" cy="586.2" r="1.35" fill="#b8143d"/>
<rect x="0.5" y="0.5" width="519" height="690" fill="none" stroke="#000" stroke-width="1.1"/></svg>
</body></html>
